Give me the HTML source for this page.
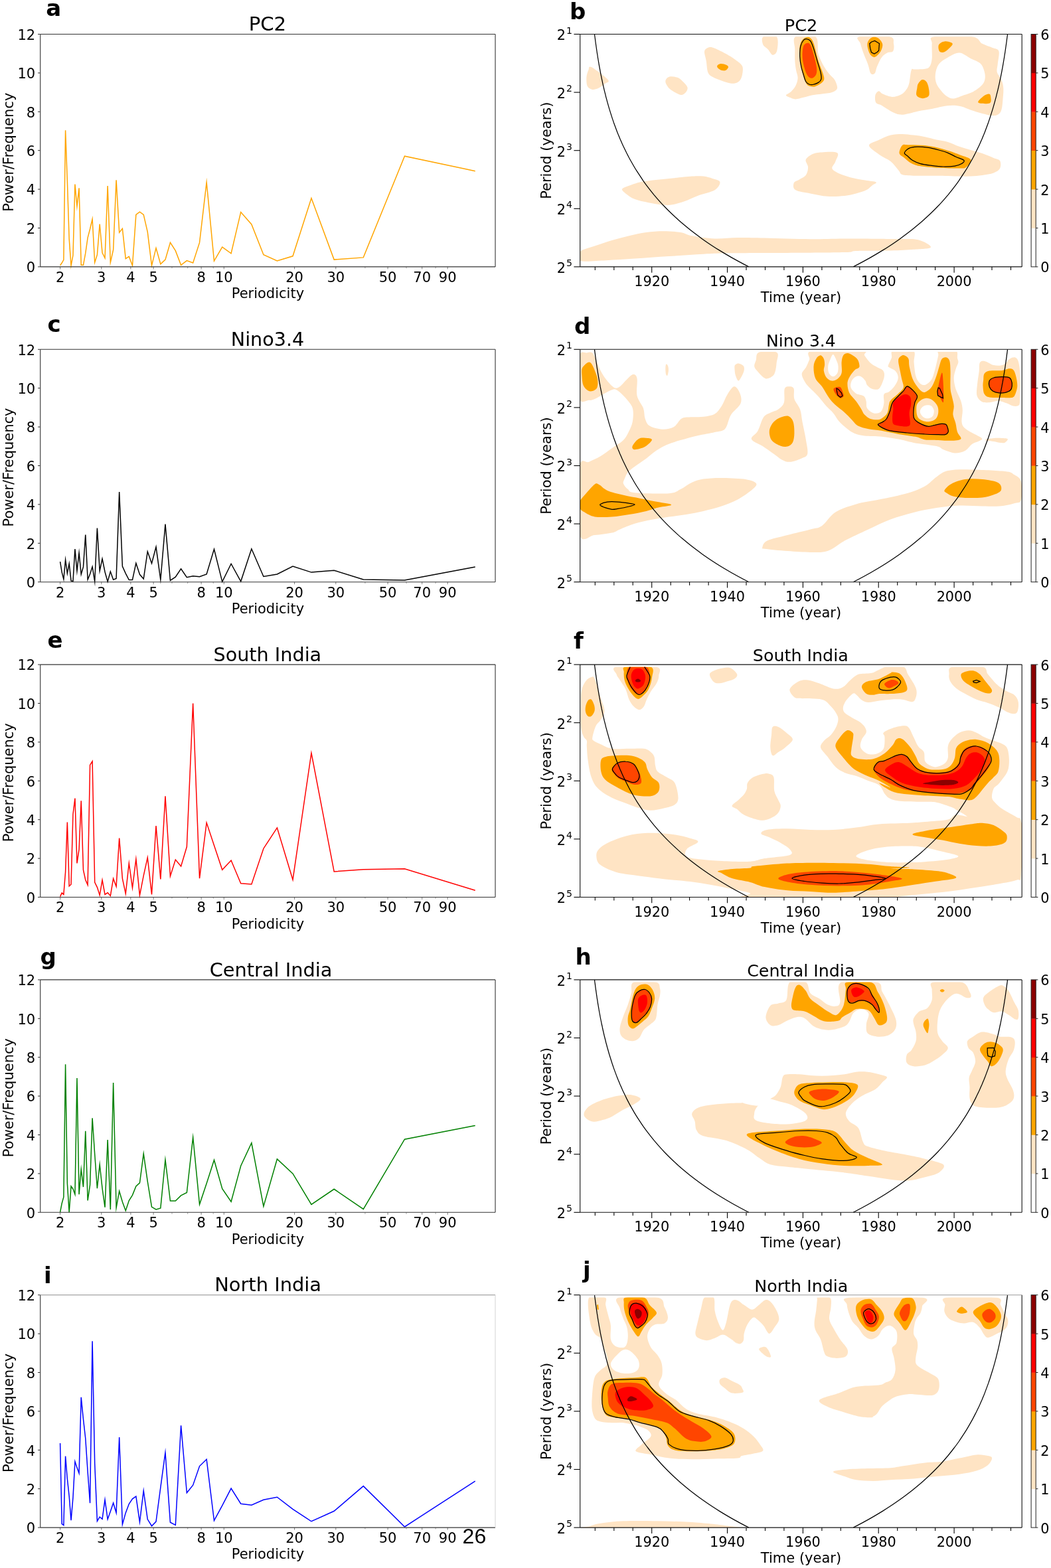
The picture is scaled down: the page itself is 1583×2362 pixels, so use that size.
<!DOCTYPE html><html><head><meta charset="utf-8"><style>html,body{margin:0;padding:0;background:#fff;}svg{display:block;}</style></head><body><svg xmlns="http://www.w3.org/2000/svg" width="1583" height="2362" viewBox="0 0 1583 2362" font-family="'DejaVu Sans', 'Liberation Sans', sans-serif" fill="#000">
<rect width="1583" height="2362" fill="#fff"/>
<line x1="57.0" y1="401.9" x2="60.7" y2="401.9" stroke="#333" stroke-width="1"/>
<text x="53.2" y="410.2" font-size="21" text-anchor="end" font-weight="normal" >0</text>
<line x1="57.0" y1="343.5" x2="60.7" y2="343.5" stroke="#333" stroke-width="1"/>
<text x="53.2" y="351.8" font-size="21" text-anchor="end" font-weight="normal" >2</text>
<line x1="57.0" y1="285.1" x2="60.7" y2="285.1" stroke="#333" stroke-width="1"/>
<text x="53.2" y="293.4" font-size="21" text-anchor="end" font-weight="normal" >4</text>
<line x1="57.0" y1="226.7" x2="60.7" y2="226.7" stroke="#333" stroke-width="1"/>
<text x="53.2" y="235.0" font-size="21" text-anchor="end" font-weight="normal" >6</text>
<line x1="57.0" y1="168.3" x2="60.7" y2="168.3" stroke="#333" stroke-width="1"/>
<text x="53.2" y="176.6" font-size="21" text-anchor="end" font-weight="normal" >8</text>
<line x1="57.0" y1="109.9" x2="60.7" y2="109.9" stroke="#333" stroke-width="1"/>
<text x="53.2" y="118.2" font-size="21" text-anchor="end" font-weight="normal" >10</text>
<line x1="57.0" y1="51.5" x2="60.7" y2="51.5" stroke="#333" stroke-width="1"/>
<text x="53.2" y="59.8" font-size="21" text-anchor="end" font-weight="normal" >12</text>
<line x1="90.6" y1="401.9" x2="90.6" y2="405.4" stroke="#555" stroke-width="0.8"/>
<text x="90.6" y="424.7" font-size="21" text-anchor="middle" font-weight="normal" >2</text>
<line x1="152.8" y1="401.9" x2="152.8" y2="405.4" stroke="#555" stroke-width="0.8"/>
<text x="152.8" y="424.7" font-size="21" text-anchor="middle" font-weight="normal" >3</text>
<line x1="196.9" y1="401.9" x2="196.9" y2="405.4" stroke="#555" stroke-width="0.8"/>
<text x="196.9" y="424.7" font-size="21" text-anchor="middle" font-weight="normal" >4</text>
<line x1="231.1" y1="401.9" x2="231.1" y2="405.4" stroke="#555" stroke-width="0.8"/>
<text x="231.1" y="424.7" font-size="21" text-anchor="middle" font-weight="normal" >5</text>
<line x1="303.1" y1="401.9" x2="303.1" y2="405.4" stroke="#555" stroke-width="0.8"/>
<text x="303.1" y="424.7" font-size="21" text-anchor="middle" font-weight="normal" >8</text>
<line x1="337.3" y1="401.9" x2="337.3" y2="405.4" stroke="#555" stroke-width="0.8"/>
<text x="337.3" y="424.7" font-size="21" text-anchor="middle" font-weight="normal" >10</text>
<line x1="443.6" y1="401.9" x2="443.6" y2="405.4" stroke="#555" stroke-width="0.8"/>
<text x="443.6" y="424.7" font-size="21" text-anchor="middle" font-weight="normal" >20</text>
<line x1="505.8" y1="401.9" x2="505.8" y2="405.4" stroke="#555" stroke-width="0.8"/>
<text x="505.8" y="424.7" font-size="21" text-anchor="middle" font-weight="normal" >30</text>
<line x1="584.1" y1="401.9" x2="584.1" y2="405.4" stroke="#555" stroke-width="0.8"/>
<text x="584.1" y="424.7" font-size="21" text-anchor="middle" font-weight="normal" >50</text>
<line x1="635.7" y1="401.9" x2="635.7" y2="405.4" stroke="#555" stroke-width="0.8"/>
<text x="635.7" y="424.7" font-size="21" text-anchor="middle" font-weight="normal" >70</text>
<line x1="674.2" y1="401.9" x2="674.2" y2="405.4" stroke="#555" stroke-width="0.8"/>
<text x="674.2" y="424.7" font-size="21" text-anchor="middle" font-weight="normal" >90</text>
<line x1="259.0" y1="401.9" x2="259.0" y2="404.4" stroke="#777" stroke-width="0.7"/>
<line x1="282.7" y1="401.9" x2="282.7" y2="404.4" stroke="#777" stroke-width="0.7"/>
<line x1="321.2" y1="401.9" x2="321.2" y2="404.4" stroke="#777" stroke-width="0.7"/>
<line x1="549.9" y1="401.9" x2="549.9" y2="404.4" stroke="#777" stroke-width="0.7"/>
<line x1="612.0" y1="401.9" x2="612.0" y2="404.4" stroke="#777" stroke-width="0.7"/>
<line x1="656.1" y1="401.9" x2="656.1" y2="404.4" stroke="#777" stroke-width="0.7"/>
<text x="403.4" y="449.2" font-size="21" text-anchor="middle" font-weight="normal" >Periodicity</text>
<text transform="translate(20.1,229.2) rotate(-90)" font-size="21" text-anchor="middle">Power/Frequency</text>
<text x="402.9" y="45.5" font-size="29.18" text-anchor="middle" font-weight="normal" >PC2</text>
<line x1="864.4" y1="51.5" x2="873.7" y2="51.5" stroke="#000" stroke-width="1.1"/>
<text x="861.8" y="60.4" font-size="20.8" text-anchor="end">2<tspan font-size="14" dx="1" dy="-9.8">1</tspan></text>
<line x1="864.4" y1="139.1" x2="873.7" y2="139.1" stroke="#000" stroke-width="1.1"/>
<text x="861.8" y="148.0" font-size="20.8" text-anchor="end">2<tspan font-size="14" dx="1" dy="-9.8">2</tspan></text>
<line x1="864.4" y1="226.7" x2="873.7" y2="226.7" stroke="#000" stroke-width="1.1"/>
<text x="861.8" y="235.6" font-size="20.8" text-anchor="end">2<tspan font-size="14" dx="1" dy="-9.8">3</tspan></text>
<line x1="864.4" y1="314.3" x2="873.7" y2="314.3" stroke="#000" stroke-width="1.1"/>
<text x="861.8" y="323.2" font-size="20.8" text-anchor="end">2<tspan font-size="14" dx="1" dy="-9.8">4</tspan></text>
<line x1="864.4" y1="401.9" x2="873.7" y2="401.9" stroke="#000" stroke-width="1.1"/>
<text x="861.8" y="410.8" font-size="20.8" text-anchor="end">2<tspan font-size="14" dx="1" dy="-9.8">5</tspan></text>
<line x1="896.3" y1="401.9" x2="896.3" y2="406.9" stroke="#000" stroke-width="1.1"/>
<line x1="924.8" y1="401.9" x2="924.8" y2="406.9" stroke="#000" stroke-width="1.1"/>
<line x1="953.2" y1="401.9" x2="953.2" y2="406.9" stroke="#000" stroke-width="1.1"/>
<line x1="981.7" y1="401.9" x2="981.7" y2="410.7" stroke="#000" stroke-width="1.1"/>
<text x="981.7" y="430.9" font-size="20.8" text-anchor="middle" font-weight="normal" >1920</text>
<line x1="1010.2" y1="401.9" x2="1010.2" y2="406.9" stroke="#000" stroke-width="1.1"/>
<line x1="1038.6" y1="401.9" x2="1038.6" y2="406.9" stroke="#000" stroke-width="1.1"/>
<line x1="1067.1" y1="401.9" x2="1067.1" y2="406.9" stroke="#000" stroke-width="1.1"/>
<line x1="1095.5" y1="401.9" x2="1095.5" y2="410.7" stroke="#000" stroke-width="1.1"/>
<text x="1095.5" y="430.9" font-size="20.8" text-anchor="middle" font-weight="normal" >1940</text>
<line x1="1124.0" y1="401.9" x2="1124.0" y2="406.9" stroke="#000" stroke-width="1.1"/>
<line x1="1152.5" y1="401.9" x2="1152.5" y2="406.9" stroke="#000" stroke-width="1.1"/>
<line x1="1180.9" y1="401.9" x2="1180.9" y2="406.9" stroke="#000" stroke-width="1.1"/>
<line x1="1209.4" y1="401.9" x2="1209.4" y2="410.7" stroke="#000" stroke-width="1.1"/>
<text x="1209.4" y="430.9" font-size="20.8" text-anchor="middle" font-weight="normal" >1960</text>
<line x1="1237.9" y1="401.9" x2="1237.9" y2="406.9" stroke="#000" stroke-width="1.1"/>
<line x1="1266.3" y1="401.9" x2="1266.3" y2="406.9" stroke="#000" stroke-width="1.1"/>
<line x1="1294.8" y1="401.9" x2="1294.8" y2="406.9" stroke="#000" stroke-width="1.1"/>
<line x1="1323.2" y1="401.9" x2="1323.2" y2="410.7" stroke="#000" stroke-width="1.1"/>
<text x="1323.2" y="430.9" font-size="20.8" text-anchor="middle" font-weight="normal" >1980</text>
<line x1="1351.7" y1="401.9" x2="1351.7" y2="406.9" stroke="#000" stroke-width="1.1"/>
<line x1="1380.2" y1="401.9" x2="1380.2" y2="406.9" stroke="#000" stroke-width="1.1"/>
<line x1="1408.6" y1="401.9" x2="1408.6" y2="406.9" stroke="#000" stroke-width="1.1"/>
<line x1="1437.1" y1="401.9" x2="1437.1" y2="410.7" stroke="#000" stroke-width="1.1"/>
<text x="1437.1" y="430.9" font-size="20.8" text-anchor="middle" font-weight="normal" >2000</text>
<line x1="1465.6" y1="401.9" x2="1465.6" y2="406.9" stroke="#000" stroke-width="1.1"/>
<line x1="1494.0" y1="401.9" x2="1494.0" y2="406.9" stroke="#000" stroke-width="1.1"/>
<line x1="1522.5" y1="401.9" x2="1522.5" y2="406.9" stroke="#000" stroke-width="1.1"/>
<text x="1206.5" y="454.9" font-size="21" text-anchor="middle" font-weight="normal" >Time (year)</text>
<text transform="translate(829.6,226.7) rotate(-90)" font-size="21" text-anchor="middle">Period (years)</text>
<text x="1206.6" y="46.9" font-size="25.65" text-anchor="middle" font-weight="normal" >PC2</text>
<rect x="1553.1" y="343.5" width="7.1" height="58.7" fill="#ffffff"/>
<rect x="1553.1" y="285.1" width="7.1" height="58.7" fill="#ffe4c4"/>
<rect x="1553.1" y="226.7" width="7.1" height="58.7" fill="#ffa500"/>
<rect x="1553.1" y="168.3" width="7.1" height="58.7" fill="#ff4500"/>
<rect x="1553.1" y="109.9" width="7.1" height="58.7" fill="#ff0000"/>
<rect x="1553.1" y="51.5" width="7.1" height="58.7" fill="#8b0000"/>
<rect x="1553.1" y="51.5" width="7.1" height="350.4" fill="none" stroke="#222" stroke-width="1"/>
<line x1="1560.2" y1="401.9" x2="1563.4" y2="401.9" stroke="#222" stroke-width="1"/>
<text x="1567.3" y="410.4" font-size="20.8" text-anchor="start" font-weight="normal" >0</text>
<line x1="1560.2" y1="343.5" x2="1563.4" y2="343.5" stroke="#222" stroke-width="1"/>
<text x="1567.3" y="352.0" font-size="20.8" text-anchor="start" font-weight="normal" >1</text>
<line x1="1560.2" y1="285.1" x2="1563.4" y2="285.1" stroke="#222" stroke-width="1"/>
<text x="1567.3" y="293.6" font-size="20.8" text-anchor="start" font-weight="normal" >2</text>
<line x1="1560.2" y1="226.7" x2="1563.4" y2="226.7" stroke="#222" stroke-width="1"/>
<text x="1567.3" y="235.2" font-size="20.8" text-anchor="start" font-weight="normal" >3</text>
<line x1="1560.2" y1="168.3" x2="1563.4" y2="168.3" stroke="#222" stroke-width="1"/>
<text x="1567.3" y="176.8" font-size="20.8" text-anchor="start" font-weight="normal" >4</text>
<line x1="1560.2" y1="109.9" x2="1563.4" y2="109.9" stroke="#222" stroke-width="1"/>
<text x="1567.3" y="118.4" font-size="20.8" text-anchor="start" font-weight="normal" >5</text>
<line x1="1560.2" y1="51.5" x2="1563.4" y2="51.5" stroke="#222" stroke-width="1"/>
<text x="1567.3" y="60.0" font-size="20.8" text-anchor="start" font-weight="normal" >6</text>
<line x1="57.0" y1="876.7" x2="60.7" y2="876.7" stroke="#333" stroke-width="1"/>
<text x="53.2" y="885.0" font-size="21" text-anchor="end" font-weight="normal" >0</text>
<line x1="57.0" y1="818.3" x2="60.7" y2="818.3" stroke="#333" stroke-width="1"/>
<text x="53.2" y="826.6" font-size="21" text-anchor="end" font-weight="normal" >2</text>
<line x1="57.0" y1="759.9" x2="60.7" y2="759.9" stroke="#333" stroke-width="1"/>
<text x="53.2" y="768.2" font-size="21" text-anchor="end" font-weight="normal" >4</text>
<line x1="57.0" y1="701.5" x2="60.7" y2="701.5" stroke="#333" stroke-width="1"/>
<text x="53.2" y="709.8" font-size="21" text-anchor="end" font-weight="normal" >6</text>
<line x1="57.0" y1="643.1" x2="60.7" y2="643.1" stroke="#333" stroke-width="1"/>
<text x="53.2" y="651.4" font-size="21" text-anchor="end" font-weight="normal" >8</text>
<line x1="57.0" y1="584.7" x2="60.7" y2="584.7" stroke="#333" stroke-width="1"/>
<text x="53.2" y="593.0" font-size="21" text-anchor="end" font-weight="normal" >10</text>
<line x1="57.0" y1="526.3" x2="60.7" y2="526.3" stroke="#333" stroke-width="1"/>
<text x="53.2" y="534.6" font-size="21" text-anchor="end" font-weight="normal" >12</text>
<line x1="90.6" y1="876.7" x2="90.6" y2="880.2" stroke="#555" stroke-width="0.8"/>
<text x="90.6" y="899.5" font-size="21" text-anchor="middle" font-weight="normal" >2</text>
<line x1="152.8" y1="876.7" x2="152.8" y2="880.2" stroke="#555" stroke-width="0.8"/>
<text x="152.8" y="899.5" font-size="21" text-anchor="middle" font-weight="normal" >3</text>
<line x1="196.9" y1="876.7" x2="196.9" y2="880.2" stroke="#555" stroke-width="0.8"/>
<text x="196.9" y="899.5" font-size="21" text-anchor="middle" font-weight="normal" >4</text>
<line x1="231.1" y1="876.7" x2="231.1" y2="880.2" stroke="#555" stroke-width="0.8"/>
<text x="231.1" y="899.5" font-size="21" text-anchor="middle" font-weight="normal" >5</text>
<line x1="303.1" y1="876.7" x2="303.1" y2="880.2" stroke="#555" stroke-width="0.8"/>
<text x="303.1" y="899.5" font-size="21" text-anchor="middle" font-weight="normal" >8</text>
<line x1="337.3" y1="876.7" x2="337.3" y2="880.2" stroke="#555" stroke-width="0.8"/>
<text x="337.3" y="899.5" font-size="21" text-anchor="middle" font-weight="normal" >10</text>
<line x1="443.6" y1="876.7" x2="443.6" y2="880.2" stroke="#555" stroke-width="0.8"/>
<text x="443.6" y="899.5" font-size="21" text-anchor="middle" font-weight="normal" >20</text>
<line x1="505.8" y1="876.7" x2="505.8" y2="880.2" stroke="#555" stroke-width="0.8"/>
<text x="505.8" y="899.5" font-size="21" text-anchor="middle" font-weight="normal" >30</text>
<line x1="584.1" y1="876.7" x2="584.1" y2="880.2" stroke="#555" stroke-width="0.8"/>
<text x="584.1" y="899.5" font-size="21" text-anchor="middle" font-weight="normal" >50</text>
<line x1="635.7" y1="876.7" x2="635.7" y2="880.2" stroke="#555" stroke-width="0.8"/>
<text x="635.7" y="899.5" font-size="21" text-anchor="middle" font-weight="normal" >70</text>
<line x1="674.2" y1="876.7" x2="674.2" y2="880.2" stroke="#555" stroke-width="0.8"/>
<text x="674.2" y="899.5" font-size="21" text-anchor="middle" font-weight="normal" >90</text>
<line x1="259.0" y1="876.7" x2="259.0" y2="879.2" stroke="#777" stroke-width="0.7"/>
<line x1="282.7" y1="876.7" x2="282.7" y2="879.2" stroke="#777" stroke-width="0.7"/>
<line x1="321.2" y1="876.7" x2="321.2" y2="879.2" stroke="#777" stroke-width="0.7"/>
<line x1="549.9" y1="876.7" x2="549.9" y2="879.2" stroke="#777" stroke-width="0.7"/>
<line x1="612.0" y1="876.7" x2="612.0" y2="879.2" stroke="#777" stroke-width="0.7"/>
<line x1="656.1" y1="876.7" x2="656.1" y2="879.2" stroke="#777" stroke-width="0.7"/>
<text x="403.4" y="924.0" font-size="21" text-anchor="middle" font-weight="normal" >Periodicity</text>
<text transform="translate(20.1,704.0) rotate(-90)" font-size="21" text-anchor="middle">Power/Frequency</text>
<text x="403.0" y="521.1" font-size="28.6" text-anchor="middle" font-weight="normal" >Nino3.4</text>
<line x1="864.4" y1="526.3" x2="873.7" y2="526.3" stroke="#000" stroke-width="1.1"/>
<text x="861.8" y="535.2" font-size="20.8" text-anchor="end">2<tspan font-size="14" dx="1" dy="-9.8">1</tspan></text>
<line x1="864.4" y1="613.9" x2="873.7" y2="613.9" stroke="#000" stroke-width="1.1"/>
<text x="861.8" y="622.8" font-size="20.8" text-anchor="end">2<tspan font-size="14" dx="1" dy="-9.8">2</tspan></text>
<line x1="864.4" y1="701.5" x2="873.7" y2="701.5" stroke="#000" stroke-width="1.1"/>
<text x="861.8" y="710.4" font-size="20.8" text-anchor="end">2<tspan font-size="14" dx="1" dy="-9.8">3</tspan></text>
<line x1="864.4" y1="789.1" x2="873.7" y2="789.1" stroke="#000" stroke-width="1.1"/>
<text x="861.8" y="798.0" font-size="20.8" text-anchor="end">2<tspan font-size="14" dx="1" dy="-9.8">4</tspan></text>
<line x1="864.4" y1="876.7" x2="873.7" y2="876.7" stroke="#000" stroke-width="1.1"/>
<text x="861.8" y="885.6" font-size="20.8" text-anchor="end">2<tspan font-size="14" dx="1" dy="-9.8">5</tspan></text>
<line x1="896.3" y1="876.7" x2="896.3" y2="881.7" stroke="#000" stroke-width="1.1"/>
<line x1="924.8" y1="876.7" x2="924.8" y2="881.7" stroke="#000" stroke-width="1.1"/>
<line x1="953.2" y1="876.7" x2="953.2" y2="881.7" stroke="#000" stroke-width="1.1"/>
<line x1="981.7" y1="876.7" x2="981.7" y2="885.5" stroke="#000" stroke-width="1.1"/>
<text x="981.7" y="905.7" font-size="20.8" text-anchor="middle" font-weight="normal" >1920</text>
<line x1="1010.2" y1="876.7" x2="1010.2" y2="881.7" stroke="#000" stroke-width="1.1"/>
<line x1="1038.6" y1="876.7" x2="1038.6" y2="881.7" stroke="#000" stroke-width="1.1"/>
<line x1="1067.1" y1="876.7" x2="1067.1" y2="881.7" stroke="#000" stroke-width="1.1"/>
<line x1="1095.5" y1="876.7" x2="1095.5" y2="885.5" stroke="#000" stroke-width="1.1"/>
<text x="1095.5" y="905.7" font-size="20.8" text-anchor="middle" font-weight="normal" >1940</text>
<line x1="1124.0" y1="876.7" x2="1124.0" y2="881.7" stroke="#000" stroke-width="1.1"/>
<line x1="1152.5" y1="876.7" x2="1152.5" y2="881.7" stroke="#000" stroke-width="1.1"/>
<line x1="1180.9" y1="876.7" x2="1180.9" y2="881.7" stroke="#000" stroke-width="1.1"/>
<line x1="1209.4" y1="876.7" x2="1209.4" y2="885.5" stroke="#000" stroke-width="1.1"/>
<text x="1209.4" y="905.7" font-size="20.8" text-anchor="middle" font-weight="normal" >1960</text>
<line x1="1237.9" y1="876.7" x2="1237.9" y2="881.7" stroke="#000" stroke-width="1.1"/>
<line x1="1266.3" y1="876.7" x2="1266.3" y2="881.7" stroke="#000" stroke-width="1.1"/>
<line x1="1294.8" y1="876.7" x2="1294.8" y2="881.7" stroke="#000" stroke-width="1.1"/>
<line x1="1323.2" y1="876.7" x2="1323.2" y2="885.5" stroke="#000" stroke-width="1.1"/>
<text x="1323.2" y="905.7" font-size="20.8" text-anchor="middle" font-weight="normal" >1980</text>
<line x1="1351.7" y1="876.7" x2="1351.7" y2="881.7" stroke="#000" stroke-width="1.1"/>
<line x1="1380.2" y1="876.7" x2="1380.2" y2="881.7" stroke="#000" stroke-width="1.1"/>
<line x1="1408.6" y1="876.7" x2="1408.6" y2="881.7" stroke="#000" stroke-width="1.1"/>
<line x1="1437.1" y1="876.7" x2="1437.1" y2="885.5" stroke="#000" stroke-width="1.1"/>
<text x="1437.1" y="905.7" font-size="20.8" text-anchor="middle" font-weight="normal" >2000</text>
<line x1="1465.6" y1="876.7" x2="1465.6" y2="881.7" stroke="#000" stroke-width="1.1"/>
<line x1="1494.0" y1="876.7" x2="1494.0" y2="881.7" stroke="#000" stroke-width="1.1"/>
<line x1="1522.5" y1="876.7" x2="1522.5" y2="881.7" stroke="#000" stroke-width="1.1"/>
<text x="1206.5" y="929.7" font-size="21" text-anchor="middle" font-weight="normal" >Time (year)</text>
<text transform="translate(829.6,701.5) rotate(-90)" font-size="21" text-anchor="middle">Period (years)</text>
<text x="1206.4" y="521.7" font-size="25.05" text-anchor="middle" font-weight="normal" >Nino 3.4</text>
<rect x="1553.1" y="818.3" width="7.1" height="58.7" fill="#ffffff"/>
<rect x="1553.1" y="759.9" width="7.1" height="58.7" fill="#ffe4c4"/>
<rect x="1553.1" y="701.5" width="7.1" height="58.7" fill="#ffa500"/>
<rect x="1553.1" y="643.1" width="7.1" height="58.7" fill="#ff4500"/>
<rect x="1553.1" y="584.7" width="7.1" height="58.7" fill="#ff0000"/>
<rect x="1553.1" y="526.3" width="7.1" height="58.7" fill="#8b0000"/>
<rect x="1553.1" y="526.3" width="7.1" height="350.4" fill="none" stroke="#222" stroke-width="1"/>
<line x1="1560.2" y1="876.7" x2="1563.4" y2="876.7" stroke="#222" stroke-width="1"/>
<text x="1567.3" y="885.2" font-size="20.8" text-anchor="start" font-weight="normal" >0</text>
<line x1="1560.2" y1="818.3" x2="1563.4" y2="818.3" stroke="#222" stroke-width="1"/>
<text x="1567.3" y="826.8" font-size="20.8" text-anchor="start" font-weight="normal" >1</text>
<line x1="1560.2" y1="759.9" x2="1563.4" y2="759.9" stroke="#222" stroke-width="1"/>
<text x="1567.3" y="768.4" font-size="20.8" text-anchor="start" font-weight="normal" >2</text>
<line x1="1560.2" y1="701.5" x2="1563.4" y2="701.5" stroke="#222" stroke-width="1"/>
<text x="1567.3" y="710.0" font-size="20.8" text-anchor="start" font-weight="normal" >3</text>
<line x1="1560.2" y1="643.1" x2="1563.4" y2="643.1" stroke="#222" stroke-width="1"/>
<text x="1567.3" y="651.6" font-size="20.8" text-anchor="start" font-weight="normal" >4</text>
<line x1="1560.2" y1="584.7" x2="1563.4" y2="584.7" stroke="#222" stroke-width="1"/>
<text x="1567.3" y="593.2" font-size="20.8" text-anchor="start" font-weight="normal" >5</text>
<line x1="1560.2" y1="526.3" x2="1563.4" y2="526.3" stroke="#222" stroke-width="1"/>
<text x="1567.3" y="534.8" font-size="20.8" text-anchor="start" font-weight="normal" >6</text>
<line x1="57.0" y1="1351.5" x2="60.7" y2="1351.5" stroke="#333" stroke-width="1"/>
<text x="53.2" y="1359.8" font-size="21" text-anchor="end" font-weight="normal" >0</text>
<line x1="57.0" y1="1293.1" x2="60.7" y2="1293.1" stroke="#333" stroke-width="1"/>
<text x="53.2" y="1301.4" font-size="21" text-anchor="end" font-weight="normal" >2</text>
<line x1="57.0" y1="1234.7" x2="60.7" y2="1234.7" stroke="#333" stroke-width="1"/>
<text x="53.2" y="1243.0" font-size="21" text-anchor="end" font-weight="normal" >4</text>
<line x1="57.0" y1="1176.3" x2="60.7" y2="1176.3" stroke="#333" stroke-width="1"/>
<text x="53.2" y="1184.6" font-size="21" text-anchor="end" font-weight="normal" >6</text>
<line x1="57.0" y1="1117.9" x2="60.7" y2="1117.9" stroke="#333" stroke-width="1"/>
<text x="53.2" y="1126.2" font-size="21" text-anchor="end" font-weight="normal" >8</text>
<line x1="57.0" y1="1059.5" x2="60.7" y2="1059.5" stroke="#333" stroke-width="1"/>
<text x="53.2" y="1067.8" font-size="21" text-anchor="end" font-weight="normal" >10</text>
<line x1="57.0" y1="1001.1" x2="60.7" y2="1001.1" stroke="#333" stroke-width="1"/>
<text x="53.2" y="1009.4" font-size="21" text-anchor="end" font-weight="normal" >12</text>
<line x1="90.6" y1="1351.5" x2="90.6" y2="1355.0" stroke="#555" stroke-width="0.8"/>
<text x="90.6" y="1374.3" font-size="21" text-anchor="middle" font-weight="normal" >2</text>
<line x1="152.8" y1="1351.5" x2="152.8" y2="1355.0" stroke="#555" stroke-width="0.8"/>
<text x="152.8" y="1374.3" font-size="21" text-anchor="middle" font-weight="normal" >3</text>
<line x1="196.9" y1="1351.5" x2="196.9" y2="1355.0" stroke="#555" stroke-width="0.8"/>
<text x="196.9" y="1374.3" font-size="21" text-anchor="middle" font-weight="normal" >4</text>
<line x1="231.1" y1="1351.5" x2="231.1" y2="1355.0" stroke="#555" stroke-width="0.8"/>
<text x="231.1" y="1374.3" font-size="21" text-anchor="middle" font-weight="normal" >5</text>
<line x1="303.1" y1="1351.5" x2="303.1" y2="1355.0" stroke="#555" stroke-width="0.8"/>
<text x="303.1" y="1374.3" font-size="21" text-anchor="middle" font-weight="normal" >8</text>
<line x1="337.3" y1="1351.5" x2="337.3" y2="1355.0" stroke="#555" stroke-width="0.8"/>
<text x="337.3" y="1374.3" font-size="21" text-anchor="middle" font-weight="normal" >10</text>
<line x1="443.6" y1="1351.5" x2="443.6" y2="1355.0" stroke="#555" stroke-width="0.8"/>
<text x="443.6" y="1374.3" font-size="21" text-anchor="middle" font-weight="normal" >20</text>
<line x1="505.8" y1="1351.5" x2="505.8" y2="1355.0" stroke="#555" stroke-width="0.8"/>
<text x="505.8" y="1374.3" font-size="21" text-anchor="middle" font-weight="normal" >30</text>
<line x1="584.1" y1="1351.5" x2="584.1" y2="1355.0" stroke="#555" stroke-width="0.8"/>
<text x="584.1" y="1374.3" font-size="21" text-anchor="middle" font-weight="normal" >50</text>
<line x1="635.7" y1="1351.5" x2="635.7" y2="1355.0" stroke="#555" stroke-width="0.8"/>
<text x="635.7" y="1374.3" font-size="21" text-anchor="middle" font-weight="normal" >70</text>
<line x1="674.2" y1="1351.5" x2="674.2" y2="1355.0" stroke="#555" stroke-width="0.8"/>
<text x="674.2" y="1374.3" font-size="21" text-anchor="middle" font-weight="normal" >90</text>
<line x1="259.0" y1="1351.5" x2="259.0" y2="1354.0" stroke="#777" stroke-width="0.7"/>
<line x1="282.7" y1="1351.5" x2="282.7" y2="1354.0" stroke="#777" stroke-width="0.7"/>
<line x1="321.2" y1="1351.5" x2="321.2" y2="1354.0" stroke="#777" stroke-width="0.7"/>
<line x1="549.9" y1="1351.5" x2="549.9" y2="1354.0" stroke="#777" stroke-width="0.7"/>
<line x1="612.0" y1="1351.5" x2="612.0" y2="1354.0" stroke="#777" stroke-width="0.7"/>
<line x1="656.1" y1="1351.5" x2="656.1" y2="1354.0" stroke="#777" stroke-width="0.7"/>
<text x="403.4" y="1398.8" font-size="21" text-anchor="middle" font-weight="normal" >Periodicity</text>
<text transform="translate(20.1,1178.8) rotate(-90)" font-size="21" text-anchor="middle">Power/Frequency</text>
<text x="402.8" y="995.9" font-size="28.67" text-anchor="middle" font-weight="normal" >South India</text>
<line x1="864.4" y1="1001.1" x2="873.7" y2="1001.1" stroke="#000" stroke-width="1.1"/>
<text x="861.8" y="1010.0" font-size="20.8" text-anchor="end">2<tspan font-size="14" dx="1" dy="-9.8">1</tspan></text>
<line x1="864.4" y1="1088.7" x2="873.7" y2="1088.7" stroke="#000" stroke-width="1.1"/>
<text x="861.8" y="1097.6" font-size="20.8" text-anchor="end">2<tspan font-size="14" dx="1" dy="-9.8">2</tspan></text>
<line x1="864.4" y1="1176.3" x2="873.7" y2="1176.3" stroke="#000" stroke-width="1.1"/>
<text x="861.8" y="1185.2" font-size="20.8" text-anchor="end">2<tspan font-size="14" dx="1" dy="-9.8">3</tspan></text>
<line x1="864.4" y1="1263.9" x2="873.7" y2="1263.9" stroke="#000" stroke-width="1.1"/>
<text x="861.8" y="1272.8" font-size="20.8" text-anchor="end">2<tspan font-size="14" dx="1" dy="-9.8">4</tspan></text>
<line x1="864.4" y1="1351.5" x2="873.7" y2="1351.5" stroke="#000" stroke-width="1.1"/>
<text x="861.8" y="1360.4" font-size="20.8" text-anchor="end">2<tspan font-size="14" dx="1" dy="-9.8">5</tspan></text>
<line x1="896.3" y1="1351.5" x2="896.3" y2="1356.5" stroke="#000" stroke-width="1.1"/>
<line x1="924.8" y1="1351.5" x2="924.8" y2="1356.5" stroke="#000" stroke-width="1.1"/>
<line x1="953.2" y1="1351.5" x2="953.2" y2="1356.5" stroke="#000" stroke-width="1.1"/>
<line x1="981.7" y1="1351.5" x2="981.7" y2="1360.3" stroke="#000" stroke-width="1.1"/>
<text x="981.7" y="1380.5" font-size="20.8" text-anchor="middle" font-weight="normal" >1920</text>
<line x1="1010.2" y1="1351.5" x2="1010.2" y2="1356.5" stroke="#000" stroke-width="1.1"/>
<line x1="1038.6" y1="1351.5" x2="1038.6" y2="1356.5" stroke="#000" stroke-width="1.1"/>
<line x1="1067.1" y1="1351.5" x2="1067.1" y2="1356.5" stroke="#000" stroke-width="1.1"/>
<line x1="1095.5" y1="1351.5" x2="1095.5" y2="1360.3" stroke="#000" stroke-width="1.1"/>
<text x="1095.5" y="1380.5" font-size="20.8" text-anchor="middle" font-weight="normal" >1940</text>
<line x1="1124.0" y1="1351.5" x2="1124.0" y2="1356.5" stroke="#000" stroke-width="1.1"/>
<line x1="1152.5" y1="1351.5" x2="1152.5" y2="1356.5" stroke="#000" stroke-width="1.1"/>
<line x1="1180.9" y1="1351.5" x2="1180.9" y2="1356.5" stroke="#000" stroke-width="1.1"/>
<line x1="1209.4" y1="1351.5" x2="1209.4" y2="1360.3" stroke="#000" stroke-width="1.1"/>
<text x="1209.4" y="1380.5" font-size="20.8" text-anchor="middle" font-weight="normal" >1960</text>
<line x1="1237.9" y1="1351.5" x2="1237.9" y2="1356.5" stroke="#000" stroke-width="1.1"/>
<line x1="1266.3" y1="1351.5" x2="1266.3" y2="1356.5" stroke="#000" stroke-width="1.1"/>
<line x1="1294.8" y1="1351.5" x2="1294.8" y2="1356.5" stroke="#000" stroke-width="1.1"/>
<line x1="1323.2" y1="1351.5" x2="1323.2" y2="1360.3" stroke="#000" stroke-width="1.1"/>
<text x="1323.2" y="1380.5" font-size="20.8" text-anchor="middle" font-weight="normal" >1980</text>
<line x1="1351.7" y1="1351.5" x2="1351.7" y2="1356.5" stroke="#000" stroke-width="1.1"/>
<line x1="1380.2" y1="1351.5" x2="1380.2" y2="1356.5" stroke="#000" stroke-width="1.1"/>
<line x1="1408.6" y1="1351.5" x2="1408.6" y2="1356.5" stroke="#000" stroke-width="1.1"/>
<line x1="1437.1" y1="1351.5" x2="1437.1" y2="1360.3" stroke="#000" stroke-width="1.1"/>
<text x="1437.1" y="1380.5" font-size="20.8" text-anchor="middle" font-weight="normal" >2000</text>
<line x1="1465.6" y1="1351.5" x2="1465.6" y2="1356.5" stroke="#000" stroke-width="1.1"/>
<line x1="1494.0" y1="1351.5" x2="1494.0" y2="1356.5" stroke="#000" stroke-width="1.1"/>
<line x1="1522.5" y1="1351.5" x2="1522.5" y2="1356.5" stroke="#000" stroke-width="1.1"/>
<text x="1206.5" y="1404.5" font-size="21" text-anchor="middle" font-weight="normal" >Time (year)</text>
<text transform="translate(829.6,1176.3) rotate(-90)" font-size="21" text-anchor="middle">Period (years)</text>
<text x="1205.8" y="996.1" font-size="25.37" text-anchor="middle" font-weight="normal" >South India</text>
<rect x="1553.1" y="1293.1" width="7.1" height="58.7" fill="#ffffff"/>
<rect x="1553.1" y="1234.7" width="7.1" height="58.7" fill="#ffe4c4"/>
<rect x="1553.1" y="1176.3" width="7.1" height="58.7" fill="#ffa500"/>
<rect x="1553.1" y="1117.9" width="7.1" height="58.7" fill="#ff4500"/>
<rect x="1553.1" y="1059.5" width="7.1" height="58.7" fill="#ff0000"/>
<rect x="1553.1" y="1001.1" width="7.1" height="58.7" fill="#8b0000"/>
<rect x="1553.1" y="1001.1" width="7.1" height="350.4" fill="none" stroke="#222" stroke-width="1"/>
<line x1="1560.2" y1="1351.5" x2="1563.4" y2="1351.5" stroke="#222" stroke-width="1"/>
<text x="1567.3" y="1360.0" font-size="20.8" text-anchor="start" font-weight="normal" >0</text>
<line x1="1560.2" y1="1293.1" x2="1563.4" y2="1293.1" stroke="#222" stroke-width="1"/>
<text x="1567.3" y="1301.6" font-size="20.8" text-anchor="start" font-weight="normal" >1</text>
<line x1="1560.2" y1="1234.7" x2="1563.4" y2="1234.7" stroke="#222" stroke-width="1"/>
<text x="1567.3" y="1243.2" font-size="20.8" text-anchor="start" font-weight="normal" >2</text>
<line x1="1560.2" y1="1176.3" x2="1563.4" y2="1176.3" stroke="#222" stroke-width="1"/>
<text x="1567.3" y="1184.8" font-size="20.8" text-anchor="start" font-weight="normal" >3</text>
<line x1="1560.2" y1="1117.9" x2="1563.4" y2="1117.9" stroke="#222" stroke-width="1"/>
<text x="1567.3" y="1126.4" font-size="20.8" text-anchor="start" font-weight="normal" >4</text>
<line x1="1560.2" y1="1059.5" x2="1563.4" y2="1059.5" stroke="#222" stroke-width="1"/>
<text x="1567.3" y="1068.0" font-size="20.8" text-anchor="start" font-weight="normal" >5</text>
<line x1="1560.2" y1="1001.1" x2="1563.4" y2="1001.1" stroke="#222" stroke-width="1"/>
<text x="1567.3" y="1009.6" font-size="20.8" text-anchor="start" font-weight="normal" >6</text>
<line x1="57.0" y1="1826.3" x2="60.7" y2="1826.3" stroke="#333" stroke-width="1"/>
<text x="53.2" y="1834.6" font-size="21" text-anchor="end" font-weight="normal" >0</text>
<line x1="57.0" y1="1767.9" x2="60.7" y2="1767.9" stroke="#333" stroke-width="1"/>
<text x="53.2" y="1776.2" font-size="21" text-anchor="end" font-weight="normal" >2</text>
<line x1="57.0" y1="1709.5" x2="60.7" y2="1709.5" stroke="#333" stroke-width="1"/>
<text x="53.2" y="1717.8" font-size="21" text-anchor="end" font-weight="normal" >4</text>
<line x1="57.0" y1="1651.1" x2="60.7" y2="1651.1" stroke="#333" stroke-width="1"/>
<text x="53.2" y="1659.4" font-size="21" text-anchor="end" font-weight="normal" >6</text>
<line x1="57.0" y1="1592.7" x2="60.7" y2="1592.7" stroke="#333" stroke-width="1"/>
<text x="53.2" y="1601.0" font-size="21" text-anchor="end" font-weight="normal" >8</text>
<line x1="57.0" y1="1534.3" x2="60.7" y2="1534.3" stroke="#333" stroke-width="1"/>
<text x="53.2" y="1542.6" font-size="21" text-anchor="end" font-weight="normal" >10</text>
<line x1="57.0" y1="1475.9" x2="60.7" y2="1475.9" stroke="#333" stroke-width="1"/>
<text x="53.2" y="1484.2" font-size="21" text-anchor="end" font-weight="normal" >12</text>
<line x1="90.6" y1="1826.3" x2="90.6" y2="1829.8" stroke="#555" stroke-width="0.8"/>
<text x="90.6" y="1849.1" font-size="21" text-anchor="middle" font-weight="normal" >2</text>
<line x1="152.8" y1="1826.3" x2="152.8" y2="1829.8" stroke="#555" stroke-width="0.8"/>
<text x="152.8" y="1849.1" font-size="21" text-anchor="middle" font-weight="normal" >3</text>
<line x1="196.9" y1="1826.3" x2="196.9" y2="1829.8" stroke="#555" stroke-width="0.8"/>
<text x="196.9" y="1849.1" font-size="21" text-anchor="middle" font-weight="normal" >4</text>
<line x1="231.1" y1="1826.3" x2="231.1" y2="1829.8" stroke="#555" stroke-width="0.8"/>
<text x="231.1" y="1849.1" font-size="21" text-anchor="middle" font-weight="normal" >5</text>
<line x1="303.1" y1="1826.3" x2="303.1" y2="1829.8" stroke="#555" stroke-width="0.8"/>
<text x="303.1" y="1849.1" font-size="21" text-anchor="middle" font-weight="normal" >8</text>
<line x1="337.3" y1="1826.3" x2="337.3" y2="1829.8" stroke="#555" stroke-width="0.8"/>
<text x="337.3" y="1849.1" font-size="21" text-anchor="middle" font-weight="normal" >10</text>
<line x1="443.6" y1="1826.3" x2="443.6" y2="1829.8" stroke="#555" stroke-width="0.8"/>
<text x="443.6" y="1849.1" font-size="21" text-anchor="middle" font-weight="normal" >20</text>
<line x1="505.8" y1="1826.3" x2="505.8" y2="1829.8" stroke="#555" stroke-width="0.8"/>
<text x="505.8" y="1849.1" font-size="21" text-anchor="middle" font-weight="normal" >30</text>
<line x1="584.1" y1="1826.3" x2="584.1" y2="1829.8" stroke="#555" stroke-width="0.8"/>
<text x="584.1" y="1849.1" font-size="21" text-anchor="middle" font-weight="normal" >50</text>
<line x1="635.7" y1="1826.3" x2="635.7" y2="1829.8" stroke="#555" stroke-width="0.8"/>
<text x="635.7" y="1849.1" font-size="21" text-anchor="middle" font-weight="normal" >70</text>
<line x1="674.2" y1="1826.3" x2="674.2" y2="1829.8" stroke="#555" stroke-width="0.8"/>
<text x="674.2" y="1849.1" font-size="21" text-anchor="middle" font-weight="normal" >90</text>
<line x1="259.0" y1="1826.3" x2="259.0" y2="1828.8" stroke="#777" stroke-width="0.7"/>
<line x1="282.7" y1="1826.3" x2="282.7" y2="1828.8" stroke="#777" stroke-width="0.7"/>
<line x1="321.2" y1="1826.3" x2="321.2" y2="1828.8" stroke="#777" stroke-width="0.7"/>
<line x1="549.9" y1="1826.3" x2="549.9" y2="1828.8" stroke="#777" stroke-width="0.7"/>
<line x1="612.0" y1="1826.3" x2="612.0" y2="1828.8" stroke="#777" stroke-width="0.7"/>
<line x1="656.1" y1="1826.3" x2="656.1" y2="1828.8" stroke="#777" stroke-width="0.7"/>
<text x="403.4" y="1873.6" font-size="21" text-anchor="middle" font-weight="normal" >Periodicity</text>
<text transform="translate(20.1,1653.6) rotate(-90)" font-size="21" text-anchor="middle">Power/Frequency</text>
<text x="408.0" y="1470.5" font-size="28.79" text-anchor="middle" font-weight="normal" >Central India</text>
<line x1="864.4" y1="1475.9" x2="873.7" y2="1475.9" stroke="#000" stroke-width="1.1"/>
<text x="861.8" y="1484.8" font-size="20.8" text-anchor="end">2<tspan font-size="14" dx="1" dy="-9.8">1</tspan></text>
<line x1="864.4" y1="1563.5" x2="873.7" y2="1563.5" stroke="#000" stroke-width="1.1"/>
<text x="861.8" y="1572.4" font-size="20.8" text-anchor="end">2<tspan font-size="14" dx="1" dy="-9.8">2</tspan></text>
<line x1="864.4" y1="1651.1" x2="873.7" y2="1651.1" stroke="#000" stroke-width="1.1"/>
<text x="861.8" y="1660.0" font-size="20.8" text-anchor="end">2<tspan font-size="14" dx="1" dy="-9.8">3</tspan></text>
<line x1="864.4" y1="1738.7" x2="873.7" y2="1738.7" stroke="#000" stroke-width="1.1"/>
<text x="861.8" y="1747.6" font-size="20.8" text-anchor="end">2<tspan font-size="14" dx="1" dy="-9.8">4</tspan></text>
<line x1="864.4" y1="1826.3" x2="873.7" y2="1826.3" stroke="#000" stroke-width="1.1"/>
<text x="861.8" y="1835.2" font-size="20.8" text-anchor="end">2<tspan font-size="14" dx="1" dy="-9.8">5</tspan></text>
<line x1="896.3" y1="1826.3" x2="896.3" y2="1831.3" stroke="#000" stroke-width="1.1"/>
<line x1="924.8" y1="1826.3" x2="924.8" y2="1831.3" stroke="#000" stroke-width="1.1"/>
<line x1="953.2" y1="1826.3" x2="953.2" y2="1831.3" stroke="#000" stroke-width="1.1"/>
<line x1="981.7" y1="1826.3" x2="981.7" y2="1835.1" stroke="#000" stroke-width="1.1"/>
<text x="981.7" y="1855.3" font-size="20.8" text-anchor="middle" font-weight="normal" >1920</text>
<line x1="1010.2" y1="1826.3" x2="1010.2" y2="1831.3" stroke="#000" stroke-width="1.1"/>
<line x1="1038.6" y1="1826.3" x2="1038.6" y2="1831.3" stroke="#000" stroke-width="1.1"/>
<line x1="1067.1" y1="1826.3" x2="1067.1" y2="1831.3" stroke="#000" stroke-width="1.1"/>
<line x1="1095.5" y1="1826.3" x2="1095.5" y2="1835.1" stroke="#000" stroke-width="1.1"/>
<text x="1095.5" y="1855.3" font-size="20.8" text-anchor="middle" font-weight="normal" >1940</text>
<line x1="1124.0" y1="1826.3" x2="1124.0" y2="1831.3" stroke="#000" stroke-width="1.1"/>
<line x1="1152.5" y1="1826.3" x2="1152.5" y2="1831.3" stroke="#000" stroke-width="1.1"/>
<line x1="1180.9" y1="1826.3" x2="1180.9" y2="1831.3" stroke="#000" stroke-width="1.1"/>
<line x1="1209.4" y1="1826.3" x2="1209.4" y2="1835.1" stroke="#000" stroke-width="1.1"/>
<text x="1209.4" y="1855.3" font-size="20.8" text-anchor="middle" font-weight="normal" >1960</text>
<line x1="1237.9" y1="1826.3" x2="1237.9" y2="1831.3" stroke="#000" stroke-width="1.1"/>
<line x1="1266.3" y1="1826.3" x2="1266.3" y2="1831.3" stroke="#000" stroke-width="1.1"/>
<line x1="1294.8" y1="1826.3" x2="1294.8" y2="1831.3" stroke="#000" stroke-width="1.1"/>
<line x1="1323.2" y1="1826.3" x2="1323.2" y2="1835.1" stroke="#000" stroke-width="1.1"/>
<text x="1323.2" y="1855.3" font-size="20.8" text-anchor="middle" font-weight="normal" >1980</text>
<line x1="1351.7" y1="1826.3" x2="1351.7" y2="1831.3" stroke="#000" stroke-width="1.1"/>
<line x1="1380.2" y1="1826.3" x2="1380.2" y2="1831.3" stroke="#000" stroke-width="1.1"/>
<line x1="1408.6" y1="1826.3" x2="1408.6" y2="1831.3" stroke="#000" stroke-width="1.1"/>
<line x1="1437.1" y1="1826.3" x2="1437.1" y2="1835.1" stroke="#000" stroke-width="1.1"/>
<text x="1437.1" y="1855.3" font-size="20.8" text-anchor="middle" font-weight="normal" >2000</text>
<line x1="1465.6" y1="1826.3" x2="1465.6" y2="1831.3" stroke="#000" stroke-width="1.1"/>
<line x1="1494.0" y1="1826.3" x2="1494.0" y2="1831.3" stroke="#000" stroke-width="1.1"/>
<line x1="1522.5" y1="1826.3" x2="1522.5" y2="1831.3" stroke="#000" stroke-width="1.1"/>
<text x="1206.5" y="1879.3" font-size="21" text-anchor="middle" font-weight="normal" >Time (year)</text>
<text transform="translate(829.6,1651.1) rotate(-90)" font-size="21" text-anchor="middle">Period (years)</text>
<text x="1206.3" y="1470.9" font-size="25.3" text-anchor="middle" font-weight="normal" >Central India</text>
<rect x="1553.1" y="1767.9" width="7.1" height="58.7" fill="#ffffff"/>
<rect x="1553.1" y="1709.5" width="7.1" height="58.7" fill="#ffe4c4"/>
<rect x="1553.1" y="1651.1" width="7.1" height="58.7" fill="#ffa500"/>
<rect x="1553.1" y="1592.7" width="7.1" height="58.7" fill="#ff4500"/>
<rect x="1553.1" y="1534.3" width="7.1" height="58.7" fill="#ff0000"/>
<rect x="1553.1" y="1475.9" width="7.1" height="58.7" fill="#8b0000"/>
<rect x="1553.1" y="1475.9" width="7.1" height="350.4" fill="none" stroke="#222" stroke-width="1"/>
<line x1="1560.2" y1="1826.3" x2="1563.4" y2="1826.3" stroke="#222" stroke-width="1"/>
<text x="1567.3" y="1834.8" font-size="20.8" text-anchor="start" font-weight="normal" >0</text>
<line x1="1560.2" y1="1767.9" x2="1563.4" y2="1767.9" stroke="#222" stroke-width="1"/>
<text x="1567.3" y="1776.4" font-size="20.8" text-anchor="start" font-weight="normal" >1</text>
<line x1="1560.2" y1="1709.5" x2="1563.4" y2="1709.5" stroke="#222" stroke-width="1"/>
<text x="1567.3" y="1718.0" font-size="20.8" text-anchor="start" font-weight="normal" >2</text>
<line x1="1560.2" y1="1651.1" x2="1563.4" y2="1651.1" stroke="#222" stroke-width="1"/>
<text x="1567.3" y="1659.6" font-size="20.8" text-anchor="start" font-weight="normal" >3</text>
<line x1="1560.2" y1="1592.7" x2="1563.4" y2="1592.7" stroke="#222" stroke-width="1"/>
<text x="1567.3" y="1601.2" font-size="20.8" text-anchor="start" font-weight="normal" >4</text>
<line x1="1560.2" y1="1534.3" x2="1563.4" y2="1534.3" stroke="#222" stroke-width="1"/>
<text x="1567.3" y="1542.8" font-size="20.8" text-anchor="start" font-weight="normal" >5</text>
<line x1="1560.2" y1="1475.9" x2="1563.4" y2="1475.9" stroke="#222" stroke-width="1"/>
<text x="1567.3" y="1484.4" font-size="20.8" text-anchor="start" font-weight="normal" >6</text>
<line x1="57.0" y1="2301.1" x2="60.7" y2="2301.1" stroke="#333" stroke-width="1"/>
<text x="53.2" y="2309.4" font-size="21" text-anchor="end" font-weight="normal" >0</text>
<line x1="57.0" y1="2242.7" x2="60.7" y2="2242.7" stroke="#333" stroke-width="1"/>
<text x="53.2" y="2251.0" font-size="21" text-anchor="end" font-weight="normal" >2</text>
<line x1="57.0" y1="2184.3" x2="60.7" y2="2184.3" stroke="#333" stroke-width="1"/>
<text x="53.2" y="2192.6" font-size="21" text-anchor="end" font-weight="normal" >4</text>
<line x1="57.0" y1="2125.9" x2="60.7" y2="2125.9" stroke="#333" stroke-width="1"/>
<text x="53.2" y="2134.2" font-size="21" text-anchor="end" font-weight="normal" >6</text>
<line x1="57.0" y1="2067.5" x2="60.7" y2="2067.5" stroke="#333" stroke-width="1"/>
<text x="53.2" y="2075.8" font-size="21" text-anchor="end" font-weight="normal" >8</text>
<line x1="57.0" y1="2009.1" x2="60.7" y2="2009.1" stroke="#333" stroke-width="1"/>
<text x="53.2" y="2017.4" font-size="21" text-anchor="end" font-weight="normal" >10</text>
<line x1="57.0" y1="1950.7" x2="60.7" y2="1950.7" stroke="#333" stroke-width="1"/>
<text x="53.2" y="1959.0" font-size="21" text-anchor="end" font-weight="normal" >12</text>
<line x1="90.6" y1="2301.1" x2="90.6" y2="2304.6" stroke="#555" stroke-width="0.8"/>
<text x="90.6" y="2323.9" font-size="21" text-anchor="middle" font-weight="normal" >2</text>
<line x1="152.8" y1="2301.1" x2="152.8" y2="2304.6" stroke="#555" stroke-width="0.8"/>
<text x="152.8" y="2323.9" font-size="21" text-anchor="middle" font-weight="normal" >3</text>
<line x1="196.9" y1="2301.1" x2="196.9" y2="2304.6" stroke="#555" stroke-width="0.8"/>
<text x="196.9" y="2323.9" font-size="21" text-anchor="middle" font-weight="normal" >4</text>
<line x1="231.1" y1="2301.1" x2="231.1" y2="2304.6" stroke="#555" stroke-width="0.8"/>
<text x="231.1" y="2323.9" font-size="21" text-anchor="middle" font-weight="normal" >5</text>
<line x1="303.1" y1="2301.1" x2="303.1" y2="2304.6" stroke="#555" stroke-width="0.8"/>
<text x="303.1" y="2323.9" font-size="21" text-anchor="middle" font-weight="normal" >8</text>
<line x1="337.3" y1="2301.1" x2="337.3" y2="2304.6" stroke="#555" stroke-width="0.8"/>
<text x="337.3" y="2323.9" font-size="21" text-anchor="middle" font-weight="normal" >10</text>
<line x1="443.6" y1="2301.1" x2="443.6" y2="2304.6" stroke="#555" stroke-width="0.8"/>
<text x="443.6" y="2323.9" font-size="21" text-anchor="middle" font-weight="normal" >20</text>
<line x1="505.8" y1="2301.1" x2="505.8" y2="2304.6" stroke="#555" stroke-width="0.8"/>
<text x="505.8" y="2323.9" font-size="21" text-anchor="middle" font-weight="normal" >30</text>
<line x1="584.1" y1="2301.1" x2="584.1" y2="2304.6" stroke="#555" stroke-width="0.8"/>
<text x="584.1" y="2323.9" font-size="21" text-anchor="middle" font-weight="normal" >50</text>
<line x1="635.7" y1="2301.1" x2="635.7" y2="2304.6" stroke="#555" stroke-width="0.8"/>
<text x="635.7" y="2323.9" font-size="21" text-anchor="middle" font-weight="normal" >70</text>
<line x1="674.2" y1="2301.1" x2="674.2" y2="2304.6" stroke="#555" stroke-width="0.8"/>
<text x="674.2" y="2323.9" font-size="21" text-anchor="middle" font-weight="normal" >90</text>
<line x1="259.0" y1="2301.1" x2="259.0" y2="2303.6" stroke="#777" stroke-width="0.7"/>
<line x1="282.7" y1="2301.1" x2="282.7" y2="2303.6" stroke="#777" stroke-width="0.7"/>
<line x1="321.2" y1="2301.1" x2="321.2" y2="2303.6" stroke="#777" stroke-width="0.7"/>
<line x1="549.9" y1="2301.1" x2="549.9" y2="2303.6" stroke="#777" stroke-width="0.7"/>
<line x1="612.0" y1="2301.1" x2="612.0" y2="2303.6" stroke="#777" stroke-width="0.7"/>
<line x1="656.1" y1="2301.1" x2="656.1" y2="2303.6" stroke="#777" stroke-width="0.7"/>
<text x="403.4" y="2348.4" font-size="21" text-anchor="middle" font-weight="normal" >Periodicity</text>
<text transform="translate(20.1,2128.4) rotate(-90)" font-size="21" text-anchor="middle">Power/Frequency</text>
<text x="403.6" y="1945.3" font-size="28.9" text-anchor="middle" font-weight="normal" >North India</text>
<line x1="864.4" y1="1950.7" x2="873.7" y2="1950.7" stroke="#000" stroke-width="1.1"/>
<text x="861.8" y="1959.6" font-size="20.8" text-anchor="end">2<tspan font-size="14" dx="1" dy="-9.8">1</tspan></text>
<line x1="864.4" y1="2038.3" x2="873.7" y2="2038.3" stroke="#000" stroke-width="1.1"/>
<text x="861.8" y="2047.2" font-size="20.8" text-anchor="end">2<tspan font-size="14" dx="1" dy="-9.8">2</tspan></text>
<line x1="864.4" y1="2125.9" x2="873.7" y2="2125.9" stroke="#000" stroke-width="1.1"/>
<text x="861.8" y="2134.8" font-size="20.8" text-anchor="end">2<tspan font-size="14" dx="1" dy="-9.8">3</tspan></text>
<line x1="864.4" y1="2213.5" x2="873.7" y2="2213.5" stroke="#000" stroke-width="1.1"/>
<text x="861.8" y="2222.4" font-size="20.8" text-anchor="end">2<tspan font-size="14" dx="1" dy="-9.8">4</tspan></text>
<line x1="864.4" y1="2301.1" x2="873.7" y2="2301.1" stroke="#000" stroke-width="1.1"/>
<text x="861.8" y="2310.0" font-size="20.8" text-anchor="end">2<tspan font-size="14" dx="1" dy="-9.8">5</tspan></text>
<line x1="896.3" y1="2301.1" x2="896.3" y2="2306.1" stroke="#000" stroke-width="1.1"/>
<line x1="924.8" y1="2301.1" x2="924.8" y2="2306.1" stroke="#000" stroke-width="1.1"/>
<line x1="953.2" y1="2301.1" x2="953.2" y2="2306.1" stroke="#000" stroke-width="1.1"/>
<line x1="981.7" y1="2301.1" x2="981.7" y2="2309.9" stroke="#000" stroke-width="1.1"/>
<text x="981.7" y="2330.1" font-size="20.8" text-anchor="middle" font-weight="normal" >1920</text>
<line x1="1010.2" y1="2301.1" x2="1010.2" y2="2306.1" stroke="#000" stroke-width="1.1"/>
<line x1="1038.6" y1="2301.1" x2="1038.6" y2="2306.1" stroke="#000" stroke-width="1.1"/>
<line x1="1067.1" y1="2301.1" x2="1067.1" y2="2306.1" stroke="#000" stroke-width="1.1"/>
<line x1="1095.5" y1="2301.1" x2="1095.5" y2="2309.9" stroke="#000" stroke-width="1.1"/>
<text x="1095.5" y="2330.1" font-size="20.8" text-anchor="middle" font-weight="normal" >1940</text>
<line x1="1124.0" y1="2301.1" x2="1124.0" y2="2306.1" stroke="#000" stroke-width="1.1"/>
<line x1="1152.5" y1="2301.1" x2="1152.5" y2="2306.1" stroke="#000" stroke-width="1.1"/>
<line x1="1180.9" y1="2301.1" x2="1180.9" y2="2306.1" stroke="#000" stroke-width="1.1"/>
<line x1="1209.4" y1="2301.1" x2="1209.4" y2="2309.9" stroke="#000" stroke-width="1.1"/>
<text x="1209.4" y="2330.1" font-size="20.8" text-anchor="middle" font-weight="normal" >1960</text>
<line x1="1237.9" y1="2301.1" x2="1237.9" y2="2306.1" stroke="#000" stroke-width="1.1"/>
<line x1="1266.3" y1="2301.1" x2="1266.3" y2="2306.1" stroke="#000" stroke-width="1.1"/>
<line x1="1294.8" y1="2301.1" x2="1294.8" y2="2306.1" stroke="#000" stroke-width="1.1"/>
<line x1="1323.2" y1="2301.1" x2="1323.2" y2="2309.9" stroke="#000" stroke-width="1.1"/>
<text x="1323.2" y="2330.1" font-size="20.8" text-anchor="middle" font-weight="normal" >1980</text>
<line x1="1351.7" y1="2301.1" x2="1351.7" y2="2306.1" stroke="#000" stroke-width="1.1"/>
<line x1="1380.2" y1="2301.1" x2="1380.2" y2="2306.1" stroke="#000" stroke-width="1.1"/>
<line x1="1408.6" y1="2301.1" x2="1408.6" y2="2306.1" stroke="#000" stroke-width="1.1"/>
<line x1="1437.1" y1="2301.1" x2="1437.1" y2="2309.9" stroke="#000" stroke-width="1.1"/>
<text x="1437.1" y="2330.1" font-size="20.8" text-anchor="middle" font-weight="normal" >2000</text>
<line x1="1465.6" y1="2301.1" x2="1465.6" y2="2306.1" stroke="#000" stroke-width="1.1"/>
<line x1="1494.0" y1="2301.1" x2="1494.0" y2="2306.1" stroke="#000" stroke-width="1.1"/>
<line x1="1522.5" y1="2301.1" x2="1522.5" y2="2306.1" stroke="#000" stroke-width="1.1"/>
<text x="1206.5" y="2354.1" font-size="21" text-anchor="middle" font-weight="normal" >Time (year)</text>
<text transform="translate(829.6,2125.9) rotate(-90)" font-size="21" text-anchor="middle">Period (years)</text>
<text x="1206.8" y="1945.7" font-size="25.34" text-anchor="middle" font-weight="normal" >North India</text>
<rect x="1553.1" y="2242.7" width="7.1" height="58.7" fill="#ffffff"/>
<rect x="1553.1" y="2184.3" width="7.1" height="58.7" fill="#ffe4c4"/>
<rect x="1553.1" y="2125.9" width="7.1" height="58.7" fill="#ffa500"/>
<rect x="1553.1" y="2067.5" width="7.1" height="58.7" fill="#ff4500"/>
<rect x="1553.1" y="2009.1" width="7.1" height="58.7" fill="#ff0000"/>
<rect x="1553.1" y="1950.7" width="7.1" height="58.7" fill="#8b0000"/>
<rect x="1553.1" y="1950.7" width="7.1" height="350.4" fill="none" stroke="#222" stroke-width="1"/>
<line x1="1560.2" y1="2301.1" x2="1563.4" y2="2301.1" stroke="#222" stroke-width="1"/>
<text x="1567.3" y="2309.6" font-size="20.8" text-anchor="start" font-weight="normal" >0</text>
<line x1="1560.2" y1="2242.7" x2="1563.4" y2="2242.7" stroke="#222" stroke-width="1"/>
<text x="1567.3" y="2251.2" font-size="20.8" text-anchor="start" font-weight="normal" >1</text>
<line x1="1560.2" y1="2184.3" x2="1563.4" y2="2184.3" stroke="#222" stroke-width="1"/>
<text x="1567.3" y="2192.8" font-size="20.8" text-anchor="start" font-weight="normal" >2</text>
<line x1="1560.2" y1="2125.9" x2="1563.4" y2="2125.9" stroke="#222" stroke-width="1"/>
<text x="1567.3" y="2134.4" font-size="20.8" text-anchor="start" font-weight="normal" >3</text>
<line x1="1560.2" y1="2067.5" x2="1563.4" y2="2067.5" stroke="#222" stroke-width="1"/>
<text x="1567.3" y="2076.0" font-size="20.8" text-anchor="start" font-weight="normal" >4</text>
<line x1="1560.2" y1="2009.1" x2="1563.4" y2="2009.1" stroke="#222" stroke-width="1"/>
<text x="1567.3" y="2017.6" font-size="20.8" text-anchor="start" font-weight="normal" >5</text>
<line x1="1560.2" y1="1950.7" x2="1563.4" y2="1950.7" stroke="#222" stroke-width="1"/>
<text x="1567.3" y="1959.2" font-size="20.8" text-anchor="start" font-weight="normal" >6</text>
<text x="69.2" y="24.1" font-size="34" text-anchor="start" font-weight="bold" >a</text>
<text x="858.0" y="29.1" font-size="34" text-anchor="start" font-weight="bold" >b</text>
<text x="71.5" y="499.9" font-size="34" text-anchor="start" font-weight="bold" >c</text>
<text x="865.0" y="503.0" font-size="34" text-anchor="start" font-weight="bold" >d</text>
<text x="71.4" y="976.2" font-size="34" text-anchor="start" font-weight="bold" >e</text>
<text x="864.1" y="976.6" font-size="34" text-anchor="start" font-weight="bold" >f</text>
<text x="60.4" y="1452.6" font-size="34" text-anchor="start" font-weight="bold" >g</text>
<text x="866.5" y="1452.6" font-size="34" text-anchor="start" font-weight="bold" >h</text>
<text x="66.0" y="1932.8" font-size="34" text-anchor="start" font-weight="bold" >i</text>
<text x="878.1" y="1925.0" font-size="34" text-anchor="start" font-weight="bold" >j</text>
<text x="696.6" y="2325.4" font-size="32" text-anchor="start" font-weight="normal" font-family="Liberation Sans, Arial, sans-serif">26</text>
<path d="M90.60,399.71 L93.22,396.06 L95.89,391.39 L98.60,196.33 L101.36,272.25 L104.18,359.85 L107.04,400.15 L109.96,384.67 L112.94,277.51 L115.97,310.80 L119.07,283.35 L122.23,399.27 L125.46,399.27 L128.76,381.46 L132.13,358.10 L135.57,344.96 L139.10,330.07 L142.70,395.48 L146.40,383.80 L150.18,337.66 L154.06,380.88 L158.05,388.76 L162.14,280.14 L166.34,395.48 L170.65,376.20 L175.10,271.38 L179.68,350.22 L184.39,344.38 L189.26,389.64 L194.29,386.42 L199.48,400.15 L204.86,323.35 L210.44,319.26 L216.23,323.35 L222.24,349.34 L228.50,400.15 L235.02,373.58 L241.84,397.81 L248.97,391.10 L256.45,365.40 L264.31,377.66 L272.60,399.27 L281.36,392.56 L290.66,396.06 L300.55,365.40 L311.13,274.59 L322.49,393.14 L334.76,372.12 L348.10,381.75 L362.71,319.56 L378.86,337.95 L396.92,383.80 L417.39,392.85 L441.02,385.84 L468.97,298.53 L503.18,391.10 L547.29,387.88 L609.45,235.17 L715.71,257.65" fill="none" stroke="#ffa500" stroke-width="1.5" stroke-linejoin="miter" stroke-miterlimit="10"/>
<line x1="60.7" y1="401.9" x2="746.0" y2="401.9" stroke="#333" stroke-width="1.1"/>
<line x1="60.7" y1="51.5" x2="60.7" y2="401.9" stroke="#333" stroke-width="1.1"/>
<line x1="60.7" y1="51.5" x2="746.0" y2="51.5" stroke="#333" stroke-width="1.1"/>
<line x1="746.0" y1="51.5" x2="746.0" y2="401.9" stroke="#333" stroke-width="1.1"/>
<path d="M90.60,846.04 L93.22,862.10 L95.89,872.61 L98.60,843.12 L101.36,863.85 L104.18,848.96 L107.04,874.95 L109.96,875.82 L112.94,827.06 L115.97,860.06 L119.07,832.61 L122.23,865.31 L125.46,853.92 L128.76,805.45 L132.13,873.20 L135.57,864.73 L139.10,853.63 L142.70,876.12 L146.40,795.52 L150.18,860.06 L154.06,841.66 L158.05,861.52 L162.14,876.12 L166.34,860.93 L170.65,873.20 L175.10,871.44 L179.68,740.92 L184.39,853.05 L189.26,863.85 L194.29,873.49 L199.48,873.49 L204.86,848.38 L210.44,865.31 L216.23,872.03 L222.24,830.86 L228.50,848.67 L235.02,823.85 L241.84,873.20 L248.97,789.68 L256.45,874.36 L264.31,869.11 L272.60,856.84 L281.36,869.69 L290.66,867.65 L300.55,868.82 L311.13,865.02 L322.49,827.35 L334.76,876.41 L348.10,849.25 L362.71,875.82 L378.86,826.77 L396.92,868.52 L417.39,865.02 L441.02,853.05 L468.97,862.10 L503.18,859.18 L547.29,872.90 L609.45,874.07 L715.71,853.92" fill="none" stroke="#000000" stroke-width="1.5" stroke-linejoin="miter" stroke-miterlimit="10"/>
<line x1="60.7" y1="876.7" x2="746.0" y2="876.7" stroke="#333" stroke-width="1.1"/>
<line x1="60.7" y1="526.3" x2="60.7" y2="876.7" stroke="#333" stroke-width="1.1"/>
<line x1="60.7" y1="526.3" x2="746.0" y2="526.3" stroke="#333" stroke-width="1.1"/>
<line x1="746.0" y1="526.3" x2="746.0" y2="876.7" stroke="#333" stroke-width="1.1"/>
<path d="M90.60,1350.62 L93.22,1345.08 L95.89,1347.41 L98.60,1313.54 L101.36,1238.50 L104.18,1334.86 L107.04,1332.23 L109.96,1226.52 L112.94,1202.58 L115.97,1300.40 L119.07,1279.67 L122.23,1206.38 L125.46,1310.33 L128.76,1325.51 L132.13,1333.10 L135.57,1152.36 L139.10,1146.81 L142.70,1329.02 L146.40,1336.61 L150.18,1348.58 L154.06,1325.51 L158.05,1347.41 L162.14,1344.78 L166.34,1349.46 L170.65,1323.47 L175.10,1335.44 L179.68,1262.44 L184.39,1323.47 L189.26,1346.24 L194.29,1300.40 L199.48,1337.48 L204.86,1293.98 L210.44,1348.58 L216.23,1319.09 L222.24,1291.93 L228.50,1347.41 L235.02,1244.04 L241.84,1324.34 L248.97,1199.37 L256.45,1319.96 L264.31,1295.14 L272.60,1305.07 L281.36,1275.58 L290.66,1059.50 L300.55,1323.18 L311.13,1239.37 L322.49,1273.54 L334.76,1310.33 L348.10,1296.02 L362.71,1330.77 L378.86,1331.94 L396.92,1278.21 L417.39,1246.96 L441.02,1325.22 L468.97,1134.25 L503.18,1312.96 L547.29,1309.74 L609.45,1308.87 L715.71,1341.28" fill="none" stroke="#ff0000" stroke-width="1.5" stroke-linejoin="miter" stroke-miterlimit="10"/>
<line x1="60.7" y1="1351.5" x2="746.0" y2="1351.5" stroke="#333" stroke-width="1.1"/>
<line x1="60.7" y1="1001.1" x2="60.7" y2="1351.5" stroke="#333" stroke-width="1.1"/>
<line x1="60.7" y1="1001.1" x2="746.0" y2="1001.1" stroke="#333" stroke-width="1.1"/>
<line x1="746.0" y1="1001.1" x2="746.0" y2="1351.5" stroke="#333" stroke-width="1.1"/>
<path d="M90.60,1826.01 L93.22,1812.58 L95.89,1803.23 L98.60,1603.21 L101.36,1782.50 L104.18,1826.01 L107.04,1786.88 L109.96,1790.97 L112.94,1799.14 L115.97,1623.94 L119.07,1799.14 L122.23,1761.18 L125.46,1788.05 L128.76,1703.66 L132.13,1808.49 L135.57,1784.84 L139.10,1684.39 L142.70,1738.70 L146.40,1790.09 L150.18,1754.18 L154.06,1790.09 L158.05,1818.71 L162.14,1717.09 L166.34,1821.92 L170.65,1630.95 L175.10,1819.58 L179.68,1794.18 L184.39,1810.53 L189.26,1823.67 L194.29,1808.49 L199.48,1800.31 L204.86,1786.88 L210.44,1781.92 L216.23,1737.82 L222.24,1779.58 L228.50,1818.12 L235.02,1821.92 L241.84,1819.88 L248.97,1746.88 L256.45,1809.07 L264.31,1809.07 L272.60,1800.90 L281.36,1796.52 L290.66,1713.30 L300.55,1814.33 L311.13,1782.79 L322.49,1747.46 L334.76,1790.68 L348.10,1810.24 L362.71,1756.22 L378.86,1721.76 L396.92,1817.25 L417.39,1746.00 L441.02,1767.90 L468.97,1814.33 L503.18,1791.26 L547.29,1821.34 L609.45,1716.22 L715.71,1695.48" fill="none" stroke="#008000" stroke-width="1.5" stroke-linejoin="miter" stroke-miterlimit="10"/>
<line x1="60.7" y1="1826.3" x2="746.0" y2="1826.3" stroke="#333" stroke-width="1.1"/>
<line x1="60.7" y1="1475.9" x2="60.7" y2="1826.3" stroke="#333" stroke-width="1.1"/>
<line x1="60.7" y1="1475.9" x2="746.0" y2="1475.9" stroke="#333" stroke-width="1.1"/>
<line x1="746.0" y1="1475.9" x2="746.0" y2="1826.3" stroke="#333" stroke-width="1.1"/>
<path d="M90.60,2174.08 L93.22,2295.55 L95.89,2297.60 L98.60,2193.64 L101.36,2227.52 L104.18,2253.80 L107.04,2290.30 L109.96,2255.84 L112.94,2201.53 L115.97,2210.87 L119.07,2219.34 L122.23,2104.88 L125.46,2137.58 L128.76,2166.78 L132.13,2217.00 L135.57,2264.31 L139.10,2020.20 L142.70,2204.74 L146.40,2291.46 L150.18,2285.04 L154.06,2288.25 L158.05,2259.05 L162.14,2288.54 L166.34,2276.86 L170.65,2264.02 L175.10,2278.91 L179.68,2165.03 L184.39,2296.43 L189.26,2278.91 L194.29,2265.48 L199.48,2257.88 L204.86,2254.09 L210.44,2292.92 L216.23,2245.62 L222.24,2288.54 L228.50,2298.76 L235.02,2292.05 L241.84,2240.66 L248.97,2188.10 L256.45,2293.22 L264.31,2297.30 L272.60,2147.22 L281.36,2248.83 L290.66,2237.15 L300.55,2208.54 L311.13,2198.32 L322.49,2290.59 L334.76,2267.81 L348.10,2242.12 L362.71,2265.18 L378.86,2267.23 L396.92,2259.34 L417.39,2255.26 L441.02,2273.36 L468.97,2291.76 L503.18,2276.28 L547.29,2238.61 L609.45,2299.93 L715.71,2231.02" fill="none" stroke="#0000ff" stroke-width="1.5" stroke-linejoin="miter" stroke-miterlimit="10"/>
<line x1="60.7" y1="2301.1" x2="746.0" y2="2301.1" stroke="#333" stroke-width="1.1"/>
<line x1="60.7" y1="1950.7" x2="60.7" y2="2301.1" stroke="#333" stroke-width="1.1"/>
<line x1="60.7" y1="1950.7" x2="746.0" y2="1950.7" stroke="#8c8c8c" stroke-width="1.1"/>
<line x1="746.0" y1="1950.7" x2="746.0" y2="2301.1" stroke="#d8d8d8" stroke-width="1.1"/>
<clipPath id="cf0"><rect x="873.7" y="55.2" width="665.5" height="346.7"/></clipPath>
<clipPath id="ca0"><rect x="873.7" y="51.5" width="665.5" height="350.4"/></clipPath>
<g clip-path="url(#cf0)">
<path d="M890.7,101.1 C895.5,103.6 912.2,115.9 915.6,120.1 C919.1,124.2 913.8,124.0 911.3,126.1 C908.9,128.3 904.3,131.6 901.0,133.0 C897.7,134.4 894.3,135.3 891.5,134.7 C888.8,134.1 886.0,132.7 884.6,129.5 C883.3,126.4 883.1,119.8 883.4,115.8 C883.7,111.8 885.2,107.9 886.4,105.4 C887.6,103.0 885.8,98.7 890.7,101.1 Z" fill="#ffe4c4"/>
<path d="M1007.8,115.8 C1010.7,114.8 1016.4,115.5 1019.8,116.6 C1023.3,117.8 1025.8,120.2 1028.4,122.7 C1031.0,125.1 1034.5,128.7 1035.3,131.3 C1036.2,133.9 1035.0,136.2 1033.6,138.2 C1032.2,140.1 1029.3,142.7 1026.7,143.0 C1024.1,143.3 1021.3,141.5 1018.1,139.9 C1014.9,138.2 1010.4,135.9 1007.8,133.0 C1005.1,130.1 1002.3,125.5 1002.3,122.7 C1002.3,119.8 1004.8,116.8 1007.8,115.8 Z" fill="#ffe4c4"/>
<path d="M1061.1,77.0 C1061.9,73.6 1065.5,72.1 1068.0,71.3 C1070.6,70.6 1072.3,71.1 1076.6,72.7 C1081.0,74.4 1088.7,78.5 1093.9,81.3 C1099.0,84.2 1103.6,86.9 1107.6,89.9 C1111.7,93.0 1116.3,95.7 1118.0,99.4 C1119.7,103.1 1118.6,108.7 1118.0,112.3 C1117.4,115.9 1116.3,118.8 1114.5,120.9 C1112.8,123.1 1110.2,124.5 1107.6,125.2 C1105.1,126.0 1102.8,126.0 1099.0,125.2 C1095.3,124.5 1089.6,122.5 1085.3,120.9 C1081.0,119.4 1076.4,117.8 1073.2,115.8 C1070.0,113.8 1067.9,112.9 1066.3,108.9 C1064.7,104.9 1064.6,97.0 1063.7,91.7 C1062.9,86.4 1060.4,80.4 1061.1,77.0 Z" fill="#ffe4c4"/>
<path d="M937.2,284.5 C938.6,282.4 945.5,280.4 950.9,278.5 C956.4,276.6 960.4,274.9 969.9,273.3 C979.4,271.8 995.7,270.3 1007.8,269.0 C1019.8,267.7 1033.6,266.2 1042.2,265.6 C1050.8,265.0 1054.3,265.0 1059.4,265.6 C1064.6,266.2 1069.0,267.6 1073.2,269.0 C1077.4,270.5 1083.8,271.3 1084.4,274.2 C1085.0,277.1 1082.2,282.8 1076.6,286.3 C1071.1,289.7 1058.6,292.0 1050.8,294.9 C1043.1,297.7 1036.8,301.2 1030.2,303.5 C1023.6,305.8 1016.7,307.8 1011.2,308.6 C1005.8,309.5 1003.2,309.2 997.4,308.6 C991.7,308.1 983.7,306.6 976.8,305.2 C969.9,303.8 961.8,302.3 956.1,300.0 C950.4,297.7 945.5,294.0 942.3,291.4 C939.2,288.8 935.7,286.7 937.2,284.5 Z" fill="#ffe4c4"/>
<path d="M873.7,379.2 C877.4,375.5 887.8,373.5 895.8,370.6 C903.8,367.7 913.1,364.6 921.7,362.0 C930.3,359.4 938.9,357.3 947.5,355.3 C956.1,353.3 964.7,351.2 973.3,350.0 C981.9,348.8 990.6,348.3 999.2,348.3 C1007.8,348.3 1017.8,348.8 1025.0,350.0 C1032.2,351.2 1033.6,353.7 1042.2,355.3 C1050.8,356.9 1065.2,359.1 1076.7,359.5 C1088.2,359.9 1098.6,358.1 1111.1,358.0 C1123.6,357.9 1133.5,358.2 1151.7,358.6 C1169.9,359.0 1200.4,360.2 1220.5,360.3 C1240.6,360.4 1250.6,359.4 1272.2,359.4 C1293.8,359.3 1331.8,359.7 1350.3,360.0 C1368.8,360.3 1374.4,359.1 1383.0,361.2 C1391.6,363.3 1403.1,370.0 1401.9,372.4 C1400.8,374.8 1386.1,374.9 1376.1,375.8 C1366.1,376.7 1356.0,377.1 1341.7,377.5 C1327.4,377.9 1301.6,377.5 1290.0,377.9 C1278.4,378.3 1289.5,379.6 1272.2,380.1 C1254.9,380.6 1214.8,380.8 1186.1,381.0 C1157.4,381.2 1121.1,381.0 1100.0,381.3 C1078.9,381.6 1074.8,381.9 1059.4,382.7 C1044.0,383.5 1025.0,385.0 1007.8,386.1 C990.6,387.2 971.9,388.6 956.1,389.6 C940.3,390.6 926.8,391.7 913.1,392.2 C899.4,392.7 880.3,394.9 873.7,392.7 C867.1,390.5 870.0,382.9 873.7,379.2 Z" fill="#ffe4c4"/>
<path d="M1149.9,55.2 C1153.4,53.2 1166.4,51.7 1169.7,55.2 C1173.1,58.7 1171.3,71.6 1170.3,76.2 C1169.3,80.8 1166.0,83.0 1163.7,82.7 C1161.5,82.4 1159.3,77.1 1156.8,74.4 C1154.4,71.8 1150.2,69.9 1149.1,66.7 C1147.9,63.5 1146.5,57.1 1149.9,55.2 Z" fill="#ffe4c4"/>
<path d="M1198.2,55.2 C1203.3,51.9 1222.6,50.8 1228.3,55.2 C1234.0,59.5 1230.4,73.8 1232.6,81.3 C1234.8,88.8 1238.3,95.1 1241.2,100.3 C1244.1,105.4 1247.1,108.9 1249.8,112.3 C1252.5,115.8 1255.7,117.5 1257.6,120.9 C1259.4,124.4 1261.7,130.0 1261.0,133.0 C1260.3,136.0 1257.1,137.6 1253.3,139.0 C1249.4,140.5 1242.6,140.9 1237.8,141.6 C1232.9,142.3 1228.6,142.5 1224.0,143.3 C1219.4,144.2 1214.5,145.8 1210.2,146.8 C1205.9,147.8 1201.6,149.4 1198.2,149.4 C1194.7,149.4 1191.9,147.8 1189.5,146.8 C1187.2,145.8 1183.7,144.8 1184.0,143.3 C1184.3,141.9 1188.9,140.5 1191.3,138.2 C1193.6,135.9 1196.4,133.0 1198.2,129.5 C1199.9,126.1 1201.5,121.5 1201.6,117.5 C1201.7,113.5 1199.7,109.7 1199.0,105.4 C1198.3,101.1 1197.6,96.8 1197.3,91.7 C1197.0,86.5 1197.2,80.5 1197.3,74.4 C1197.4,68.4 1193.0,58.4 1198.2,55.2 Z" fill="#ffe4c4"/>
<path d="M1206.8,62.4 C1208.3,59.4 1211.4,57.2 1213.7,56.4 C1216.0,55.5 1218.5,55.6 1220.5,57.2 C1222.6,58.8 1223.7,60.1 1225.7,65.8 C1227.7,71.6 1230.3,84.2 1232.6,91.7 C1234.9,99.1 1238.1,105.9 1239.5,110.6 C1240.9,115.3 1241.8,117.5 1241.2,120.1 C1240.6,122.7 1238.3,124.4 1236.0,126.1 C1233.7,127.8 1230.3,129.8 1227.4,130.4 C1224.6,131.0 1221.1,130.6 1218.8,129.5 C1216.5,128.5 1215.4,127.8 1213.7,124.4 C1211.9,120.9 1209.9,114.3 1208.5,108.9 C1207.1,103.4 1205.8,97.4 1205.0,91.7 C1204.3,85.9 1203.9,79.3 1204.2,74.4 C1204.5,69.6 1205.2,65.4 1206.8,62.4 Z" fill="#ffa500"/>
<path d="M1210.2,69.3 C1211.4,66.3 1213.7,65.3 1215.4,65.0 C1217.1,64.7 1218.8,64.5 1220.5,67.6 C1222.3,70.6 1224.1,77.3 1225.7,83.1 C1227.3,88.8 1229.4,97.1 1230.0,102.0 C1230.6,106.9 1230.2,109.7 1229.2,112.3 C1228.1,114.9 1225.7,116.8 1224.0,117.5 C1222.3,118.2 1220.4,117.8 1218.8,116.6 C1217.2,115.5 1216.0,113.9 1214.5,110.6 C1213.1,107.3 1211.2,101.4 1210.2,96.8 C1209.2,92.2 1208.5,87.6 1208.5,83.1 C1208.5,78.5 1209.1,72.3 1210.2,69.3 Z" fill="#ff4500"/>
<path d="M1213.7,240.6 C1214.8,237.3 1220.0,233.9 1224.0,232.0 C1228.0,230.1 1231.6,229.7 1237.8,229.4 C1243.9,229.1 1257.6,228.0 1261.0,230.3 C1264.5,232.6 1259.7,239.3 1258.4,243.2 C1257.1,247.1 1252.7,250.7 1253.3,253.5 C1253.8,256.4 1257.3,258.1 1261.9,260.4 C1266.5,262.7 1273.9,265.4 1280.8,267.3 C1287.7,269.2 1296.7,270.4 1303.2,271.6 C1309.7,272.8 1317.8,273.3 1319.6,274.5 C1321.3,275.8 1316.0,277.4 1313.5,279.4 C1311.1,281.3 1308.9,284.2 1304.9,286.3 C1300.9,288.3 1294.9,290.0 1289.4,291.4 C1284.0,292.9 1279.4,294.1 1272.2,294.9 C1265.0,295.6 1255.0,296.3 1246.4,295.7 C1237.8,295.2 1228.6,293.0 1220.5,291.4 C1212.5,289.8 1202.3,288.8 1198.2,286.3 C1194.0,283.7 1194.7,278.5 1195.6,275.9 C1196.4,273.3 1200.3,272.8 1203.3,270.8 C1206.3,268.7 1211.4,267.0 1213.7,263.9 C1216.0,260.7 1217.1,255.7 1217.1,251.8 C1217.1,247.9 1212.5,243.9 1213.7,240.6 Z" fill="#ffe4c4"/>
<path d="M1294.3,55.2 C1301.6,53.4 1331.3,53.4 1339.9,55.2 C1348.6,56.9 1345.1,62.2 1346.0,65.8 C1346.8,69.5 1346.7,74.7 1345.1,77.0 C1343.5,79.3 1339.4,78.0 1336.5,79.6 C1333.6,81.2 1330.5,83.1 1327.9,86.5 C1325.3,89.9 1322.7,96.3 1321.0,100.3 C1319.3,104.3 1319.1,108.9 1317.6,110.6 C1316.0,112.3 1313.2,112.9 1311.5,110.6 C1309.8,108.3 1309.1,102.0 1307.2,96.8 C1305.4,91.7 1302.2,84.8 1300.3,79.6 C1298.5,74.4 1297.0,69.9 1296.0,65.8 C1295.0,61.8 1287.0,56.9 1294.3,55.2 Z" fill="#ffe4c4"/>
<path d="M1306.4,65.8 C1306.8,62.8 1308.9,59.7 1310.7,58.1 C1312.4,56.4 1314.5,55.8 1316.7,55.8 C1318.8,55.8 1321.5,56.3 1323.6,58.1 C1325.7,59.9 1328.7,63.7 1329.3,66.7 C1329.8,69.7 1328.3,73.4 1327.0,76.2 C1325.8,78.9 1323.6,81.4 1321.9,83.1 C1320.1,84.7 1318.4,86.2 1316.7,86.2 C1315.0,86.2 1313.0,84.7 1311.5,83.1 C1310.1,81.4 1308.9,79.0 1308.1,76.2 C1307.2,73.3 1305.9,68.8 1306.4,65.8 Z" fill="#ffa500"/>
<path d="M1407.1,55.2 C1417.1,53.4 1451.9,53.4 1463.9,55.2 C1476.0,56.9 1474.3,63.0 1479.4,65.8 C1484.6,68.6 1490.8,70.0 1494.9,71.9 C1499.1,73.7 1503.1,72.9 1504.4,77.0 C1505.7,81.2 1503.1,91.5 1502.7,96.8 C1502.2,102.1 1500.8,104.9 1501.8,108.9 C1502.8,112.9 1507.1,116.9 1508.7,120.9 C1510.3,125.0 1511.0,128.1 1511.3,133.0 C1511.6,137.9 1510.9,145.0 1510.4,150.2 C1510.0,155.4 1509.6,160.5 1508.7,164.0 C1507.8,167.4 1507.3,169.2 1505.3,170.9 C1503.2,172.6 1501.0,174.3 1496.6,174.3 C1492.3,174.3 1485.2,172.3 1479.4,170.9 C1473.7,169.4 1467.4,167.4 1462.2,165.7 C1457.0,164.0 1453.0,161.7 1448.4,160.5 C1443.8,159.4 1439.5,158.8 1434.7,158.8 C1429.8,158.8 1424.3,159.7 1419.2,160.5 C1414.0,161.4 1409.7,162.8 1403.7,164.0 C1397.6,165.1 1388.7,166.3 1383.0,167.4 C1377.3,168.6 1373.8,170.0 1369.2,170.9 C1364.6,171.7 1360.0,173.2 1355.4,172.6 C1350.8,172.0 1346.3,169.7 1341.7,167.4 C1337.1,165.1 1331.6,161.0 1327.9,158.8 C1324.2,156.7 1320.9,157.1 1319.3,154.5 C1317.7,151.9 1317.7,146.2 1318.4,143.3 C1319.1,140.5 1321.7,137.6 1323.6,137.3 C1325.4,137.0 1326.3,140.2 1329.6,141.6 C1332.9,143.0 1339.1,145.6 1343.4,145.9 C1347.7,146.2 1352.0,144.9 1355.4,143.3 C1358.9,141.7 1361.8,139.3 1364.0,136.4 C1366.3,133.6 1367.8,131.3 1369.2,126.1 C1370.6,120.9 1371.2,109.0 1372.7,105.4 C1374.1,101.9 1374.4,104.9 1377.8,104.6 C1381.3,104.3 1389.6,104.4 1393.3,103.7 C1397.1,103.0 1398.5,102.9 1400.2,100.3 C1401.9,97.7 1403.1,94.0 1403.7,88.2 C1404.2,82.5 1403.1,71.3 1403.7,65.8 C1404.2,60.3 1397.1,56.9 1407.1,55.2 Z" fill="#ffe4c4"/>
<path d="M1408.8,112.3 C1409.4,107.4 1410.8,101.1 1414.0,96.8 C1417.1,92.5 1422.6,89.4 1427.8,86.5 C1432.9,83.6 1439.2,79.3 1445.0,79.6 C1450.7,79.9 1457.0,85.6 1462.2,88.2 C1467.4,90.8 1472.7,92.2 1476.0,95.1 C1479.3,98.0 1480.7,101.7 1482.0,105.4 C1483.3,109.2 1484.2,113.8 1483.7,117.5 C1483.3,121.2 1482.4,124.4 1479.4,127.8 C1476.4,131.3 1470.2,135.6 1465.7,138.2 C1461.1,140.7 1456.8,141.6 1451.9,143.3 C1447.0,145.0 1440.7,148.2 1436.4,148.5 C1432.1,148.8 1429.2,147.1 1426.0,145.0 C1422.9,143.0 1420.0,139.6 1417.4,136.4 C1414.8,133.3 1412.0,130.1 1410.5,126.1 C1409.1,122.1 1408.2,117.2 1408.8,112.3 Z" fill="#ffffff"/>
<path d="M1414.0,67.6 C1415.3,65.1 1419.2,62.7 1422.6,62.4 C1426.0,62.1 1433.8,63.8 1434.7,65.8 C1435.5,67.8 1430.1,72.3 1427.8,74.4 C1425.5,76.6 1423.0,78.3 1420.9,78.7 C1418.7,79.2 1416.0,78.9 1414.8,77.0 C1413.7,75.2 1412.7,70.0 1414.0,67.6 Z" fill="#ffa500"/>
<path d="M1383.0,126.1 C1384.3,124.0 1387.0,120.6 1389.0,120.1 C1391.0,119.5 1393.5,120.8 1395.0,122.7 C1396.6,124.5 1397.8,127.8 1398.5,131.3 C1399.2,134.7 1400.2,140.6 1399.4,143.3 C1398.5,146.1 1395.5,146.9 1393.3,147.6 C1391.2,148.3 1388.6,148.3 1386.4,147.6 C1384.3,146.9 1381.3,145.8 1380.4,143.3 C1379.5,140.9 1380.8,135.9 1381.3,133.0 C1381.7,130.1 1381.7,128.3 1383.0,126.1 Z" fill="#ffa500"/>
<path d="M1473.4,154.5 C1471.8,152.8 1478.4,147.2 1481.1,145.0 C1483.9,142.9 1487.9,141.3 1489.8,141.6 C1491.6,141.9 1492.2,144.5 1492.3,146.8 C1492.5,149.1 1493.8,154.1 1490.6,155.4 C1487.5,156.7 1475.0,156.2 1473.4,154.5 Z" fill="#ffa500"/>
<path d="M1308.9,219.1 C1308.9,215.4 1319.0,213.1 1324.4,210.5 C1329.9,207.9 1335.9,205.0 1341.7,203.6 C1347.4,202.2 1353.1,201.9 1358.9,201.9 C1364.6,201.9 1370.4,202.9 1376.1,203.6 C1381.8,204.3 1387.6,205.0 1393.3,206.2 C1399.1,207.3 1404.8,209.2 1410.5,210.5 C1416.3,211.8 1422.0,212.2 1427.8,213.9 C1433.5,215.7 1439.2,218.8 1445.0,220.8 C1450.7,222.8 1456.5,224.3 1462.2,226.0 C1467.9,227.7 1473.7,229.1 1479.4,231.1 C1485.2,233.2 1492.2,236.2 1496.6,238.0 C1501.1,239.9 1504.5,239.8 1506.1,242.3 C1507.7,244.9 1507.7,250.5 1506.1,253.5 C1504.5,256.5 1501.1,258.7 1496.6,260.4 C1492.2,262.1 1485.2,263.0 1479.4,263.9 C1473.7,264.7 1467.9,265.3 1462.2,265.6 C1456.5,265.9 1453.6,265.7 1445.0,265.6 C1436.4,265.4 1422.0,264.9 1410.5,264.7 C1399.1,264.6 1384.7,265.0 1376.1,264.7 C1367.5,264.4 1362.6,264.3 1358.9,263.0 C1355.2,261.7 1356.6,260.3 1353.7,257.0 C1350.8,253.7 1346.5,247.2 1341.7,243.2 C1336.8,239.2 1329.9,236.9 1324.4,232.9 C1319.0,228.9 1308.9,222.8 1308.9,219.1 Z" fill="#ffe4c4"/>
<path d="M1354.6,231.1 C1354.0,228.0 1356.7,221.2 1358.9,219.1 C1361.0,216.9 1361.8,218.2 1367.5,218.2 C1373.2,218.2 1384.7,218.1 1393.3,219.1 C1401.9,220.1 1410.5,222.0 1419.2,224.3 C1427.8,226.6 1437.8,230.1 1445.0,232.9 C1452.2,235.6 1460.5,237.5 1462.2,240.6 C1463.9,243.8 1458.2,249.7 1455.3,251.8 C1452.4,254.0 1452.4,253.4 1445.0,253.5 C1437.5,253.7 1420.6,253.2 1410.5,252.7 C1400.5,252.1 1391.3,251.4 1384.7,250.1 C1378.1,248.8 1374.7,246.9 1370.9,244.9 C1367.2,242.9 1365.1,240.3 1362.3,238.0 C1359.6,235.7 1355.2,234.3 1354.6,231.1 Z" fill="#ffa500"/>
<path d="M1080.1,99.4 C1080.5,98.1 1083.0,96.3 1085.3,96.0 C1087.6,95.7 1091.9,96.8 1093.9,97.7 C1095.8,98.6 1097.0,99.8 1097.0,101.1 C1097.0,102.4 1095.2,104.6 1093.9,105.4 C1092.5,106.3 1090.6,106.6 1088.7,106.3 C1086.8,106.0 1084.1,104.9 1082.7,103.7 C1081.2,102.6 1079.7,100.7 1080.1,99.4 Z" fill="#ffa500"/>
</g>
<g clip-path="url(#ca0)" fill="none" stroke="#000">
<path d="M1205.9,69.3 C1206.8,65.3 1208.8,62.4 1210.2,60.7 C1211.6,58.9 1212.8,58.5 1214.5,58.6 C1216.2,58.7 1218.8,59.5 1220.5,61.5 C1222.3,63.6 1223.1,66.0 1224.8,71.0 C1226.6,76.0 1229.0,85.3 1230.9,91.7 C1232.7,98.0 1235.0,104.3 1236.0,108.9 C1237.0,113.5 1237.5,116.6 1236.9,119.2 C1236.3,121.8 1234.8,123.0 1232.6,124.4 C1230.4,125.8 1226.3,127.1 1224.0,127.5 C1221.7,127.9 1220.5,127.8 1218.8,127.0 C1217.1,126.2 1215.1,125.1 1213.7,122.7 C1212.2,120.2 1211.4,116.1 1210.2,112.3 C1209.1,108.6 1207.7,104.9 1206.8,100.3 C1205.8,95.7 1204.8,89.9 1204.7,84.8 C1204.6,79.6 1205.0,73.3 1205.9,69.3 Z" stroke-width="1.25"/>
<path d="M1309.8,65.8 L1312.4,63.2 L1317.6,61.5 L1324.4,65.5 L1323.6,76.2 L1321.0,78.7 L1316.7,81.0 L1312.4,78.7 L1310.7,72.7 Z" stroke-width="1.25"/>
<path d="M1362.3,230.3 C1362.6,228.3 1366.1,224.9 1369.2,223.4 C1372.4,221.9 1376.7,221.4 1381.3,221.2 C1385.9,221.0 1391.3,221.4 1396.8,222.2 C1402.2,223.0 1408.8,224.6 1414.0,226.0 C1419.2,227.3 1423.5,228.6 1427.8,230.3 C1432.1,232.0 1435.8,234.4 1439.8,236.3 C1443.8,238.2 1450.4,239.8 1451.9,241.5 C1453.3,243.2 1450.7,245.2 1448.4,246.6 C1446.1,248.1 1442.7,249.4 1438.1,250.1 C1433.5,250.8 1426.9,251.1 1420.9,251.0 C1414.8,250.8 1407.7,249.9 1401.9,249.2 C1396.2,248.5 1391.0,247.9 1386.4,246.6 C1381.8,245.4 1377.5,243.3 1374.4,241.5 C1371.2,239.6 1369.5,237.3 1367.5,235.5 C1365.5,233.6 1362.0,232.3 1362.3,230.3 Z" stroke-width="1.25"/>
<path d="M895.5,51.5 L895.9,55.0 L896.4,58.5 L896.8,62.0 L897.3,65.5 L897.8,69.0 L898.3,72.5 L898.8,76.0 L899.3,79.5 L899.9,83.0 L900.4,86.5 L901.0,90.0 L901.6,93.5 L902.2,97.1 L902.8,100.6 L903.5,104.1 L904.1,107.6 L904.8,111.1 L905.5,114.6 L906.2,118.1 L907.0,121.6 L907.7,125.1 L908.5,128.6 L909.3,132.1 L910.1,135.6 L911.0,139.1 L911.9,142.6 L912.7,146.1 L913.7,149.6 L914.6,153.1 L915.6,156.6 L916.6,160.1 L917.6,163.6 L918.7,167.1 L919.8,170.6 L920.9,174.1 L922.0,177.6 L923.2,181.1 L924.4,184.7 L925.7,188.2 L927.0,191.7 L928.3,195.2 L929.6,198.7 L931.0,202.2 L932.5,205.7 L933.9,209.2 L935.5,212.7 L937.0,216.2 L938.6,219.7 L940.3,223.2 L942.0,226.7 L943.7,230.2 L945.5,233.7 L947.3,237.2 L949.2,240.7 L951.2,244.2 L953.2,247.7 L955.2,251.2 L957.3,254.7 L959.5,258.2 L961.8,261.7 L964.1,265.2 L966.4,268.7 L968.8,272.3 L971.3,275.8 L973.9,279.3 L976.6,282.8 L979.3,286.3 L982.1,289.8 L984.9,293.3 L987.9,296.8 L990.9,300.3 L994.0,303.8 L997.2,307.3 L1000.5,310.8 L1003.9,314.3 L1007.4,317.8 L1011.0,321.3 L1014.7,324.8 L1018.5,328.3 L1022.3,331.8 L1026.3,335.3 L1030.5,338.8 L1034.7,342.3 L1039.0,345.8 L1043.5,349.3 L1048.1,352.8 L1052.8,356.3 L1057.7,359.9 L1062.7,363.4 L1067.8,366.9 L1073.1,370.4 L1078.5,373.9 L1084.1,377.4 L1089.9,380.9 L1095.8,384.4 L1101.8,387.9 L1108.1,391.4 L1114.5,394.9 L1121.1,398.4 L1127.8,401.9" stroke-width="1.25"/>
<path d="M1517.5,51.5 L1517.1,55.0 L1516.6,58.5 L1516.2,62.0 L1515.7,65.5 L1515.2,69.0 L1514.7,72.5 L1514.2,76.0 L1513.7,79.5 L1513.1,83.0 L1512.6,86.5 L1512.0,90.0 L1511.4,93.5 L1510.8,97.1 L1510.2,100.6 L1509.5,104.1 L1508.9,107.6 L1508.2,111.1 L1507.5,114.6 L1506.8,118.1 L1506.0,121.6 L1505.3,125.1 L1504.5,128.6 L1503.7,132.1 L1502.9,135.6 L1502.0,139.1 L1501.1,142.6 L1500.3,146.1 L1499.3,149.6 L1498.4,153.1 L1497.4,156.6 L1496.4,160.1 L1495.4,163.6 L1494.3,167.1 L1493.2,170.6 L1492.1,174.1 L1491.0,177.6 L1489.8,181.1 L1488.6,184.7 L1487.3,188.2 L1486.0,191.7 L1484.7,195.2 L1483.4,198.7 L1482.0,202.2 L1480.5,205.7 L1479.1,209.2 L1477.5,212.7 L1476.0,216.2 L1474.4,219.7 L1472.7,223.2 L1471.0,226.7 L1469.3,230.2 L1467.5,233.7 L1465.7,237.2 L1463.8,240.7 L1461.8,244.2 L1459.8,247.7 L1457.8,251.2 L1455.7,254.7 L1453.5,258.2 L1451.2,261.7 L1448.9,265.2 L1446.6,268.7 L1444.2,272.3 L1441.7,275.8 L1439.1,279.3 L1436.4,282.8 L1433.7,286.3 L1430.9,289.8 L1428.1,293.3 L1425.1,296.8 L1422.1,300.3 L1419.0,303.8 L1415.8,307.3 L1412.5,310.8 L1409.1,314.3 L1405.6,317.8 L1402.0,321.3 L1398.3,324.8 L1394.5,328.3 L1390.7,331.8 L1386.7,335.3 L1382.5,338.8 L1378.3,342.3 L1374.0,345.8 L1369.5,349.3 L1364.9,352.8 L1360.2,356.3 L1355.3,359.9 L1350.3,363.4 L1345.2,366.9 L1339.9,370.4 L1334.5,373.9 L1328.9,377.4 L1323.1,380.9 L1317.2,384.4 L1311.2,387.9 L1304.9,391.4 L1298.5,394.9 L1291.9,398.4 L1285.2,401.9" stroke-width="1.25"/>
</g>
<line x1="873.7" y1="401.9" x2="1539.2" y2="401.9" stroke="#111" stroke-width="1.1"/>
<line x1="873.7" y1="51.5" x2="873.7" y2="401.9" stroke="#111" stroke-width="1.1"/>
<line x1="1539.2" y1="51.5" x2="1539.2" y2="401.9" stroke="#111" stroke-width="1.1"/>
<line x1="873.7" y1="51.5" x2="1539.2" y2="51.5" stroke="#111" stroke-width="1.1"/>
<clipPath id="cf1"><rect x="873.7" y="530.0" width="665.5" height="346.7"/></clipPath>
<clipPath id="ca1"><rect x="873.7" y="526.3" width="665.5" height="350.4"/></clipPath>
<g clip-path="url(#cf1)">
<path d="M872.6,537.4 C874.4,526.0 880.5,532.3 883.8,531.4 C887.1,530.4 889.9,529.6 892.4,531.7 C894.8,533.9 896.4,539.9 898.4,544.3 C900.4,548.7 902.0,553.5 904.4,558.1 C906.9,562.6 909.6,567.5 913.1,571.8 C916.5,576.1 921.7,582.2 925.1,583.9 C928.6,585.6 930.6,584.2 933.7,582.2 C936.9,580.2 940.7,574.8 944.0,571.8 C947.3,568.8 950.9,564.4 953.5,564.1 C956.1,563.8 958.5,564.8 959.5,570.1 C960.6,575.4 958.0,588.5 959.5,595.9 C961.1,603.4 967.0,609.1 969.0,614.9 C971.0,620.6 970.0,625.9 971.6,630.4 C973.2,634.8 974.2,638.8 978.5,641.6 C982.8,644.3 991.4,646.5 997.4,646.7 C1003.5,647.0 1009.8,646.0 1014.7,643.3 C1019.5,640.6 1022.1,632.9 1026.7,630.4 C1031.3,627.9 1036.8,628.7 1042.2,628.3 C1047.7,627.9 1053.7,628.6 1059.4,627.8 C1065.2,627.0 1072.1,626.2 1076.6,623.5 C1081.2,620.8 1083.8,616.3 1087.0,611.4 C1090.1,606.6 1092.4,599.1 1095.6,594.2 C1098.7,589.3 1102.8,582.4 1105.9,582.2 C1109.1,581.9 1113.0,588.2 1114.5,592.5 C1116.1,596.8 1117.7,602.5 1115.4,608.0 C1113.1,613.4 1104.6,618.9 1100.8,625.2 C1096.9,631.5 1096.2,641.6 1092.1,645.9 C1088.1,650.2 1083.5,649.3 1076.6,651.0 C1069.8,652.8 1059.4,654.2 1050.8,656.2 C1042.2,658.2 1032.7,660.8 1025.0,663.1 C1017.2,665.4 1010.3,667.4 1004.3,670.0 C998.3,672.6 994.0,675.2 988.8,678.6 C983.7,682.0 978.8,686.6 973.3,690.7 C967.9,694.7 960.7,699.3 956.1,702.7 C951.5,706.1 948.4,708.2 945.8,711.3 C943.2,714.5 941.8,718.8 940.6,721.6 C939.5,724.5 938.0,726.0 938.9,728.5 C939.7,731.1 942.9,734.8 945.8,737.1 C948.6,739.4 945.8,741.3 956.1,742.3 C966.4,743.3 996.3,744.0 1007.8,743.2 C1019.2,742.3 1019.2,739.9 1025.0,737.1 C1030.7,734.4 1036.5,729.4 1042.2,726.8 C1047.9,724.2 1052.3,722.8 1059.4,721.6 C1066.6,720.5 1075.2,719.9 1085.3,719.9 C1095.3,719.9 1110.8,720.4 1119.7,721.6 C1128.6,722.9 1136.3,725.1 1138.6,727.7 C1140.9,730.3 1138.1,733.0 1133.5,737.1 C1128.9,741.3 1119.1,748.3 1111.1,752.6 C1103.1,756.9 1093.9,760.1 1085.3,763.0 C1076.6,765.8 1068.0,767.9 1059.4,769.9 C1050.8,771.9 1042.2,773.6 1033.6,775.0 C1025.0,776.5 1016.4,777.2 1007.8,778.5 C999.2,779.8 990.5,781.1 981.9,782.8 C973.3,784.5 964.1,786.4 956.1,788.8 C948.1,791.2 939.5,795.1 933.7,797.4 C928.0,799.7 928.0,801.1 921.7,802.6 C915.3,804.0 904.0,805.7 895.8,806.0 C887.7,806.3 876.5,821.2 872.6,804.3 C868.7,787.4 870.1,722.5 872.6,704.4 C875.0,686.3 881.9,698.7 887.2,695.8 C892.5,692.9 898.7,690.7 904.4,687.2 C910.2,683.8 915.9,679.2 921.7,675.2 C927.4,671.1 934.6,667.4 938.9,663.1 C943.2,658.8 945.2,653.9 947.5,649.3 C949.8,644.7 951.7,640.7 952.7,635.5 C953.7,630.4 954.1,622.9 953.5,618.3 C952.9,613.7 951.7,611.7 949.2,608.0 C946.8,604.3 942.3,599.4 938.9,595.9 C935.4,592.5 931.4,588.8 928.6,587.3 C925.7,585.9 925.1,586.2 921.7,587.3 C918.2,588.5 912.2,591.9 907.9,594.2 C903.6,596.5 899.3,599.7 895.8,601.1 C892.4,602.5 891.1,603.1 887.2,602.8 C883.3,602.5 875.0,610.3 872.6,599.4 C870.1,588.5 870.7,548.7 872.6,537.4 Z" fill="#ffe4c4"/>
<path d="M876.9,554.6 C878.4,551.2 883.2,547.1 885.5,546.0 C887.8,544.8 888.9,545.7 890.7,547.7 C892.4,549.7 894.3,554.0 895.8,558.1 C897.4,562.1 899.6,567.5 900.1,571.8 C900.7,576.1 900.6,581.0 899.3,583.9 C898.0,586.8 894.7,588.3 892.4,589.0 C890.1,589.8 887.8,589.6 885.5,588.2 C883.2,586.8 880.1,584.0 878.6,580.4 C877.1,576.9 876.8,571.0 876.5,566.7 C876.3,562.4 875.4,558.1 876.9,554.6 Z" fill="#ffa500"/>
<path d="M952.7,671.7 C953.8,669.1 958.1,663.4 961.3,661.4 C964.4,659.4 968.2,659.5 971.6,659.7 C975.0,659.8 981.6,660.2 981.9,662.2 C982.2,664.2 976.5,669.4 973.3,671.7 C970.2,674.0 966.1,675.2 963.0,676.0 C959.8,676.9 956.1,677.6 954.4,676.9 C952.7,676.2 951.5,674.3 952.7,671.7 Z" fill="#ffa500"/>
<path d="M872.6,756.1 C874.2,752.6 878.2,748.5 882.1,744.0 C885.9,739.6 892.4,731.7 895.8,729.4 C899.3,727.1 899.6,728.7 902.7,730.3 C905.9,731.8 908.7,736.3 914.8,738.9 C920.8,741.5 930.6,743.7 938.9,745.8 C947.2,747.8 956.1,749.2 964.7,750.9 C973.3,752.6 982.8,754.5 990.5,756.1 C998.3,757.7 1011.2,759.0 1011.2,760.4 C1011.2,761.8 996.9,763.1 990.5,764.7 C984.2,766.3 980.5,768.1 973.3,769.9 C966.1,771.6 956.1,773.6 947.5,775.0 C938.9,776.5 930.3,777.9 921.7,778.5 C913.1,779.0 902.7,779.6 895.8,778.5 C888.9,777.3 884.2,773.9 880.3,771.6 C876.5,769.3 873.9,767.3 872.6,764.7 C871.3,762.1 871.0,759.5 872.6,756.1 Z" fill="#ffa500"/>
<path d="M1003.5,548.6 C1004.1,548.0 1005.5,549.6 1006.0,551.2 C1006.6,552.7 1007.0,555.6 1006.9,558.1 C1006.8,560.5 1005.8,564.9 1005.2,565.8 C1004.5,566.7 1003.4,565.1 1002.9,563.2 C1002.5,561.4 1002.2,557.0 1002.3,554.6 C1002.3,552.2 1002.8,549.2 1003.5,548.6 Z" fill="#ffe4c4"/>
<path d="M1106.9,550.3 C1107.8,548.8 1109.9,547.2 1112.1,547.4 C1114.2,547.5 1118.4,549.4 1119.8,551.2 C1121.2,552.9 1121.1,555.5 1120.7,558.1 C1120.2,560.6 1118.7,564.1 1117.2,566.7 C1115.8,569.2 1113.6,573.8 1112.1,573.6 C1110.5,573.3 1108.7,567.8 1107.7,564.9 C1106.8,562.1 1106.7,558.8 1106.5,556.3 C1106.4,553.9 1106.0,551.8 1106.9,550.3 Z" fill="#ffe4c4"/>
<path d="M1143.1,530.8 C1148.2,528.9 1165.3,528.3 1169.7,530.8 C1174.2,533.4 1170.3,540.6 1169.7,546.0 C1169.2,551.4 1168.5,559.2 1166.3,563.2 C1164.1,567.2 1159.6,569.2 1156.8,570.1 C1154.1,571.0 1152.5,570.1 1149.9,568.4 C1147.4,566.7 1143.6,562.5 1141.3,559.8 C1139.0,557.0 1136.6,554.9 1136.2,552.0 C1135.7,549.2 1137.6,546.1 1138.7,542.6 C1139.9,539.0 1137.9,532.8 1143.1,530.8 Z" fill="#ffe4c4"/>
<path d="M1181.8,585.6 C1183.2,581.6 1187.3,582.2 1189.5,582.2 C1191.8,582.2 1194.4,582.4 1195.6,585.6 C1196.7,588.8 1194.9,595.9 1196.4,601.1 C1198.0,606.3 1203.0,610.9 1205.0,616.6 C1207.1,622.3 1207.1,628.1 1208.5,635.5 C1209.9,643.0 1212.4,653.3 1213.7,661.4 C1214.9,669.4 1217.4,678.9 1216.2,683.8 C1215.1,688.6 1211.2,688.6 1206.8,690.7 C1202.3,692.7 1194.4,695.5 1189.5,695.8 C1184.7,696.1 1181.5,694.4 1177.5,692.4 C1173.5,690.4 1170.3,687.2 1165.4,683.8 C1160.6,680.3 1153.8,675.4 1148.2,671.7 C1142.6,668.0 1133.0,665.1 1131.9,661.4 C1130.7,657.6 1138.3,654.8 1141.3,649.3 C1144.3,643.9 1146.8,633.2 1149.9,628.7 C1153.1,624.1 1156.5,623.8 1160.3,621.8 C1164.0,619.8 1168.9,619.2 1172.3,616.6 C1175.8,614.0 1179.4,611.4 1180.9,606.3 C1182.5,601.1 1180.4,589.6 1181.8,585.6 Z" fill="#ffe4c4"/>
<path d="M1159.4,645.9 C1160.4,642.4 1162.7,638.4 1165.4,635.5 C1168.2,632.7 1172.0,630.1 1175.8,628.7 C1179.5,627.2 1184.7,625.8 1187.8,626.9 C1191.0,628.1 1193.3,631.2 1194.7,635.5 C1196.1,639.8 1196.6,647.6 1196.4,652.8 C1196.3,657.9 1195.6,663.2 1193.9,666.5 C1192.1,669.8 1189.1,671.7 1186.1,672.6 C1183.1,673.4 1179.5,673.0 1175.8,671.7 C1172.0,670.4 1166.4,667.4 1163.7,664.8 C1161.0,662.2 1160.1,659.4 1159.4,656.2 C1158.7,653.1 1158.4,649.3 1159.4,645.9 Z" fill="#ffa500"/>
<path d="M1148.2,825.0 C1148.8,823.0 1148.8,817.9 1155.1,814.7 C1161.4,811.5 1175.2,808.9 1186.1,806.0 C1197.0,803.1 1211.9,799.7 1220.5,797.4 C1229.1,795.1 1231.5,796.6 1237.8,792.3 C1244.1,788.0 1249.8,777.1 1258.4,771.6 C1267.0,766.1 1278.5,762.7 1289.4,759.5 C1300.3,756.3 1310.9,755.4 1323.9,752.6 C1336.9,749.8 1355.9,746.1 1367.5,742.7 C1379.1,739.3 1386.1,736.3 1393.3,732.3 C1400.5,728.3 1404.8,722.4 1410.5,718.5 C1416.2,714.6 1419.2,711.0 1427.8,709.1 C1436.4,707.2 1447.8,707.2 1462.2,707.4 C1476.6,707.5 1503.0,708.7 1513.9,710.0 C1524.8,711.3 1523.6,712.5 1527.6,715.1 C1531.6,717.7 1536.3,719.1 1538.0,725.4 C1539.7,731.7 1539.7,747.5 1538.0,753.0 C1536.3,758.5 1533.0,756.6 1527.6,758.2 C1522.1,759.8 1513.3,761.8 1505.3,762.5 C1497.3,763.2 1489.5,762.6 1479.4,762.5 C1469.4,762.4 1456.5,761.2 1445.0,761.6 C1433.5,762.0 1422.0,763.3 1410.5,765.0 C1399.0,766.7 1387.6,769.0 1376.1,771.9 C1364.6,774.8 1353.2,778.0 1341.7,782.3 C1330.2,786.6 1318.8,792.4 1307.2,797.8 C1295.6,803.2 1282.3,809.2 1272.2,814.6 C1262.1,820.0 1255.0,827.2 1246.4,830.1 C1237.8,833.0 1230.5,831.9 1220.5,831.9 C1210.5,831.9 1197.6,831.0 1186.1,830.1 C1174.6,829.2 1158.0,827.6 1151.7,826.7 C1145.4,825.9 1147.6,827.0 1148.2,825.0 Z" fill="#ffe4c4"/>
<path d="M1422.6,738.4 C1423.7,736.1 1427.8,731.6 1432.9,728.9 C1438.1,726.2 1445.8,723.1 1453.6,722.0 C1461.3,720.8 1471.1,721.1 1479.4,722.0 C1487.7,722.9 1498.8,724.4 1503.5,727.2 C1508.3,729.9 1509.0,735.3 1507.8,738.4 C1506.7,741.4 1501.4,743.4 1496.6,745.2 C1491.9,747.1 1486.6,748.8 1479.4,749.5 C1472.3,750.3 1460.8,750.2 1453.6,749.9 C1446.4,749.6 1441.0,749.0 1436.4,747.8 C1431.8,746.6 1428.3,744.2 1426.0,742.7 C1423.7,741.1 1421.5,740.6 1422.6,738.4 Z" fill="#ffa500"/>
<path d="M1224.2,528.0 C1237.4,525.7 1285.2,526.8 1298.2,528.0 C1311.2,529.2 1299.9,532.2 1302.0,535.3 C1304.1,538.4 1307.8,543.8 1311.0,546.8 C1314.2,549.8 1318.2,551.5 1321.2,553.2 C1324.2,554.9 1327.0,555.3 1328.8,557.0 C1330.6,558.7 1331.8,560.6 1332.0,563.4 C1332.2,566.2 1331.5,569.9 1330.1,573.6 C1328.7,577.3 1326.5,583.7 1323.7,585.7 C1320.9,587.7 1316.5,586.7 1313.5,585.7 C1310.5,584.8 1307.6,582.0 1305.9,580.0 C1304.2,578.0 1304.8,575.7 1303.3,573.6 C1301.8,571.5 1299.2,568.3 1296.9,567.2 C1294.6,566.1 1291.6,566.1 1289.3,567.2 C1287.0,568.3 1284.2,570.8 1282.9,573.6 C1281.6,576.4 1280.5,580.6 1281.6,583.8 C1282.7,587.0 1286.1,590.6 1289.3,592.7 C1292.5,594.8 1298.2,594.6 1300.8,596.5 C1303.3,598.4 1303.8,601.2 1304.6,604.2 C1305.4,607.2 1304.2,611.4 1305.9,614.4 C1307.6,617.4 1311.8,620.7 1314.8,622.0 C1317.8,623.3 1321.4,622.9 1323.7,622.0 C1326.0,621.1 1327.5,619.4 1328.8,616.9 C1330.1,614.4 1331.0,610.5 1331.4,606.7 C1331.8,602.9 1330.1,596.8 1331.4,594.0 C1332.7,591.2 1336.5,592.1 1339.0,590.2 C1341.5,588.3 1344.6,585.3 1346.7,582.5 C1348.8,579.7 1350.8,576.4 1351.8,573.6 C1352.8,570.8 1353.0,568.5 1352.4,565.9 C1351.8,563.3 1350.2,560.4 1348.0,558.3 C1345.8,556.2 1340.7,554.5 1339.0,553.2 C1337.3,551.9 1337.1,553.0 1337.8,550.6 C1338.5,548.2 1341.6,542.9 1342.9,539.1 C1344.2,535.3 1340.0,529.9 1345.4,528.0 C1350.8,526.1 1370.1,525.0 1375.3,528.0 C1380.5,531.0 1375.9,539.8 1376.6,546.1 C1377.2,552.4 1377.9,560.8 1379.2,565.8 C1380.5,570.8 1382.4,573.8 1384.4,576.2 C1386.4,578.6 1388.8,579.9 1391.0,580.1 C1393.2,580.3 1395.3,579.2 1397.5,577.5 C1399.7,575.8 1402.1,573.8 1404.1,569.7 C1406.1,565.6 1407.8,558.4 1409.3,552.7 C1410.8,547.0 1412.3,539.8 1413.2,535.7 C1414.1,531.6 1410.1,529.3 1414.5,528.0 C1418.9,526.7 1434.8,526.1 1439.4,528.0 C1444.0,529.9 1441.3,536.6 1442.0,539.6 C1442.7,542.6 1443.7,543.3 1443.3,546.1 C1442.9,548.9 1440.5,552.7 1439.4,556.6 C1438.3,560.5 1436.7,564.9 1436.7,569.7 C1436.7,574.5 1437.7,579.7 1439.4,585.4 C1441.2,591.1 1445.5,598.3 1447.2,603.7 C1448.9,609.1 1449.6,612.8 1449.8,618.0 C1450.0,623.2 1448.1,630.6 1448.5,635.0 C1448.9,639.4 1449.8,641.4 1452.4,644.2 C1455.0,647.0 1459.8,649.4 1464.2,652.0 C1468.6,654.6 1476.6,657.9 1478.6,659.9 C1480.6,661.9 1478.4,662.3 1476.0,663.8 C1473.6,665.3 1467.9,666.5 1464.2,669.0 C1460.5,671.5 1457.9,676.7 1453.6,678.9 C1449.2,681.1 1443.5,682.7 1438.1,682.4 C1432.6,682.1 1425.5,678.9 1420.9,677.2 C1416.3,675.5 1418.0,673.8 1410.5,672.1 C1403.0,670.4 1385.7,668.6 1376.1,666.9 C1366.5,665.1 1361.2,663.1 1353.1,661.6 C1345.0,660.1 1336.1,658.6 1327.6,657.8 C1319.1,656.9 1308.8,657.4 1302.0,656.5 C1295.2,655.6 1291.0,654.4 1286.7,652.7 C1282.5,651.0 1280.3,649.3 1276.5,646.3 C1272.7,643.3 1267.4,638.8 1263.8,634.8 C1260.2,630.8 1258.0,625.8 1254.8,622.0 C1251.6,618.2 1248.4,616.0 1244.6,611.8 C1240.8,607.5 1236.2,601.2 1231.9,596.5 C1227.7,591.8 1222.3,587.2 1219.1,583.8 C1215.9,580.4 1214.7,579.5 1212.8,576.1 C1210.9,572.7 1207.5,567.2 1207.7,563.4 C1207.9,559.6 1212.1,556.8 1214.0,553.2 C1215.9,549.6 1217.4,545.9 1219.1,541.7 C1220.8,537.5 1211.0,530.3 1224.2,528.0 Z" fill="#ffe4c4"/>
<path d="M1254.8,534.0 C1256.4,534.2 1258.7,540.0 1259.9,543.0 C1261.2,545.9 1262.3,548.7 1262.5,551.9 C1262.7,555.1 1262.5,559.5 1261.2,562.1 C1259.9,564.6 1257.0,567.2 1254.8,567.2 C1252.7,567.2 1249.7,564.6 1248.5,562.1 C1247.2,559.5 1246.9,555.3 1247.2,551.9 C1247.5,548.5 1249.1,544.7 1250.4,541.7 C1251.7,538.7 1253.3,533.8 1254.8,534.0 Z" fill="#ffffff"/>
<path d="M1235.7,535.3 C1237.6,535.3 1239.8,538.1 1240.8,540.4 C1241.9,542.7 1242.1,546.4 1242.1,549.3 C1242.1,552.3 1240.4,555.1 1240.8,558.3 C1241.2,561.5 1242.7,565.9 1244.6,568.5 C1246.6,571.0 1249.5,573.1 1252.3,573.6 C1255.1,574.0 1258.7,572.9 1261.2,571.0 C1263.8,569.1 1266.5,566.3 1267.6,562.1 C1268.7,557.8 1267.2,550.0 1267.6,545.5 C1268.0,541.0 1268.7,537.5 1270.2,535.3 C1271.6,533.1 1274.2,532.1 1276.5,532.1 C1278.9,532.1 1281.6,533.7 1284.2,535.3 C1286.7,536.9 1290.1,538.8 1291.8,541.7 C1293.5,544.6 1295.0,550.0 1294.4,552.5 C1293.8,555.1 1290.1,555.0 1288.0,557.0 C1285.9,559.0 1283.5,561.5 1281.6,564.6 C1279.7,567.8 1277.0,571.7 1276.5,576.1 C1276.1,580.6 1277.0,586.8 1279.1,591.4 C1281.2,596.1 1286.3,600.1 1289.3,604.2 C1292.3,608.2 1294.8,612.3 1296.9,615.7 C1299.1,619.1 1299.7,622.0 1302.0,624.6 C1304.4,627.1 1307.6,629.7 1311.0,631.0 C1314.4,632.2 1319.5,632.5 1322.4,632.2 C1325.4,632.0 1326.5,631.4 1328.8,629.7 C1331.2,628.0 1334.8,625.4 1336.5,622.0 C1338.2,618.6 1338.2,612.5 1339.0,609.3 C1339.9,606.1 1339.2,605.7 1341.6,602.9 C1343.9,600.1 1349.9,595.9 1353.1,592.7 C1356.2,589.5 1359.9,587.4 1360.7,583.8 C1361.6,580.2 1359.0,575.3 1358.2,571.0 C1357.3,566.8 1356.5,562.9 1355.6,558.3 C1354.8,553.6 1352.8,546.6 1353.1,543.0 C1353.3,539.3 1355.4,537.9 1356.9,536.6 C1358.4,535.3 1360.1,534.7 1362.0,535.3 C1363.9,535.9 1367.1,537.6 1368.4,540.4 C1369.6,543.2 1368.6,546.8 1369.6,551.9 C1370.7,557.0 1372.7,565.9 1374.7,571.0 C1376.8,576.2 1379.3,579.5 1381.8,582.8 C1384.3,586.0 1387.3,589.5 1389.7,590.6 C1392.1,591.7 1393.8,590.8 1396.2,589.3 C1398.6,587.8 1401.7,585.4 1404.1,581.4 C1406.5,577.5 1408.9,570.6 1410.6,565.8 C1412.3,561.0 1413.2,556.8 1414.5,552.7 C1415.8,548.5 1416.7,543.3 1418.4,540.9 C1420.2,538.5 1423.0,537.9 1425.0,538.3 C1426.9,538.7 1429.1,540.0 1430.2,543.5 C1431.3,547.0 1431.3,552.2 1431.5,559.2 C1431.7,566.2 1431.1,578.8 1431.5,585.4 C1432.0,591.9 1433.3,594.1 1434.1,598.4 C1435.0,602.8 1436.5,607.2 1436.7,611.5 C1437.0,615.9 1435.0,620.2 1435.4,624.6 C1435.9,628.9 1438.3,633.3 1439.4,637.7 C1440.4,642.0 1440.7,646.8 1442.0,650.7 C1443.3,654.7 1448.9,659.0 1447.2,661.2 C1445.5,663.4 1438.5,663.5 1431.5,663.8 C1424.5,664.1 1411.9,663.0 1405.4,662.8 C1398.8,662.5 1396.8,663.1 1392.3,662.2 C1387.8,661.4 1385.1,659.1 1378.6,657.8 C1372.0,656.4 1361.6,655.4 1353.1,653.9 C1344.6,652.4 1335.0,650.1 1327.6,648.8 C1320.1,647.6 1314.4,647.6 1308.4,646.3 C1302.5,645.0 1296.1,643.5 1291.8,641.2 C1287.6,638.8 1286.3,635.6 1282.9,632.2 C1279.5,628.8 1275.7,624.6 1271.4,620.8 C1267.2,616.9 1261.2,612.9 1257.4,609.3 C1253.6,605.7 1251.7,603.5 1248.5,599.1 C1245.3,594.6 1241.7,587.4 1238.3,582.5 C1234.9,577.6 1230.2,574.8 1228.1,569.7 C1225.9,564.6 1225.3,556.8 1225.5,551.9 C1225.7,547.0 1227.6,543.2 1229.3,540.4 C1231.0,537.6 1233.8,535.3 1235.7,535.3 Z" fill="#ffa500"/>
<path d="M1380.5,611.5 C1381.2,607.6 1383.4,605.6 1385.8,603.7 C1388.2,601.7 1391.9,600.0 1394.9,599.7 C1398.0,599.5 1401.2,600.4 1404.1,602.4 C1406.9,604.3 1410.4,608.2 1411.9,611.5 C1413.4,614.8 1413.6,618.7 1413.2,622.0 C1412.8,625.2 1411.5,628.9 1409.3,631.1 C1407.1,633.3 1403.4,634.6 1400.1,635.0 C1396.9,635.5 1392.7,635.0 1389.7,633.7 C1386.6,632.4 1383.4,630.9 1381.8,627.2 C1380.3,623.5 1379.9,615.4 1380.5,611.5 Z" fill="#ffe4c4"/>
<path d="M1385.8,619.4 C1386.0,617.2 1387.9,614.3 1389.7,612.8 C1391.4,611.3 1394.0,610.4 1396.2,610.2 C1398.4,610.0 1401.0,610.2 1402.8,611.5 C1404.5,612.8 1406.2,615.7 1406.7,618.1 C1407.1,620.4 1406.5,623.9 1405.4,625.9 C1404.3,627.9 1402.1,629.2 1400.1,629.8 C1398.2,630.5 1395.6,630.5 1393.6,629.8 C1391.6,629.2 1389.7,627.6 1388.4,625.9 C1387.1,624.2 1385.5,621.5 1385.8,619.4 Z" fill="#ffffff"/>
<path d="M1322.4,639.3 C1322.4,637.9 1326.7,637.5 1328.8,636.1 C1330.9,634.7 1333.3,633.8 1335.2,631.0 C1337.1,628.2 1338.8,623.5 1340.3,619.5 C1341.8,615.5 1342.0,610.5 1344.1,606.7 C1346.2,602.9 1350.3,599.5 1353.1,596.5 C1355.9,593.5 1358.3,591.3 1360.7,588.9 C1363.1,586.5 1364.1,581.0 1367.5,582.1 C1370.9,583.2 1379.5,591.8 1381.2,595.8 C1382.9,599.8 1378.8,602.6 1377.9,606.3 C1377.0,610.0 1376.2,614.1 1376.0,618.0 C1375.8,621.9 1375.4,626.7 1376.6,629.8 C1377.8,632.9 1379.6,634.3 1383.1,636.4 C1386.6,638.5 1393.3,641.6 1397.5,642.2 C1401.7,642.9 1404.5,640.9 1408.0,640.3 C1411.5,639.6 1415.6,638.4 1418.4,638.3 C1421.2,638.2 1423.5,638.4 1425.0,639.6 C1426.5,640.8 1427.1,643.6 1427.6,645.5 C1428.1,647.4 1428.8,649.2 1428.2,650.7 C1427.6,652.2 1426.2,654.0 1423.7,654.7 C1421.2,655.4 1418.4,654.8 1413.2,654.7 C1408.0,654.6 1400.2,654.5 1392.3,654.0 C1384.4,653.5 1374.8,652.9 1366.1,652.0 C1357.4,651.1 1346.5,650.1 1340.3,648.8 C1334.1,647.5 1331.8,646.0 1328.8,644.4 C1325.8,642.8 1322.4,640.7 1322.4,639.3 Z" fill="#ff4500"/>
<path d="M1345.4,606.7 C1346.7,603.9 1350.1,601.2 1353.1,599.1 C1356.1,597.0 1360.3,594.2 1363.3,594.0 C1366.3,593.8 1369.4,595.2 1370.9,597.8 C1372.4,600.3 1372.4,605.3 1372.2,609.3 C1372.0,613.3 1369.8,617.1 1369.6,622.0 C1369.4,626.9 1371.5,635.2 1370.9,638.6 C1370.3,642.0 1368.8,642.0 1365.8,642.4 C1362.8,642.8 1356.5,641.8 1353.1,641.2 C1349.7,640.6 1346.9,640.7 1345.4,638.6 C1343.9,636.5 1344.1,632.2 1344.1,628.4 C1344.1,624.6 1345.2,619.3 1345.4,615.7 C1345.6,612.1 1344.1,609.5 1345.4,606.7 Z" fill="#ff0000"/>
<path d="M1255.5,585.7 C1256.1,584.3 1259.4,583.4 1261.2,583.1 C1263.0,582.8 1264.9,582.4 1266.3,583.8 C1267.7,585.2 1268.8,589.3 1269.5,591.4 C1270.2,593.5 1271.3,595.1 1270.8,596.5 C1270.3,597.9 1267.9,599.7 1266.3,599.7 C1264.7,599.7 1262.7,597.9 1261.2,596.5 C1259.7,595.1 1258.4,593.2 1257.4,591.4 C1256.5,589.6 1254.9,587.1 1255.5,585.7 Z" fill="#ff4500"/>
<path d="M1418.4,561.8 C1419.6,560.0 1420.0,565.1 1420.4,572.3 C1420.9,579.5 1421.9,600.6 1421.1,605.0 C1420.3,609.4 1417.3,600.4 1415.8,598.4 C1414.3,596.4 1412.3,595.8 1411.9,593.2 C1411.5,590.6 1412.1,588.0 1413.2,582.8 C1414.3,577.6 1417.2,563.5 1418.4,561.8 Z" fill="#ff4500"/>
<path d="M1476.0,546.1 C1477.5,543.6 1480.3,543.5 1483.8,544.2 C1487.3,544.8 1492.3,549.2 1496.9,550.1 C1501.5,550.9 1507.3,550.9 1511.3,549.4 C1515.2,547.9 1517.6,542.8 1520.4,540.9 C1523.2,539.1 1526.1,537.9 1528.3,538.3 C1530.4,538.7 1532.2,540.0 1533.5,543.5 C1534.8,547.0 1535.6,553.3 1536.1,559.2 C1536.6,565.1 1536.8,572.3 1536.8,578.8 C1536.8,585.4 1536.4,593.2 1536.1,598.4 C1535.8,603.7 1536.5,608.0 1534.8,610.2 C1533.1,612.4 1528.7,612.0 1525.6,611.5 C1522.6,611.1 1520.2,608.9 1516.5,607.6 C1512.8,606.3 1507.8,603.9 1503.4,603.7 C1499.1,603.5 1494.5,606.1 1490.3,606.3 C1486.2,606.5 1481.7,606.7 1478.6,605.0 C1475.4,603.2 1472.5,600.2 1471.4,595.8 C1470.3,591.5 1471.5,584.9 1472.0,578.8 C1472.6,572.7 1474.0,564.7 1474.7,559.2 C1475.3,553.8 1474.4,548.7 1476.0,546.1 Z" fill="#ffe4c4"/>
<path d="M1482.5,563.1 C1484.0,560.9 1485.8,559.4 1490.3,558.6 C1494.9,557.7 1504.9,558.5 1510.0,557.9 C1515.0,557.4 1517.6,555.3 1520.4,555.3 C1523.2,555.3 1525.2,555.5 1527.0,557.9 C1528.7,560.3 1530.0,565.5 1530.9,569.7 C1531.7,573.8 1532.6,578.4 1532.2,582.8 C1531.7,587.1 1529.8,593.1 1528.3,595.8 C1526.7,598.6 1526.1,598.6 1523.0,599.1 C1520.0,599.6 1515.4,599.2 1510.0,599.1 C1504.5,599.0 1494.9,599.4 1490.3,598.4 C1485.8,597.5 1484.1,596.0 1482.5,593.2 C1480.9,590.4 1480.8,584.9 1480.5,581.4 C1480.3,578.0 1480.9,575.3 1481.2,572.3 C1481.5,569.2 1481.0,565.4 1482.5,563.1 Z" fill="#ffa500"/>
<path d="M1490.3,573.6 C1491.4,571.3 1493.8,570.0 1496.9,569.0 C1499.9,568.0 1504.9,567.8 1508.6,567.7 C1512.4,567.6 1516.7,567.6 1519.1,568.4 C1521.5,569.1 1522.2,570.1 1523.0,572.3 C1523.9,574.5 1524.6,578.8 1524.3,581.4 C1524.1,584.1 1523.5,586.3 1521.7,588.0 C1520.0,589.6 1516.7,590.6 1513.9,591.3 C1511.0,591.9 1507.8,592.2 1504.7,591.9 C1501.7,591.6 1498.0,590.8 1495.6,589.3 C1493.2,587.8 1491.2,585.4 1490.3,582.8 C1489.5,580.1 1489.3,575.9 1490.3,573.6 Z" fill="#ff4500"/>
<path d="M1483.8,662.5 C1485.3,661.8 1492.5,660.3 1496.9,659.9 C1501.2,659.5 1506.5,659.7 1510.0,659.9 C1513.4,660.1 1517.1,660.1 1517.8,661.2 C1518.5,662.3 1515.6,665.4 1513.9,666.4 C1512.1,667.4 1510.2,667.3 1507.3,667.1 C1504.5,666.9 1500.2,665.7 1496.9,665.1 C1493.6,664.6 1489.9,664.2 1487.7,663.8 C1485.6,663.4 1482.3,663.2 1483.8,662.5 Z" fill="#ffe4c4"/>
</g>
<g clip-path="url(#ca1)" fill="none" stroke="#000">
<path d="M904.4,759.5 C906.0,758.5 910.5,756.7 914.8,756.1 C919.1,755.5 924.8,755.7 930.3,756.1 C935.7,756.4 943.2,757.5 947.5,758.2 C951.8,758.8 956.1,759.1 956.1,759.9 C956.1,760.7 951.8,761.9 947.5,763.0 C943.2,764.1 934.6,765.7 930.3,766.4 C926.0,767.1 924.8,767.6 921.7,767.3 C918.5,767.0 914.1,765.6 911.3,764.7 C908.6,763.8 906.5,763.0 905.3,762.1 C904.2,761.3 902.9,760.5 904.4,759.5 Z" stroke-width="1.25"/>
<path d="M1322.4,639.3 C1322.4,637.9 1326.7,637.5 1328.8,636.1 C1330.9,634.7 1333.3,633.8 1335.2,631.0 C1337.1,628.2 1338.8,623.5 1340.3,619.5 C1341.8,615.5 1342.0,610.5 1344.1,606.7 C1346.2,602.9 1350.3,599.5 1353.1,596.5 C1355.9,593.5 1358.3,591.3 1360.7,588.9 C1363.1,586.5 1364.1,581.0 1367.5,582.1 C1370.9,583.2 1379.5,591.8 1381.2,595.8 C1382.9,599.8 1378.8,602.6 1377.9,606.3 C1377.0,610.0 1376.2,614.1 1376.0,618.0 C1375.8,621.9 1375.4,626.7 1376.6,629.8 C1377.8,632.9 1379.6,634.3 1383.1,636.4 C1386.6,638.5 1393.3,641.6 1397.5,642.2 C1401.7,642.9 1404.5,640.9 1408.0,640.3 C1411.5,639.6 1415.6,638.4 1418.4,638.3 C1421.2,638.2 1423.5,638.4 1425.0,639.6 C1426.5,640.8 1427.1,643.6 1427.6,645.5 C1428.1,647.4 1428.8,649.2 1428.2,650.7 C1427.6,652.2 1426.2,654.0 1423.7,654.7 C1421.2,655.4 1418.4,654.8 1413.2,654.7 C1408.0,654.6 1400.2,654.5 1392.3,654.0 C1384.4,653.5 1374.8,652.9 1366.1,652.0 C1357.4,651.1 1346.5,650.1 1340.3,648.8 C1334.1,647.5 1331.8,646.0 1328.8,644.4 C1325.8,642.8 1322.4,640.7 1322.4,639.3 Z" stroke-width="1.25"/>
<path d="M1260.0,585.0 L1262.5,586.3 L1267.6,592.1 L1268.9,596.5 L1265.7,598.4 L1261.9,595.3 L1260.6,590.2 Z" stroke-width="1.25"/>
<path d="M1413.2,584.1 L1415.2,584.7 L1419.7,594.5 L1420.4,599.7 L1417.1,598.4 L1412.6,595.8 L1411.9,589.3 Z" stroke-width="1.25"/>
<path d="M1490.3,573.6 C1491.4,571.3 1493.8,570.0 1496.9,569.0 C1499.9,568.0 1504.9,567.8 1508.6,567.7 C1512.4,567.6 1516.7,567.6 1519.1,568.4 C1521.5,569.1 1522.2,570.1 1523.0,572.3 C1523.9,574.5 1524.6,578.8 1524.3,581.4 C1524.1,584.1 1523.5,586.3 1521.7,588.0 C1520.0,589.6 1516.7,590.6 1513.9,591.3 C1511.0,591.9 1507.8,592.2 1504.7,591.9 C1501.7,591.6 1498.0,590.8 1495.6,589.3 C1493.2,587.8 1491.2,585.4 1490.3,582.8 C1489.5,580.1 1489.3,575.9 1490.3,573.6 Z" stroke-width="1.25"/>
<path d="M895.5,526.3 L895.9,529.8 L896.4,533.3 L896.8,536.8 L897.3,540.3 L897.8,543.8 L898.3,547.3 L898.8,550.8 L899.3,554.3 L899.9,557.8 L900.4,561.3 L901.0,564.8 L901.6,568.3 L902.2,571.9 L902.8,575.4 L903.5,578.9 L904.1,582.4 L904.8,585.9 L905.5,589.4 L906.2,592.9 L907.0,596.4 L907.7,599.9 L908.5,603.4 L909.3,606.9 L910.1,610.4 L911.0,613.9 L911.9,617.4 L912.7,620.9 L913.7,624.4 L914.6,627.9 L915.6,631.4 L916.6,634.9 L917.6,638.4 L918.7,641.9 L919.8,645.4 L920.9,648.9 L922.0,652.4 L923.2,655.9 L924.4,659.5 L925.7,663.0 L927.0,666.5 L928.3,670.0 L929.6,673.5 L931.0,677.0 L932.5,680.5 L933.9,684.0 L935.5,687.5 L937.0,691.0 L938.6,694.5 L940.3,698.0 L942.0,701.5 L943.7,705.0 L945.5,708.5 L947.3,712.0 L949.2,715.5 L951.2,719.0 L953.2,722.5 L955.2,726.0 L957.3,729.5 L959.5,733.0 L961.8,736.5 L964.1,740.0 L966.4,743.5 L968.8,747.1 L971.3,750.6 L973.9,754.1 L976.6,757.6 L979.3,761.1 L982.1,764.6 L984.9,768.1 L987.9,771.6 L990.9,775.1 L994.0,778.6 L997.2,782.1 L1000.5,785.6 L1003.9,789.1 L1007.4,792.6 L1011.0,796.1 L1014.7,799.6 L1018.5,803.1 L1022.3,806.6 L1026.3,810.1 L1030.5,813.6 L1034.7,817.1 L1039.0,820.6 L1043.5,824.1 L1048.1,827.6 L1052.8,831.1 L1057.7,834.7 L1062.7,838.2 L1067.8,841.7 L1073.1,845.2 L1078.5,848.7 L1084.1,852.2 L1089.9,855.7 L1095.8,859.2 L1101.8,862.7 L1108.1,866.2 L1114.5,869.7 L1121.1,873.2 L1127.8,876.7" stroke-width="1.25"/>
<path d="M1517.5,526.3 L1517.1,529.8 L1516.6,533.3 L1516.2,536.8 L1515.7,540.3 L1515.2,543.8 L1514.7,547.3 L1514.2,550.8 L1513.7,554.3 L1513.1,557.8 L1512.6,561.3 L1512.0,564.8 L1511.4,568.3 L1510.8,571.9 L1510.2,575.4 L1509.5,578.9 L1508.9,582.4 L1508.2,585.9 L1507.5,589.4 L1506.8,592.9 L1506.0,596.4 L1505.3,599.9 L1504.5,603.4 L1503.7,606.9 L1502.9,610.4 L1502.0,613.9 L1501.1,617.4 L1500.3,620.9 L1499.3,624.4 L1498.4,627.9 L1497.4,631.4 L1496.4,634.9 L1495.4,638.4 L1494.3,641.9 L1493.2,645.4 L1492.1,648.9 L1491.0,652.4 L1489.8,655.9 L1488.6,659.5 L1487.3,663.0 L1486.0,666.5 L1484.7,670.0 L1483.4,673.5 L1482.0,677.0 L1480.5,680.5 L1479.1,684.0 L1477.5,687.5 L1476.0,691.0 L1474.4,694.5 L1472.7,698.0 L1471.0,701.5 L1469.3,705.0 L1467.5,708.5 L1465.7,712.0 L1463.8,715.5 L1461.8,719.0 L1459.8,722.5 L1457.8,726.0 L1455.7,729.5 L1453.5,733.0 L1451.2,736.5 L1448.9,740.0 L1446.6,743.5 L1444.2,747.1 L1441.7,750.6 L1439.1,754.1 L1436.4,757.6 L1433.7,761.1 L1430.9,764.6 L1428.1,768.1 L1425.1,771.6 L1422.1,775.1 L1419.0,778.6 L1415.8,782.1 L1412.5,785.6 L1409.1,789.1 L1405.6,792.6 L1402.0,796.1 L1398.3,799.6 L1394.5,803.1 L1390.7,806.6 L1386.7,810.1 L1382.5,813.6 L1378.3,817.1 L1374.0,820.6 L1369.5,824.1 L1364.9,827.6 L1360.2,831.1 L1355.3,834.7 L1350.3,838.2 L1345.2,841.7 L1339.9,845.2 L1334.5,848.7 L1328.9,852.2 L1323.1,855.7 L1317.2,859.2 L1311.2,862.7 L1304.9,866.2 L1298.5,869.7 L1291.9,873.2 L1285.2,876.7" stroke-width="1.25"/>
</g>
<line x1="873.7" y1="876.7" x2="1539.2" y2="876.7" stroke="#111" stroke-width="1.1"/>
<line x1="873.7" y1="526.3" x2="873.7" y2="876.7" stroke="#111" stroke-width="1.1"/>
<line x1="1539.2" y1="526.3" x2="1539.2" y2="876.7" stroke="#111" stroke-width="1.1"/>
<line x1="873.7" y1="526.3" x2="1539.2" y2="526.3" stroke="#111" stroke-width="1.1"/>
<clipPath id="cf2"><rect x="873.7" y="1004.8" width="665.5" height="346.7"/></clipPath>
<clipPath id="ca2"><rect x="873.7" y="1001.1" width="665.5" height="350.4"/></clipPath>
<g clip-path="url(#cf2)">
<path d="M1189.5,1038.2 C1190.7,1034.2 1198.7,1028.5 1203.3,1026.2 C1207.9,1023.9 1211.9,1023.9 1217.1,1024.4 C1222.3,1025.0 1228.0,1027.5 1234.3,1029.6 C1240.6,1031.8 1249.2,1036.4 1255.0,1037.4 C1260.7,1038.4 1264.5,1037.8 1268.8,1035.6 C1273.1,1033.5 1276.8,1027.7 1280.8,1024.4 C1284.8,1021.1 1287.7,1017.6 1292.9,1015.8 C1298.0,1014.1 1306.6,1015.3 1311.8,1014.1 C1317.0,1013.0 1319.8,1010.5 1323.9,1008.9 C1327.9,1007.4 1329.8,1005.4 1335.9,1004.6 C1342.0,1003.9 1355.3,1002.8 1360.6,1004.6 C1365.9,1006.5 1364.9,1011.7 1367.5,1015.8 C1370.1,1020.0 1374.0,1025.6 1376.1,1029.6 C1378.3,1033.6 1379.8,1036.5 1380.4,1039.9 C1381.0,1043.4 1380.6,1047.4 1379.5,1050.3 C1378.5,1053.1 1377.8,1056.6 1374.4,1057.2 C1370.9,1057.7 1364.3,1054.3 1358.9,1053.7 C1353.4,1053.1 1347.4,1053.4 1341.7,1053.7 C1335.9,1054.0 1330.2,1054.7 1324.4,1055.4 C1318.7,1056.2 1311.8,1058.3 1307.2,1058.0 C1302.6,1057.7 1299.8,1055.6 1296.9,1053.7 C1294.0,1051.9 1292.1,1048.3 1290.0,1046.8 C1287.9,1045.4 1287.2,1043.1 1284.3,1045.1 C1281.3,1047.1 1274.5,1054.6 1272.2,1058.9 C1269.9,1063.2 1269.0,1067.5 1270.5,1070.9 C1271.9,1074.4 1276.2,1076.4 1280.8,1079.5 C1285.4,1082.7 1294.0,1086.1 1298.0,1089.9 C1302.1,1093.6 1304.9,1097.9 1304.9,1101.9 C1304.9,1106.0 1299.5,1110.0 1298.0,1114.0 C1296.6,1118.0 1294.9,1122.5 1296.3,1126.0 C1297.7,1129.6 1302.6,1133.9 1306.6,1135.5 C1310.7,1137.1 1316.4,1136.8 1320.4,1135.5 C1324.4,1134.2 1328.7,1131.9 1330.8,1127.8 C1332.8,1123.6 1332.5,1114.6 1332.5,1110.5 C1332.5,1106.5 1328.7,1106.0 1330.8,1103.7 C1332.8,1101.4 1339.4,1098.5 1344.5,1096.8 C1349.7,1095.0 1357.6,1093.3 1361.8,1093.3 C1365.9,1093.3 1366.8,1093.9 1369.2,1096.8 C1371.6,1099.6 1373.8,1106.0 1376.1,1110.5 C1378.4,1115.1 1380.4,1120.6 1383.0,1124.3 C1385.6,1128.1 1389.9,1129.2 1391.6,1132.9 C1393.3,1136.7 1391.6,1143.3 1393.3,1146.7 C1395.0,1150.2 1399.1,1152.2 1401.9,1153.6 C1404.8,1155.0 1407.1,1155.9 1410.5,1155.3 C1414.0,1154.7 1419.7,1152.4 1422.6,1150.2 C1425.5,1147.9 1426.9,1145.8 1427.8,1141.5 C1428.6,1137.2 1426.9,1128.9 1427.8,1124.3 C1428.6,1119.7 1430.1,1117.4 1432.9,1114.0 C1435.8,1110.5 1440.7,1106.0 1445.0,1103.7 C1449.3,1101.4 1454.5,1100.2 1458.8,1100.2 C1463.1,1100.2 1466.8,1101.9 1470.8,1103.7 C1474.8,1105.4 1478.6,1108.5 1482.9,1110.5 C1487.2,1112.6 1492.1,1114.0 1496.6,1115.7 C1501.2,1117.4 1507.0,1118.9 1510.4,1120.9 C1513.9,1122.9 1515.7,1123.7 1517.3,1127.8 C1518.9,1131.8 1519.9,1139.2 1519.9,1145.0 C1519.9,1150.7 1519.8,1156.5 1517.3,1162.2 C1514.9,1167.9 1508.7,1175.1 1505.3,1179.4 C1501.8,1183.7 1498.5,1184.3 1496.6,1188.0 C1494.8,1191.8 1493.5,1198.1 1494.1,1201.8 C1494.6,1205.5 1497.4,1207.6 1500.1,1210.4 C1502.8,1213.3 1505.3,1215.6 1510.4,1219.0 C1515.6,1222.5 1526.5,1227.9 1531.1,1231.1 C1535.7,1234.2 1536.8,1229.4 1538.0,1238.0 C1539.1,1246.6 1542.0,1275.3 1538.0,1282.8 C1534.0,1290.2 1526.5,1290.8 1513.9,1282.8 C1501.2,1274.7 1474.3,1244.9 1462.2,1234.5 C1450.2,1224.2 1445.8,1223.6 1441.5,1220.8 C1437.2,1217.9 1438.7,1218.5 1436.4,1217.3 C1434.1,1216.2 1432.1,1215.3 1427.8,1213.9 C1423.5,1212.4 1416.3,1209.7 1410.5,1208.7 C1404.8,1207.7 1401.9,1208.1 1393.3,1207.8 C1384.7,1207.6 1367.5,1207.7 1358.9,1207.0 C1350.3,1206.3 1346.0,1205.3 1341.7,1203.5 C1337.4,1201.8 1335.9,1200.1 1333.1,1196.6 C1330.2,1193.2 1328.7,1186.3 1324.4,1182.9 C1320.1,1179.4 1313.0,1178.3 1307.2,1176.0 C1301.5,1173.7 1295.8,1171.1 1290.0,1169.1 C1284.2,1167.1 1277.5,1166.2 1272.2,1163.9 C1266.9,1161.6 1262.7,1159.3 1258.4,1155.3 C1254.1,1151.3 1250.1,1144.7 1246.4,1139.8 C1242.6,1134.9 1236.9,1130.1 1236.0,1126.0 C1235.2,1122.0 1238.6,1118.9 1241.2,1115.7 C1243.8,1112.6 1248.4,1110.8 1251.5,1107.1 C1254.7,1103.4 1258.4,1097.9 1260.2,1093.3 C1261.9,1088.7 1263.3,1084.4 1261.9,1079.5 C1260.4,1074.7 1255.6,1068.4 1251.5,1064.0 C1247.5,1059.7 1245.2,1055.7 1237.8,1053.7 C1230.3,1051.7 1213.7,1052.6 1206.8,1052.0 C1199.9,1051.4 1199.3,1052.6 1196.4,1050.3 C1193.6,1048.0 1188.4,1042.2 1189.5,1038.2 Z" fill="#ffe4c4"/>
<path d="M898.3,1289.9 C898.0,1285.9 898.7,1282.4 902.3,1278.7 C905.9,1275.0 911.7,1271.1 919.9,1267.5 C928.1,1263.9 941.1,1259.3 951.7,1257.2 C962.3,1255.1 973.0,1254.8 983.6,1254.8 C994.2,1254.8 1006.2,1255.9 1015.5,1257.2 C1024.8,1258.5 1033.4,1261.0 1039.4,1262.8 C1045.4,1264.6 1052.2,1265.6 1051.4,1268.3 C1050.6,1271.0 1037.6,1275.1 1034.7,1278.7 C1031.8,1282.3 1030.5,1287.2 1033.9,1289.9 C1037.4,1292.6 1046.5,1293.4 1055.4,1294.6 C1064.3,1295.8 1074.9,1296.5 1087.3,1297.0 C1099.7,1297.5 1119.3,1298.5 1130.0,1297.8 C1140.7,1297.1 1141.7,1294.7 1151.7,1293.1 C1161.6,1291.4 1183.2,1290.2 1189.5,1287.9 C1195.9,1285.6 1191.6,1282.2 1189.5,1279.3 C1187.5,1276.4 1182.4,1273.6 1177.5,1270.7 C1172.6,1267.8 1165.4,1264.5 1160.3,1262.1 C1155.1,1259.6 1147.4,1258.1 1146.5,1256.1 C1145.6,1254.0 1148.5,1251.3 1155.1,1250.0 C1161.7,1248.7 1175.2,1248.3 1186.1,1248.3 C1197.0,1248.3 1209.1,1249.7 1220.5,1250.0 C1232.0,1250.3 1243.5,1250.6 1255.0,1250.0 C1266.5,1249.5 1277.9,1248.0 1289.4,1246.6 C1300.9,1245.2 1310.4,1242.6 1323.9,1241.4 C1337.3,1240.3 1358.4,1240.3 1370.0,1239.7 C1381.6,1239.1 1383.7,1238.8 1393.3,1238.0 C1402.9,1237.1 1420.0,1236.3 1427.8,1234.5 C1435.5,1232.8 1434.1,1228.2 1439.8,1227.6 C1445.6,1227.1 1452.7,1229.9 1462.2,1231.1 C1471.7,1232.2 1484.0,1233.4 1496.6,1234.5 C1509.3,1235.7 1531.1,1224.2 1538.0,1238.0 C1544.9,1251.8 1539.1,1302.6 1538.0,1317.2 C1536.8,1331.8 1538.0,1323.2 1531.1,1325.8 C1524.2,1328.4 1508.1,1330.7 1496.6,1332.7 C1485.2,1334.7 1473.7,1336.1 1462.2,1337.9 C1450.7,1339.6 1439.2,1341.6 1427.8,1343.0 C1416.3,1344.5 1404.8,1345.3 1393.3,1346.5 C1381.8,1347.6 1370.4,1348.8 1358.9,1349.9 C1347.4,1351.1 1363.0,1352.8 1324.4,1353.4 C1285.9,1353.9 1160.0,1354.6 1127.6,1353.4 C1095.1,1352.1 1134.1,1348.0 1130.0,1345.7 C1125.9,1343.4 1113.0,1341.4 1103.2,1339.3 C1093.4,1337.2 1081.9,1334.8 1071.3,1332.9 C1060.7,1331.0 1050.0,1329.4 1039.4,1328.1 C1028.8,1326.8 1020.9,1326.4 1007.6,1324.9 C994.3,1323.4 973.0,1320.8 959.7,1318.9 C946.4,1317.1 937.1,1316.5 927.8,1313.8 C918.5,1311.1 908.8,1306.6 903.9,1302.6 C899.0,1298.6 898.6,1293.9 898.3,1289.9 Z" fill="#ffe4c4"/>
<path d="M1289.4,1289.6 C1289.4,1287.2 1299.5,1283.3 1306.6,1281.0 C1313.8,1278.7 1321.9,1277.0 1332.5,1275.9 C1343.0,1274.8 1359.9,1274.3 1370.0,1274.5 C1380.2,1274.6 1385.1,1275.3 1393.3,1276.7 C1401.5,1278.1 1410.8,1280.6 1419.2,1282.8 C1427.5,1284.9 1441.8,1287.6 1443.3,1289.6 C1444.7,1291.6 1436.1,1293.4 1427.8,1294.8 C1419.4,1296.2 1402.9,1297.5 1393.3,1298.2 C1383.7,1299.0 1378.7,1299.0 1370.0,1299.1 C1361.3,1299.3 1351.7,1299.7 1341.1,1299.1 C1330.5,1298.5 1315.3,1297.2 1306.6,1295.7 C1298.0,1294.1 1289.4,1292.1 1289.4,1289.6 Z" fill="#ffffff"/>
<path d="M876.0,1039.9 C877.2,1034.5 879.6,1029.5 882.1,1026.2 C884.5,1022.9 888.4,1020.7 890.7,1020.1 C893.0,1019.6 893.5,1017.7 895.8,1022.7 C898.1,1027.7 902.0,1042.2 904.4,1050.3 C906.9,1058.3 910.5,1065.2 910.5,1070.9 C910.5,1076.7 906.6,1081.0 904.4,1084.7 C902.3,1088.4 899.6,1089.0 897.6,1093.3 C895.5,1097.6 893.0,1106.8 892.4,1110.5 C891.8,1114.3 892.1,1114.0 894.1,1115.7 C896.1,1117.4 899.8,1118.9 904.4,1120.9 C909.0,1122.9 914.5,1126.6 921.7,1127.8 C928.8,1128.9 939.5,1127.8 947.5,1127.8 C955.5,1127.8 964.4,1126.9 969.9,1127.8 C975.3,1128.6 977.6,1130.9 980.2,1132.9 C982.8,1134.9 984.2,1136.4 985.4,1139.8 C986.5,1143.3 986.2,1149.9 987.1,1153.6 C988.0,1157.3 987.7,1159.3 990.5,1162.2 C993.4,1165.1 1000.0,1167.9 1004.3,1170.8 C1008.6,1173.7 1013.5,1174.3 1016.4,1179.4 C1019.2,1184.6 1021.5,1196.4 1021.5,1201.8 C1021.5,1207.3 1019.8,1209.6 1016.4,1212.1 C1012.9,1214.7 1006.9,1215.9 1000.9,1217.3 C994.8,1218.7 986.5,1220.8 980.2,1220.8 C973.9,1220.8 969.0,1219.0 963.0,1217.3 C957.0,1215.6 950.9,1213.0 944.0,1210.4 C937.2,1207.8 928.8,1205.5 921.7,1201.8 C914.5,1198.1 906.2,1193.2 901.0,1188.0 C895.8,1182.9 893.2,1178.0 890.7,1170.8 C888.1,1163.6 886.6,1152.7 885.5,1145.0 C884.4,1137.2 884.1,1129.2 883.8,1124.3 C883.5,1119.4 884.6,1118.3 883.8,1115.7 C882.9,1113.1 880.1,1112.6 878.6,1108.8 C877.1,1105.1 875.5,1101.6 874.8,1093.3 C874.2,1085.0 874.6,1067.8 874.8,1058.9 C875.0,1050.0 874.8,1045.4 876.0,1039.9 Z" fill="#ffe4c4"/>
<path d="M928.6,1004.6 C938.5,1002.8 977.3,1002.5 988.0,1004.6 C998.6,1006.8 992.1,1013.4 992.3,1017.6 C992.4,1021.7 990.8,1025.6 988.8,1029.6 C986.8,1033.6 982.8,1037.4 980.2,1041.7 C977.6,1046.0 975.0,1051.7 973.3,1055.4 C971.6,1059.2 971.6,1061.8 969.9,1064.0 C968.2,1066.3 965.6,1069.2 963.0,1069.2 C960.4,1069.2 957.0,1066.6 954.4,1064.0 C951.8,1061.5 949.5,1058.0 947.5,1053.7 C945.5,1049.4 944.6,1043.1 942.3,1038.2 C940.0,1033.3 936.0,1028.2 933.7,1024.4 C931.4,1020.7 929.4,1019.1 928.6,1015.8 C927.7,1012.5 918.6,1006.5 928.6,1004.6 Z" fill="#ffe4c4"/>
<path d="M1068.9,1015.8 C1069.2,1013.0 1073.3,1011.4 1076.6,1009.8 C1079.9,1008.2 1084.7,1006.9 1088.7,1006.4 C1092.7,1005.8 1097.2,1004.8 1100.8,1006.4 C1104.3,1007.9 1109.4,1013.1 1110.2,1015.8 C1111.1,1018.6 1108.4,1021.0 1105.9,1022.7 C1103.5,1024.4 1099.3,1025.1 1095.6,1026.2 C1091.9,1027.3 1087.0,1029.1 1083.5,1029.3 C1080.1,1029.4 1077.4,1029.3 1074.9,1027.0 C1072.5,1024.8 1068.6,1018.7 1068.9,1015.8 Z" fill="#ffe4c4"/>
<path d="M1163.7,1095.0 C1165.4,1093.0 1168.9,1093.6 1172.3,1095.0 C1175.8,1096.5 1180.8,1100.5 1184.4,1103.7 C1188.0,1106.8 1194.1,1110.3 1193.9,1114.0 C1193.6,1117.7 1186.2,1122.9 1182.7,1126.0 C1179.1,1129.2 1175.5,1130.9 1172.3,1132.9 C1169.2,1134.9 1165.7,1139.2 1163.7,1138.1 C1161.7,1136.9 1160.6,1131.2 1160.3,1126.0 C1160.0,1120.9 1161.4,1112.3 1162.0,1107.1 C1162.6,1101.9 1162.0,1097.1 1163.7,1095.0 Z" fill="#ffe4c4"/>
<path d="M1125.8,1179.4 C1127.4,1176.6 1130.4,1173.1 1134.4,1170.8 C1138.5,1168.5 1145.9,1166.5 1149.9,1165.7 C1154.0,1164.8 1156.0,1164.8 1158.6,1165.7 C1161.1,1166.5 1164.1,1166.5 1165.4,1170.8 C1166.7,1175.1 1165.2,1185.7 1166.3,1191.5 C1167.4,1197.2 1170.7,1201.5 1172.3,1205.3 C1173.9,1209.0 1175.8,1210.7 1175.8,1213.9 C1175.8,1217.0 1174.3,1221.3 1172.3,1224.2 C1170.3,1227.1 1167.2,1229.2 1163.7,1231.1 C1160.3,1233.0 1155.7,1234.8 1151.7,1235.4 C1147.6,1236.0 1144.8,1235.8 1139.6,1234.5 C1134.4,1233.2 1125.5,1230.2 1120.7,1227.6 C1115.8,1225.1 1113.3,1221.3 1110.3,1219.0 C1107.3,1216.7 1102.3,1216.2 1102.6,1213.9 C1102.9,1211.6 1109.0,1208.1 1112.1,1205.3 C1115.1,1202.4 1118.5,1199.5 1120.7,1196.6 C1122.8,1193.8 1124.1,1190.9 1125.0,1188.0 C1125.8,1185.2 1124.3,1182.3 1125.8,1179.4 Z" fill="#ffe4c4"/>
<path d="M1429.5,1015.8 C1430.1,1012.2 1426.3,1006.5 1434.7,1004.6 C1443.0,1002.8 1470.5,1002.8 1479.4,1004.6 C1488.3,1006.5 1484.3,1011.4 1488.0,1015.8 C1491.8,1020.3 1497.5,1027.3 1501.8,1031.3 C1506.1,1035.3 1509.6,1037.4 1513.9,1039.9 C1518.2,1042.5 1524.3,1044.0 1527.6,1046.8 C1530.9,1049.7 1532.8,1053.1 1533.7,1057.2 C1534.5,1061.2 1533.8,1067.9 1532.8,1070.9 C1531.8,1074.0 1530.2,1075.0 1527.6,1075.2 C1525.1,1075.5 1521.0,1074.2 1517.3,1072.7 C1513.6,1071.1 1510.1,1068.1 1505.3,1065.8 C1500.4,1063.5 1493.8,1060.9 1488.0,1058.9 C1482.3,1056.9 1476.6,1056.0 1470.8,1053.7 C1465.1,1051.4 1458.8,1048.0 1453.6,1045.1 C1448.4,1042.2 1443.6,1039.7 1439.8,1036.5 C1436.1,1033.3 1432.9,1029.6 1431.2,1026.2 C1429.5,1022.7 1428.9,1019.4 1429.5,1015.8 Z" fill="#ffe4c4"/>
<path d="M939.7,1012.4 C940.0,1009.1 935.6,1005.9 942.3,1004.6 C949.1,1003.3 973.6,1001.9 980.2,1004.6 C986.8,1007.4 982.5,1015.4 981.9,1021.0 C981.4,1026.6 979.1,1033.6 976.8,1038.2 C974.5,1042.8 970.7,1046.1 968.2,1048.6 C965.6,1051.0 963.6,1052.9 961.3,1052.9 C959.0,1052.9 957.0,1051.3 954.4,1048.6 C951.8,1045.8 948.1,1040.5 945.8,1036.5 C943.5,1032.5 941.6,1028.5 940.6,1024.4 C939.6,1020.4 939.5,1015.7 939.7,1012.4 Z" fill="#ffa500"/>
<path d="M905.3,1145.0 C906.6,1141.3 908.9,1141.0 913.1,1139.8 C917.2,1138.7 924.5,1138.4 930.3,1138.1 C936.0,1137.8 942.3,1137.5 947.5,1138.1 C952.7,1138.7 957.3,1139.8 961.3,1141.5 C965.3,1143.3 969.3,1145.6 971.6,1148.4 C973.9,1151.3 973.3,1155.0 975.0,1158.8 C976.8,1162.5 979.1,1167.4 981.9,1170.8 C984.8,1174.3 990.5,1176.0 992.3,1179.4 C994.0,1182.9 993.7,1188.3 992.3,1191.5 C990.8,1194.6 988.0,1197.1 983.7,1198.4 C979.4,1199.7 972.5,1199.8 966.4,1199.2 C960.4,1198.7 954.1,1197.4 947.5,1194.9 C940.9,1192.5 932.9,1188.0 926.8,1184.6 C920.8,1181.1 914.9,1178.0 911.3,1174.3 C907.7,1170.5 906.3,1167.1 905.3,1162.2 C904.3,1157.3 904.0,1148.7 905.3,1145.0 Z" fill="#ffa500"/>
<path d="M882.1,1064.0 C882.6,1061.2 884.1,1057.2 885.5,1055.4 C886.9,1053.7 889.1,1052.6 890.7,1053.7 C892.2,1054.9 894.2,1059.5 895.0,1062.3 C895.8,1065.2 896.2,1068.2 895.5,1070.9 C894.8,1073.7 892.3,1077.4 890.7,1078.7 C889.0,1080.0 886.9,1079.7 885.5,1078.7 C884.1,1077.7 882.6,1075.1 882.1,1072.7 C881.5,1070.2 881.5,1066.9 882.1,1064.0 Z" fill="#ffa500"/>
<path d="M1298.0,1034.8 C1298.0,1031.8 1300.6,1029.0 1304.9,1027.0 C1309.2,1025.0 1317.8,1024.9 1323.9,1022.7 C1329.9,1020.6 1337.8,1015.8 1341.1,1014.1 C1344.3,1012.4 1341.3,1012.4 1343.4,1012.4 C1345.5,1012.4 1350.8,1012.7 1353.7,1014.1 C1356.6,1015.5 1358.6,1017.8 1360.6,1021.0 C1362.6,1024.2 1364.9,1029.9 1365.8,1033.1 C1366.6,1036.2 1366.9,1038.2 1365.8,1039.9 C1364.6,1041.7 1362.9,1042.5 1358.9,1043.4 C1354.9,1044.2 1347.4,1044.8 1341.7,1045.1 C1335.9,1045.4 1328.8,1044.8 1324.4,1045.1 C1320.0,1045.4 1318.5,1046.8 1315.3,1046.8 C1312.0,1046.8 1307.8,1047.1 1304.9,1045.1 C1302.1,1043.1 1298.0,1037.8 1298.0,1034.8 Z" fill="#ffa500"/>
<path d="M1447.6,1015.8 C1448.4,1013.7 1452.0,1012.4 1455.3,1011.5 C1458.6,1010.7 1463.9,1009.9 1467.4,1010.7 C1470.8,1011.4 1473.4,1013.5 1476.0,1015.8 C1478.6,1018.1 1480.6,1021.6 1482.9,1024.4 C1485.2,1027.3 1487.9,1030.5 1489.8,1033.1 C1491.6,1035.6 1493.8,1038.1 1494.1,1039.9 C1494.4,1041.8 1493.3,1043.7 1491.5,1044.2 C1489.6,1044.8 1486.3,1044.4 1482.9,1043.4 C1479.4,1042.4 1474.8,1040.2 1470.8,1038.2 C1466.8,1036.2 1462.2,1033.6 1458.8,1031.3 C1455.3,1029.0 1452.0,1027.0 1450.2,1024.4 C1448.3,1021.9 1446.7,1018.0 1447.6,1015.8 Z" fill="#ffa500"/>
<path d="M1258.4,1124.3 C1257.9,1119.4 1262.4,1114.6 1265.3,1110.5 C1268.2,1106.5 1272.5,1101.4 1275.7,1100.2 C1278.8,1099.1 1282.7,1101.9 1284.3,1103.7 C1285.8,1105.4 1285.4,1106.5 1285.1,1110.5 C1284.8,1114.6 1283.0,1123.2 1282.5,1127.8 C1282.1,1132.4 1280.8,1135.5 1282.5,1138.1 C1284.3,1140.7 1287.4,1142.4 1292.9,1143.3 C1298.3,1144.1 1308.7,1144.7 1315.3,1143.3 C1321.9,1141.8 1327.6,1138.1 1332.5,1134.7 C1337.4,1131.2 1341.7,1126.0 1344.5,1122.6 C1347.4,1119.2 1347.7,1115.7 1349.7,1114.0 C1351.7,1112.3 1354.2,1111.7 1356.6,1112.3 C1359.0,1112.8 1361.4,1114.8 1364.0,1117.4 C1366.7,1120.0 1370.1,1124.0 1372.7,1127.8 C1375.2,1131.5 1377.5,1136.1 1379.5,1139.8 C1381.6,1143.6 1381.8,1147.1 1384.7,1150.2 C1387.6,1153.2 1392.5,1156.3 1396.8,1157.9 C1401.1,1159.5 1406.0,1159.6 1410.5,1159.6 C1415.1,1159.6 1420.6,1159.2 1424.3,1157.9 C1428.1,1156.6 1430.6,1154.6 1432.9,1151.9 C1435.2,1149.1 1436.9,1145.6 1438.1,1141.5 C1439.2,1137.5 1438.7,1131.2 1439.8,1127.8 C1441.0,1124.3 1442.4,1122.9 1445.0,1120.9 C1447.6,1118.9 1451.0,1116.9 1455.3,1115.7 C1459.6,1114.6 1465.4,1113.4 1470.8,1114.0 C1476.3,1114.6 1482.9,1116.3 1488.0,1119.2 C1493.2,1122.0 1498.9,1126.9 1501.8,1131.2 C1504.7,1135.5 1505.0,1139.8 1505.3,1145.0 C1505.5,1150.2 1505.0,1157.9 1503.5,1162.2 C1502.1,1166.5 1499.2,1167.9 1496.6,1170.8 C1494.1,1173.7 1490.9,1176.3 1488.0,1179.4 C1485.2,1182.6 1482.3,1186.3 1479.4,1189.8 C1476.6,1193.2 1473.7,1197.5 1470.8,1200.1 C1467.9,1202.7 1466.5,1204.7 1462.2,1205.3 C1457.9,1205.8 1450.7,1204.4 1445.0,1203.5 C1439.2,1202.7 1436.4,1201.0 1427.8,1200.1 C1419.2,1199.2 1403.4,1198.9 1393.3,1198.4 C1383.3,1197.8 1375.2,1197.5 1367.5,1196.6 C1359.7,1195.8 1352.6,1194.9 1346.8,1193.2 C1341.1,1191.5 1336.8,1188.6 1333.1,1186.3 C1329.3,1184.0 1323.1,1179.4 1324.4,1179.4 C1325.8,1179.4 1341.2,1186.9 1341.1,1186.3 C1341.0,1185.7 1329.6,1178.9 1323.9,1176.0 C1318.1,1173.1 1312.4,1171.7 1306.6,1169.1 C1300.9,1166.5 1293.7,1163.1 1289.4,1160.5 C1285.1,1157.9 1284.3,1157.0 1280.8,1153.6 C1277.4,1150.2 1272.5,1144.7 1268.8,1139.8 C1265.0,1134.9 1259.0,1129.2 1258.4,1124.3 Z" fill="#ffa500"/>
<path d="M1374.4,1256.9 C1374.4,1255.3 1384.4,1253.5 1393.3,1251.8 C1402.2,1250.0 1416.3,1248.3 1427.8,1246.6 C1439.2,1244.9 1453.6,1242.6 1462.2,1241.4 C1470.8,1240.3 1473.7,1239.4 1479.4,1239.7 C1485.2,1240.0 1491.5,1241.1 1496.6,1243.1 C1501.8,1245.2 1507.1,1249.2 1510.4,1251.8 C1513.7,1254.3 1515.9,1255.8 1516.5,1258.6 C1517.0,1261.5 1517.2,1266.4 1513.9,1269.0 C1510.6,1271.6 1503.8,1273.3 1496.6,1274.1 C1489.5,1275.0 1479.4,1274.7 1470.8,1274.1 C1462.2,1273.6 1453.6,1272.1 1445.0,1270.7 C1436.4,1269.3 1427.8,1267.1 1419.2,1265.5 C1410.5,1264.0 1400.8,1262.7 1393.3,1261.2 C1385.9,1259.8 1374.4,1258.5 1374.4,1256.9 Z" fill="#ffa500"/>
<path d="M1081.7,1312.2 C1084.4,1311.1 1095.2,1309.8 1103.2,1309.0 C1111.2,1308.2 1124.8,1308.0 1130.0,1307.4 C1135.2,1306.8 1128.0,1306.1 1134.4,1305.1 C1140.9,1304.2 1157.4,1302.6 1168.9,1301.7 C1180.4,1300.8 1189.0,1300.3 1203.3,1300.0 C1217.7,1299.7 1237.8,1299.7 1255.0,1300.0 C1272.2,1300.3 1292.3,1300.8 1306.6,1301.7 C1321.0,1302.6 1330.5,1304.3 1341.1,1305.1 C1351.7,1306.0 1369.9,1306.3 1370.0,1306.9 C1370.1,1307.4 1340.6,1308.2 1341.7,1308.6 C1342.7,1309.0 1364.6,1308.9 1376.1,1309.4 C1387.6,1310.0 1401.9,1311.0 1410.5,1312.0 C1419.2,1313.0 1422.9,1313.7 1427.8,1315.5 C1432.6,1317.2 1442.7,1320.3 1439.8,1322.4 C1436.9,1324.4 1421.2,1325.8 1410.5,1327.5 C1399.9,1329.2 1387.6,1331.0 1376.1,1332.7 C1364.6,1334.4 1353.1,1336.4 1341.7,1337.9 C1330.2,1339.3 1321.7,1340.2 1307.2,1341.3 C1292.8,1342.4 1269.4,1344.5 1255.0,1344.7 C1240.5,1345.0 1232.0,1343.6 1220.5,1343.0 C1209.1,1342.4 1197.6,1342.4 1186.1,1341.3 C1174.6,1340.2 1161.0,1338.2 1151.7,1336.1 C1142.3,1334.1 1138.1,1331.0 1130.0,1328.9 C1121.9,1326.8 1110.3,1325.5 1103.2,1323.3 C1096.1,1321.0 1090.9,1317.2 1087.3,1315.4 C1083.7,1313.6 1079.0,1313.3 1081.7,1312.2 Z" fill="#ffa500"/>
<path d="M944.0,1017.6 C944.6,1014.3 943.5,1006.8 948.4,1004.6 C953.2,1002.5 968.3,1002.5 973.3,1004.6 C978.3,1006.8 977.9,1013.4 978.5,1017.6 C979.1,1021.7 978.2,1025.6 976.8,1029.6 C975.3,1033.6 972.3,1038.9 969.9,1041.7 C967.4,1044.4 964.4,1045.7 962.1,1046.0 C959.8,1046.3 958.3,1045.2 956.1,1043.4 C954.0,1041.5 951.1,1037.9 949.2,1034.8 C947.3,1031.6 945.8,1027.3 944.9,1024.4 C944.0,1021.6 943.5,1020.9 944.0,1017.6 Z" fill="#ff4500"/>
<path d="M921.7,1157.9 C922.5,1155.2 926.8,1151.1 930.3,1149.3 C933.7,1147.5 938.3,1146.8 942.3,1147.1 C946.3,1147.3 951.2,1148.8 954.4,1151.0 C957.5,1153.3 959.5,1157.5 961.3,1160.5 C963.0,1163.5 964.0,1165.9 964.7,1169.1 C965.4,1172.3 967.0,1177.3 965.6,1179.4 C964.1,1181.6 959.7,1182.3 956.1,1182.0 C952.5,1181.7 948.1,1179.3 944.0,1177.7 C940.0,1176.1 935.2,1174.5 932.0,1172.5 C928.8,1170.5 926.8,1168.1 925.1,1165.7 C923.4,1163.2 920.8,1160.6 921.7,1157.9 Z" fill="#ff4500"/>
<path d="M1332.5,1029.6 C1333.6,1028.0 1338.2,1025.2 1341.1,1024.4 C1344.0,1023.7 1347.7,1024.4 1349.7,1025.3 C1351.7,1026.2 1354.0,1028.0 1353.1,1029.6 C1352.3,1031.2 1346.8,1033.6 1344.5,1034.8 C1342.2,1035.9 1341.1,1036.6 1339.4,1036.5 C1337.6,1036.4 1335.3,1035.1 1334.2,1033.9 C1333.1,1032.8 1331.3,1031.2 1332.5,1029.6 Z" fill="#ff4500"/>
<path d="M1316.1,1158.8 C1315.7,1155.0 1319.4,1150.6 1322.1,1148.4 C1324.9,1146.3 1327.9,1147.6 1332.5,1145.8 C1337.1,1144.1 1345.4,1139.7 1349.7,1138.1 C1354.0,1136.5 1355.9,1136.4 1358.3,1136.4 C1360.7,1136.4 1361.7,1136.1 1364.0,1138.1 C1366.4,1140.1 1369.8,1145.3 1372.7,1148.4 C1375.5,1151.6 1377.8,1154.7 1381.3,1157.0 C1384.7,1159.3 1388.4,1161.1 1393.3,1162.2 C1398.2,1163.4 1404.8,1163.9 1410.5,1163.9 C1416.3,1163.9 1422.9,1163.6 1427.8,1162.2 C1432.6,1160.8 1436.8,1158.2 1439.8,1155.3 C1442.8,1152.4 1444.7,1147.9 1445.8,1145.0 C1447.0,1142.1 1445.4,1141.0 1446.7,1138.1 C1448.0,1135.2 1450.4,1130.2 1453.6,1127.8 C1456.8,1125.3 1461.3,1123.7 1465.7,1123.5 C1470.0,1123.2 1475.7,1124.5 1479.4,1126.0 C1483.2,1127.6 1485.9,1129.8 1488.0,1132.9 C1490.2,1136.1 1492.1,1141.3 1492.3,1145.0 C1492.6,1148.7 1491.9,1151.3 1489.8,1155.3 C1487.6,1159.3 1482.6,1165.1 1479.4,1169.1 C1476.3,1173.1 1473.7,1176.0 1470.8,1179.4 C1467.9,1182.9 1466.5,1187.2 1462.2,1189.8 C1457.9,1192.3 1450.7,1193.9 1445.0,1194.9 C1439.2,1195.9 1434.9,1195.9 1427.8,1195.8 C1420.6,1195.6 1410.5,1194.8 1401.9,1194.1 C1393.3,1193.3 1383.3,1192.5 1376.1,1191.5 C1368.9,1190.5 1364.6,1189.8 1358.9,1188.0 C1353.1,1186.3 1347.4,1184.0 1341.7,1181.1 C1335.9,1178.3 1328.7,1174.5 1324.4,1170.8 C1320.2,1167.1 1316.5,1162.5 1316.1,1158.8 Z" fill="#ff4500"/>
<path d="M1172.3,1323.2 C1172.3,1321.4 1179.5,1318.8 1186.1,1317.2 C1192.7,1315.6 1200.5,1314.6 1211.9,1313.7 C1223.4,1312.9 1242.1,1312.0 1255.0,1312.0 C1267.9,1312.0 1277.9,1312.9 1289.4,1313.7 C1300.9,1314.6 1312.4,1315.6 1323.9,1317.2 C1335.3,1318.8 1355.4,1321.5 1358.3,1323.2 C1361.2,1324.9 1349.7,1325.9 1341.1,1327.5 C1332.5,1329.1 1319.6,1331.5 1306.6,1332.7 C1293.7,1333.8 1277.9,1334.4 1263.6,1334.4 C1249.2,1334.4 1233.5,1333.7 1220.5,1332.7 C1207.6,1331.7 1194.1,1330.0 1186.1,1328.4 C1178.1,1326.8 1172.3,1325.1 1172.3,1323.2 Z" fill="#ff4500"/>
<path d="M950.9,1015.8 C951.7,1012.8 953.5,1009.4 956.1,1008.1 C958.7,1006.8 963.9,1006.8 966.4,1008.1 C969.0,1009.4 970.7,1013.1 971.6,1015.8 C972.5,1018.6 972.2,1021.6 971.6,1024.4 C971.0,1027.3 969.9,1030.9 968.2,1033.1 C966.4,1035.2 963.3,1037.1 961.3,1037.4 C959.3,1037.6 957.7,1036.6 956.1,1034.8 C954.5,1032.9 952.7,1029.3 951.8,1026.2 C950.9,1023.0 950.2,1018.8 950.9,1015.8 Z" fill="#ff0000"/>
<path d="M1333.1,1159.6 C1333.6,1156.5 1341.4,1152.0 1345.1,1150.2 C1348.8,1148.3 1351.7,1147.6 1355.4,1148.4 C1359.2,1149.3 1363.2,1152.7 1367.5,1155.3 C1371.8,1157.9 1376.4,1161.9 1381.3,1163.9 C1386.1,1165.9 1390.5,1166.8 1396.8,1167.4 C1403.1,1167.9 1412.6,1167.9 1419.2,1167.4 C1425.8,1166.8 1431.5,1165.9 1436.4,1163.9 C1441.3,1161.9 1445.3,1159.0 1448.4,1155.3 C1451.6,1151.6 1453.0,1145.0 1455.3,1141.5 C1457.6,1138.1 1459.3,1135.9 1462.2,1134.7 C1465.1,1133.4 1469.4,1132.9 1472.5,1133.8 C1475.7,1134.7 1479.4,1137.4 1481.1,1139.8 C1482.9,1142.3 1483.7,1144.7 1482.9,1148.4 C1482.0,1152.2 1478.6,1158.2 1476.0,1162.2 C1473.4,1166.2 1470.8,1169.1 1467.4,1172.5 C1463.9,1176.0 1460.5,1180.3 1455.3,1182.9 C1450.2,1185.5 1443.8,1187.2 1436.4,1188.0 C1428.9,1188.9 1419.2,1188.5 1410.5,1188.0 C1401.9,1187.6 1393.3,1186.9 1384.7,1185.5 C1376.1,1184.0 1366.1,1182.2 1358.9,1179.4 C1351.7,1176.7 1346.0,1172.4 1341.7,1169.1 C1337.4,1165.8 1332.5,1162.8 1333.1,1159.6 Z" fill="#ff0000"/>
<path d="M957.0,1024.4 C957.5,1023.6 959.9,1022.2 961.3,1022.4 C962.6,1022.5 964.8,1024.5 965.1,1025.3 C965.3,1026.1 964.1,1027.1 963.0,1027.4 C961.8,1027.7 959.2,1027.7 958.2,1027.2 C957.2,1026.7 956.4,1025.2 957.0,1024.4 Z" fill="#8b0000"/>
<path d="M1389.9,1180.3 C1389.9,1179.6 1397.1,1178.6 1401.9,1177.7 C1406.8,1176.8 1413.4,1175.6 1419.2,1175.1 C1424.9,1174.7 1432.4,1174.5 1436.4,1175.1 C1440.4,1175.7 1443.3,1177.4 1443.3,1178.6 C1443.3,1179.7 1440.4,1181.3 1436.4,1182.0 C1432.4,1182.7 1424.9,1182.9 1419.2,1182.9 C1413.4,1182.9 1406.8,1182.4 1401.9,1182.0 C1397.1,1181.6 1389.9,1181.0 1389.9,1180.3 Z" fill="#8b0000"/>
</g>
<g clip-path="url(#ca2)" fill="none" stroke="#000">
<path d="M949.2,1004.6 C948.4,1006.8 944.6,1014.3 944.0,1017.6 C943.5,1020.9 944.6,1021.6 945.8,1024.4 C946.9,1027.3 948.6,1031.3 950.9,1034.8 C953.2,1038.2 957.3,1043.2 959.5,1045.1 C961.8,1047.0 962.7,1046.8 964.7,1046.0 C966.7,1045.1 969.4,1043.0 971.6,1039.9 C973.8,1036.9 976.5,1031.6 977.6,1027.9 C978.8,1024.2 979.6,1021.4 978.5,1017.6 C977.3,1013.7 972.0,1006.8 970.7,1004.6" stroke-width="1.25"/>
<path d="M922.5,1157.9 C923.4,1155.5 927.0,1151.1 930.3,1149.3 C933.6,1147.5 938.3,1146.8 942.3,1147.1 C946.3,1147.3 951.4,1148.8 954.4,1151.0 C957.4,1153.3 959.0,1157.5 960.4,1160.5 C961.8,1163.5 963.1,1166.4 963.0,1169.1 C962.8,1171.8 961.3,1175.3 959.5,1176.8 C957.8,1178.4 955.5,1178.9 952.7,1178.6 C949.8,1178.3 945.8,1176.4 942.3,1175.1 C938.9,1173.8 934.9,1172.7 932.0,1170.8 C929.1,1169.0 926.7,1166.1 925.1,1163.9 C923.5,1161.8 921.7,1160.3 922.5,1157.9 Z" stroke-width="1.25"/>
<path d="M1324.7,1029.6 C1325.4,1027.5 1326.3,1026.0 1329.0,1024.4 C1331.8,1022.9 1337.6,1020.9 1341.1,1020.1 C1344.5,1019.4 1347.1,1019.0 1349.7,1020.1 C1352.3,1021.3 1356.3,1024.6 1356.6,1027.0 C1356.9,1029.5 1353.4,1032.8 1351.4,1034.8 C1349.4,1036.8 1347.7,1038.2 1344.5,1039.1 C1341.4,1039.9 1335.8,1040.2 1332.5,1039.9 C1329.2,1039.7 1326.0,1039.1 1324.7,1037.4 C1323.4,1035.6 1324.0,1031.8 1324.7,1029.6 Z" stroke-width="1.25"/>
<path d="M1465.7,1026.2 L1470.8,1024.4 L1476.0,1026.5 L1470.8,1028.7 L1466.5,1027.9 Z" stroke-width="1.25"/>
<path d="M1316.1,1158.8 C1315.7,1155.9 1319.4,1150.6 1322.1,1148.4 C1324.9,1146.3 1327.9,1147.6 1332.5,1145.8 C1337.1,1144.1 1345.4,1139.7 1349.7,1138.1 C1354.0,1136.5 1355.6,1136.1 1358.3,1136.4 C1361.0,1136.7 1363.7,1137.8 1366.1,1139.8 C1368.5,1141.8 1370.1,1145.4 1372.7,1148.4 C1375.2,1151.4 1377.8,1155.5 1381.3,1157.9 C1384.7,1160.3 1388.4,1161.9 1393.3,1163.1 C1398.2,1164.2 1404.8,1164.8 1410.5,1164.8 C1416.3,1164.8 1423.2,1164.2 1427.8,1163.1 C1432.4,1161.9 1435.2,1160.1 1438.1,1157.9 C1441.0,1155.7 1443.6,1152.9 1445.0,1150.2 C1446.4,1147.4 1445.6,1144.7 1446.7,1141.5 C1447.9,1138.4 1449.3,1133.9 1451.9,1131.2 C1454.5,1128.5 1459.0,1126.4 1462.2,1125.2 C1465.4,1124.0 1467.7,1123.5 1470.8,1124.0 C1474.0,1124.4 1478.0,1126.0 1481.1,1127.8 C1484.3,1129.5 1487.7,1131.6 1489.8,1134.7 C1491.8,1137.7 1493.5,1142.4 1493.2,1145.8 C1492.9,1149.3 1490.6,1151.4 1488.0,1155.3 C1485.5,1159.2 1481.1,1164.8 1477.7,1169.1 C1474.3,1173.4 1470.0,1178.0 1467.4,1181.1 C1464.8,1184.3 1465.4,1185.6 1462.2,1188.0 C1459.0,1190.5 1454.2,1194.5 1448.4,1195.8 C1442.7,1197.1 1435.5,1196.1 1427.8,1195.8 C1420.0,1195.5 1410.5,1194.9 1401.9,1194.1 C1393.3,1193.2 1383.9,1192.5 1376.1,1190.6 C1368.4,1188.8 1361.2,1185.6 1355.4,1182.9 C1349.7,1180.1 1346.8,1177.1 1341.7,1174.3 C1336.5,1171.4 1328.7,1168.2 1324.4,1165.7 C1320.2,1163.1 1316.5,1161.6 1316.1,1158.8 Z" stroke-width="1.25"/>
<path d="M1193.0,1323.2 C1193.0,1321.6 1204.5,1319.2 1211.9,1318.1 C1219.4,1316.9 1229.2,1316.6 1237.8,1316.3 C1246.4,1316.0 1255.0,1316.2 1263.6,1316.3 C1272.2,1316.5 1280.8,1316.6 1289.4,1317.2 C1298.0,1317.8 1307.8,1318.8 1315.3,1319.8 C1322.7,1320.8 1334.2,1322.2 1334.2,1323.2 C1334.2,1324.2 1322.7,1324.8 1315.3,1325.8 C1307.8,1326.8 1298.0,1328.4 1289.4,1329.2 C1280.8,1330.1 1272.2,1330.8 1263.6,1331.0 C1255.0,1331.1 1246.4,1330.7 1237.8,1330.1 C1229.2,1329.5 1219.4,1328.7 1211.9,1327.5 C1204.5,1326.4 1193.0,1324.8 1193.0,1323.2 Z" stroke-width="1.25"/>
<path d="M895.5,1001.1 L895.9,1004.6 L896.4,1008.1 L896.8,1011.6 L897.3,1015.1 L897.8,1018.6 L898.3,1022.1 L898.8,1025.6 L899.3,1029.1 L899.9,1032.6 L900.4,1036.1 L901.0,1039.6 L901.6,1043.1 L902.2,1046.7 L902.8,1050.2 L903.5,1053.7 L904.1,1057.2 L904.8,1060.7 L905.5,1064.2 L906.2,1067.7 L907.0,1071.2 L907.7,1074.7 L908.5,1078.2 L909.3,1081.7 L910.1,1085.2 L911.0,1088.7 L911.9,1092.2 L912.7,1095.7 L913.7,1099.2 L914.6,1102.7 L915.6,1106.2 L916.6,1109.7 L917.6,1113.2 L918.7,1116.7 L919.8,1120.2 L920.9,1123.7 L922.0,1127.2 L923.2,1130.7 L924.4,1134.3 L925.7,1137.8 L927.0,1141.3 L928.3,1144.8 L929.6,1148.3 L931.0,1151.8 L932.5,1155.3 L933.9,1158.8 L935.5,1162.3 L937.0,1165.8 L938.6,1169.3 L940.3,1172.8 L942.0,1176.3 L943.7,1179.8 L945.5,1183.3 L947.3,1186.8 L949.2,1190.3 L951.2,1193.8 L953.2,1197.3 L955.2,1200.8 L957.3,1204.3 L959.5,1207.8 L961.8,1211.3 L964.1,1214.8 L966.4,1218.3 L968.8,1221.9 L971.3,1225.4 L973.9,1228.9 L976.6,1232.4 L979.3,1235.9 L982.1,1239.4 L984.9,1242.9 L987.9,1246.4 L990.9,1249.9 L994.0,1253.4 L997.2,1256.9 L1000.5,1260.4 L1003.9,1263.9 L1007.4,1267.4 L1011.0,1270.9 L1014.7,1274.4 L1018.5,1277.9 L1022.3,1281.4 L1026.3,1284.9 L1030.5,1288.4 L1034.7,1291.9 L1039.0,1295.4 L1043.5,1298.9 L1048.1,1302.4 L1052.8,1305.9 L1057.7,1309.5 L1062.7,1313.0 L1067.8,1316.5 L1073.1,1320.0 L1078.5,1323.5 L1084.1,1327.0 L1089.9,1330.5 L1095.8,1334.0 L1101.8,1337.5 L1108.1,1341.0 L1114.5,1344.5 L1121.1,1348.0 L1127.8,1351.5" stroke-width="1.25"/>
<path d="M1517.5,1001.1 L1517.1,1004.6 L1516.6,1008.1 L1516.2,1011.6 L1515.7,1015.1 L1515.2,1018.6 L1514.7,1022.1 L1514.2,1025.6 L1513.7,1029.1 L1513.1,1032.6 L1512.6,1036.1 L1512.0,1039.6 L1511.4,1043.1 L1510.8,1046.7 L1510.2,1050.2 L1509.5,1053.7 L1508.9,1057.2 L1508.2,1060.7 L1507.5,1064.2 L1506.8,1067.7 L1506.0,1071.2 L1505.3,1074.7 L1504.5,1078.2 L1503.7,1081.7 L1502.9,1085.2 L1502.0,1088.7 L1501.1,1092.2 L1500.3,1095.7 L1499.3,1099.2 L1498.4,1102.7 L1497.4,1106.2 L1496.4,1109.7 L1495.4,1113.2 L1494.3,1116.7 L1493.2,1120.2 L1492.1,1123.7 L1491.0,1127.2 L1489.8,1130.7 L1488.6,1134.3 L1487.3,1137.8 L1486.0,1141.3 L1484.7,1144.8 L1483.4,1148.3 L1482.0,1151.8 L1480.5,1155.3 L1479.1,1158.8 L1477.5,1162.3 L1476.0,1165.8 L1474.4,1169.3 L1472.7,1172.8 L1471.0,1176.3 L1469.3,1179.8 L1467.5,1183.3 L1465.7,1186.8 L1463.8,1190.3 L1461.8,1193.8 L1459.8,1197.3 L1457.8,1200.8 L1455.7,1204.3 L1453.5,1207.8 L1451.2,1211.3 L1448.9,1214.8 L1446.6,1218.3 L1444.2,1221.9 L1441.7,1225.4 L1439.1,1228.9 L1436.4,1232.4 L1433.7,1235.9 L1430.9,1239.4 L1428.1,1242.9 L1425.1,1246.4 L1422.1,1249.9 L1419.0,1253.4 L1415.8,1256.9 L1412.5,1260.4 L1409.1,1263.9 L1405.6,1267.4 L1402.0,1270.9 L1398.3,1274.4 L1394.5,1277.9 L1390.7,1281.4 L1386.7,1284.9 L1382.5,1288.4 L1378.3,1291.9 L1374.0,1295.4 L1369.5,1298.9 L1364.9,1302.4 L1360.2,1305.9 L1355.3,1309.5 L1350.3,1313.0 L1345.2,1316.5 L1339.9,1320.0 L1334.5,1323.5 L1328.9,1327.0 L1323.1,1330.5 L1317.2,1334.0 L1311.2,1337.5 L1304.9,1341.0 L1298.5,1344.5 L1291.9,1348.0 L1285.2,1351.5" stroke-width="1.25"/>
</g>
<line x1="873.7" y1="1351.5" x2="1539.2" y2="1351.5" stroke="#111" stroke-width="1.1"/>
<line x1="873.7" y1="1001.1" x2="873.7" y2="1351.5" stroke="#111" stroke-width="1.1"/>
<line x1="1539.2" y1="1001.1" x2="1539.2" y2="1351.5" stroke="#111" stroke-width="1.1"/>
<line x1="873.7" y1="1001.1" x2="1539.2" y2="1001.1" stroke="#111" stroke-width="1.1"/>
<clipPath id="cf3"><rect x="873.7" y="1479.6" width="665.5" height="346.7"/></clipPath>
<clipPath id="ca3"><rect x="873.7" y="1475.9" width="665.5" height="350.4"/></clipPath>
<g clip-path="url(#cf3)">
<path d="M954.4,1479.6 C960.6,1476.9 981.4,1478.1 988.0,1479.6 C994.6,1481.2 993.0,1485.8 994.0,1489.1 C995.0,1492.4 994.6,1495.4 994.0,1499.4 C993.4,1503.5 991.5,1507.5 990.5,1513.2 C989.5,1519.0 989.7,1529.0 988.0,1533.9 C986.2,1538.8 983.2,1539.6 980.2,1542.5 C977.2,1545.4 972.7,1547.7 969.9,1551.1 C967.0,1554.5 965.6,1560.3 963.0,1563.2 C960.4,1566.0 957.5,1567.4 954.4,1568.0 C951.2,1568.6 947.2,1568.0 944.0,1566.6 C940.9,1565.2 937.2,1562.9 935.4,1559.7 C933.7,1556.6 933.1,1552.5 933.7,1547.7 C934.3,1542.8 936.9,1536.2 938.9,1530.4 C940.9,1524.7 943.8,1519.0 945.8,1513.2 C947.8,1507.5 949.5,1501.6 950.9,1496.0 C952.4,1490.4 948.2,1482.4 954.4,1479.6 Z" fill="#ffe4c4"/>
<path d="M957.8,1489.1 C960.1,1485.8 963.3,1483.9 966.4,1483.1 C969.6,1482.2 973.9,1482.4 976.8,1483.9 C979.6,1485.5 982.1,1489.1 983.7,1492.6 C985.2,1496.0 986.5,1500.3 986.2,1504.6 C986.0,1508.9 983.5,1514.1 981.9,1518.4 C980.4,1522.7 978.8,1527.3 976.8,1530.4 C974.8,1533.6 972.7,1534.7 969.9,1537.3 C967.0,1539.9 962.4,1543.9 959.5,1545.9 C956.7,1547.9 954.8,1549.7 952.7,1549.4 C950.5,1549.1 947.8,1547.1 946.6,1544.2 C945.5,1541.3 945.3,1536.2 945.8,1532.2 C946.2,1528.1 948.1,1525.0 949.2,1520.1 C950.4,1515.2 951.2,1508.1 952.7,1502.9 C954.1,1497.7 955.5,1492.4 957.8,1489.1 Z" fill="#ffa500"/>
<path d="M957.0,1498.6 C958.5,1495.7 960.6,1493.9 963.0,1492.6 C965.4,1491.2 969.0,1489.9 971.6,1490.5 C974.2,1491.1 976.8,1493.6 978.5,1496.0 C980.2,1498.4 981.4,1501.2 981.6,1504.6 C981.7,1508.1 980.7,1512.9 979.4,1516.7 C978.0,1520.4 975.5,1524.1 973.3,1527.0 C971.2,1529.9 968.9,1531.6 966.4,1533.9 C964.0,1536.1 961.0,1539.9 958.7,1540.4 C956.3,1541.0 953.5,1540.1 952.3,1537.3 C951.1,1534.5 951.1,1528.1 951.3,1523.6 C951.5,1519.0 952.6,1513.9 953.5,1509.8 C954.5,1505.6 955.4,1501.5 957.0,1498.6 Z" fill="#ff4500"/>
<path d="M961.3,1504.6 C962.1,1502.0 964.4,1500.3 966.4,1499.4 C968.4,1498.6 971.9,1497.7 973.3,1499.4 C974.8,1501.2 975.3,1506.3 975.0,1509.8 C974.8,1513.2 973.0,1517.5 971.6,1520.1 C970.2,1522.7 967.9,1524.7 966.4,1525.3 C965.0,1525.8 963.9,1525.3 963.0,1523.6 C962.1,1521.8 961.6,1518.1 961.3,1514.9 C961.0,1511.8 960.4,1507.2 961.3,1504.6 Z" fill="#ff0000"/>
<path d="M879.5,1677.7 C880.0,1674.5 883.1,1669.8 887.2,1666.5 C891.4,1663.2 898.7,1660.2 904.4,1657.9 C910.2,1655.6 916.5,1654.0 921.7,1652.7 C926.8,1651.4 930.6,1650.7 935.4,1650.1 C940.3,1649.5 946.1,1648.4 950.9,1649.3 C955.8,1650.1 964.4,1652.7 964.7,1655.3 C965.0,1657.9 957.0,1662.0 952.7,1664.8 C948.4,1667.5 944.0,1668.8 938.9,1671.6 C933.7,1674.5 926.8,1679.4 921.7,1682.0 C916.5,1684.6 912.5,1685.9 907.9,1687.1 C903.3,1688.4 898.1,1690.0 894.1,1689.7 C890.1,1689.4 886.2,1687.4 883.8,1685.4 C881.3,1683.4 878.9,1680.8 879.5,1677.7 Z" fill="#ffe4c4"/>
<path d="M1042.2,1677.7 C1042.9,1674.4 1046.5,1671.2 1050.8,1669.1 C1055.1,1666.9 1060.9,1665.9 1068.0,1664.8 C1075.2,1663.6 1085.3,1662.7 1093.9,1662.2 C1102.5,1661.6 1115.8,1661.5 1119.7,1661.3 C1123.6,1661.2 1113.3,1660.6 1117.2,1661.3 C1121.1,1662.0 1135.9,1666.6 1143.1,1665.6 C1150.2,1664.6 1156.0,1658.0 1160.3,1655.3 C1164.6,1652.6 1166.3,1652.3 1168.9,1649.3 C1171.5,1646.2 1174.0,1641.8 1175.8,1637.2 C1177.5,1632.6 1177.5,1624.9 1179.2,1621.7 C1180.9,1618.6 1182.1,1618.8 1186.1,1618.3 C1190.1,1617.7 1197.6,1618.0 1203.3,1618.3 C1209.1,1618.6 1214.8,1619.6 1220.5,1620.0 C1226.3,1620.4 1232.0,1620.8 1237.8,1620.8 C1243.5,1620.8 1249.2,1620.4 1255.0,1620.0 C1260.7,1619.6 1266.5,1619.1 1272.2,1618.3 C1277.9,1617.4 1283.7,1615.4 1289.4,1614.8 C1295.2,1614.2 1300.9,1614.2 1306.6,1614.8 C1312.4,1615.4 1319.0,1617.0 1323.9,1618.3 C1328.7,1619.6 1335.1,1620.6 1335.9,1622.6 C1336.8,1624.6 1331.9,1627.3 1329.0,1630.3 C1326.2,1633.3 1323.9,1637.2 1318.7,1640.7 C1313.5,1644.1 1304.1,1647.3 1298.0,1651.0 C1292.0,1654.7 1286.6,1658.7 1282.5,1663.0 C1278.5,1667.3 1274.5,1672.5 1273.9,1676.8 C1273.4,1681.1 1275.9,1685.1 1279.1,1688.9 C1282.3,1692.6 1289.4,1694.0 1292.9,1699.2 C1296.3,1704.4 1297.5,1715.3 1299.8,1719.9 C1302.1,1724.5 1301.2,1724.5 1306.6,1726.8 C1312.1,1729.0 1321.9,1731.3 1332.5,1733.6 C1343.0,1735.9 1359.9,1738.5 1370.0,1740.5 C1380.2,1742.5 1384.8,1743.4 1393.3,1745.7 C1401.8,1748.0 1417.4,1750.9 1420.9,1754.3 C1424.3,1757.8 1418.6,1763.2 1414.0,1766.4 C1409.4,1769.5 1401.1,1771.2 1393.3,1773.2 C1385.6,1775.3 1376.2,1777.8 1367.5,1778.4 C1358.8,1779.0 1351.2,1777.8 1341.1,1776.7 C1330.9,1775.5 1318.1,1773.2 1306.6,1771.5 C1295.2,1769.8 1286.6,1768.1 1272.2,1766.4 C1257.9,1764.6 1234.9,1762.6 1220.5,1761.2 C1206.2,1759.8 1196.1,1758.9 1186.1,1757.8 C1176.1,1756.6 1167.4,1756.6 1160.3,1754.3 C1153.1,1752.0 1148.8,1747.7 1143.1,1744.0 C1137.3,1740.2 1134.0,1736.2 1125.8,1731.9 C1117.6,1727.6 1104.9,1721.6 1093.9,1718.1 C1082.8,1714.7 1066.9,1713.8 1059.4,1711.3 C1052.0,1708.7 1051.2,1706.4 1049.1,1702.6 C1046.9,1698.9 1047.7,1693.0 1046.5,1688.9 C1045.4,1684.7 1041.5,1681.0 1042.2,1677.7 Z" fill="#ffe4c4"/>
<path d="M1140.3,1667.3 C1142.3,1664.5 1145.8,1662.3 1148.0,1660.5 C1150.2,1658.7 1151.5,1657.1 1153.5,1656.2 C1155.5,1655.3 1156.4,1654.7 1160.0,1655.2 C1163.6,1655.8 1169.6,1658.0 1175.0,1659.5 C1180.4,1661.0 1185.9,1661.5 1192.3,1664.5 C1198.7,1667.5 1209.9,1673.2 1213.3,1677.2 C1216.7,1681.2 1218.1,1685.7 1212.6,1688.4 C1207.0,1691.1 1192.0,1693.5 1180.0,1693.5 C1168.0,1693.5 1147.6,1691.1 1140.3,1688.4 C1133.0,1685.7 1136.1,1680.7 1136.1,1677.2 C1136.1,1673.7 1138.3,1670.1 1140.3,1667.3 Z" fill="#ffffff"/>
<path d="M1196.4,1644.1 C1197.2,1640.9 1199.3,1635.9 1203.3,1633.8 C1207.3,1631.6 1213.4,1631.8 1220.5,1631.2 C1227.7,1630.6 1237.8,1630.5 1246.4,1630.3 C1255.0,1630.2 1264.7,1629.7 1272.2,1630.3 C1279.7,1630.9 1288.3,1631.5 1291.1,1633.8 C1294.0,1636.1 1291.1,1640.7 1289.4,1644.1 C1287.7,1647.5 1285.1,1651.0 1280.8,1654.4 C1276.5,1657.9 1269.3,1662.0 1263.6,1664.8 C1257.9,1667.5 1251.3,1669.9 1246.4,1670.8 C1241.5,1671.6 1238.6,1670.9 1234.3,1669.9 C1230.0,1668.9 1225.1,1666.5 1220.5,1664.8 C1216.0,1663.0 1210.4,1661.6 1206.8,1659.6 C1203.2,1657.6 1200.7,1655.3 1199.0,1652.7 C1197.3,1650.1 1195.7,1647.3 1196.4,1644.1 Z" fill="#ffa500"/>
<path d="M1218.8,1645.0 C1220.0,1643.4 1224.6,1642.2 1229.2,1641.5 C1233.7,1640.8 1240.6,1640.2 1246.4,1640.7 C1252.1,1641.1 1262.2,1642.1 1263.6,1644.1 C1265.0,1646.1 1258.7,1650.4 1255.0,1652.7 C1251.3,1655.0 1245.5,1657.3 1241.2,1657.9 C1236.9,1658.4 1232.3,1657.3 1229.2,1656.1 C1226.0,1655.0 1224.0,1652.8 1222.3,1651.0 C1220.5,1649.1 1217.7,1646.5 1218.8,1645.0 Z" fill="#ff4500"/>
<path d="M1125.0,1710.4 C1123.5,1707.8 1127.1,1707.2 1134.4,1706.1 C1141.8,1704.9 1157.4,1704.4 1168.9,1703.5 C1180.4,1702.6 1191.8,1701.4 1203.3,1700.9 C1214.8,1700.5 1229.2,1700.5 1237.8,1700.9 C1246.4,1701.4 1250.7,1702.1 1255.0,1703.5 C1259.3,1704.9 1260.7,1706.8 1263.6,1709.5 C1266.5,1712.3 1268.5,1715.8 1272.2,1719.9 C1275.9,1723.9 1280.2,1729.6 1286.0,1733.6 C1291.7,1737.7 1299.5,1740.5 1306.6,1744.0 C1313.8,1747.4 1329.0,1752.3 1329.0,1754.3 C1329.0,1756.3 1316.1,1755.7 1306.6,1756.0 C1297.2,1756.3 1283.7,1756.6 1272.2,1756.0 C1260.7,1755.5 1249.2,1754.3 1237.8,1752.6 C1226.3,1750.9 1214.8,1748.9 1203.3,1745.7 C1191.8,1742.5 1178.9,1737.7 1168.9,1733.6 C1158.8,1729.6 1150.4,1725.5 1143.1,1721.6 C1135.7,1717.7 1126.4,1713.0 1125.0,1710.4 Z" fill="#ffa500"/>
<path d="M1182.7,1720.7 C1182.7,1718.4 1189.8,1714.6 1194.7,1713.0 C1199.6,1711.4 1206.2,1710.7 1211.9,1711.3 C1217.7,1711.8 1224.8,1714.7 1229.2,1716.4 C1233.5,1718.1 1238.1,1719.9 1237.8,1721.6 C1237.5,1723.3 1231.7,1725.6 1227.4,1726.8 C1223.1,1727.9 1217.4,1728.5 1211.9,1728.5 C1206.5,1728.5 1199.6,1728.0 1194.7,1726.8 C1189.8,1725.5 1182.7,1723.0 1182.7,1720.7 Z" fill="#ff4500"/>
<path d="M1153.4,1532.2 C1153.4,1527.3 1157.1,1518.4 1160.3,1514.9 C1163.4,1511.5 1168.3,1512.9 1172.3,1511.5 C1176.3,1510.1 1181.5,1511.6 1184.4,1506.3 C1187.3,1501.0 1184.7,1484.1 1189.5,1479.6 C1194.4,1475.2 1208.5,1476.9 1213.7,1479.6 C1218.8,1482.4 1217.1,1491.8 1220.5,1496.0 C1224.0,1500.2 1230.0,1501.7 1234.3,1504.6 C1238.6,1507.5 1242.4,1511.4 1246.4,1513.2 C1250.4,1515.1 1255.3,1516.4 1258.4,1515.8 C1261.6,1515.2 1263.9,1515.8 1265.3,1509.8 C1266.8,1503.7 1257.9,1484.7 1267.0,1479.6 C1276.2,1474.6 1310.1,1477.2 1320.4,1479.6 C1330.8,1482.1 1325.6,1488.1 1329.0,1494.3 C1332.5,1500.4 1337.6,1509.5 1341.1,1516.7 C1344.5,1523.8 1348.6,1531.6 1349.7,1537.3 C1350.8,1543.1 1350.0,1547.4 1348.0,1551.1 C1346.0,1554.8 1342.2,1558.0 1337.6,1559.7 C1333.1,1561.4 1325.6,1562.0 1320.4,1561.4 C1315.3,1560.9 1309.2,1559.4 1306.6,1556.3 C1304.1,1553.1 1304.6,1547.4 1304.9,1542.5 C1305.2,1537.6 1309.5,1530.7 1308.4,1527.0 C1307.2,1523.3 1301.8,1520.4 1298.0,1520.1 C1294.3,1519.8 1289.1,1522.1 1286.0,1525.3 C1282.8,1528.4 1281.4,1535.6 1279.1,1539.0 C1276.8,1542.5 1276.2,1543.9 1272.2,1545.9 C1268.2,1547.9 1260.2,1550.2 1255.0,1551.1 C1249.8,1552.0 1246.1,1552.0 1241.2,1551.1 C1236.3,1550.2 1230.6,1548.8 1225.7,1545.9 C1220.8,1543.1 1216.2,1536.2 1211.9,1533.9 C1207.6,1531.6 1204.2,1531.6 1199.9,1532.2 C1195.6,1532.7 1190.7,1535.3 1186.1,1537.3 C1181.5,1539.3 1176.6,1543.1 1172.3,1544.2 C1168.0,1545.4 1163.4,1546.2 1160.3,1544.2 C1157.1,1542.2 1153.4,1537.0 1153.4,1532.2 Z" fill="#ffe4c4"/>
<path d="M1193.0,1506.3 C1194.0,1501.5 1196.1,1491.1 1198.2,1487.4 C1200.2,1483.7 1202.5,1483.1 1205.0,1483.9 C1207.6,1484.8 1211.1,1489.1 1213.7,1492.6 C1216.2,1496.0 1217.1,1500.9 1220.5,1504.6 C1224.0,1508.3 1229.4,1511.5 1234.3,1514.9 C1239.2,1518.4 1245.5,1523.0 1249.8,1525.3 C1254.1,1527.6 1256.7,1530.4 1260.2,1528.7 C1263.6,1527.0 1268.2,1521.3 1270.5,1514.9 C1272.8,1508.6 1273.1,1496.7 1273.9,1490.8 C1274.8,1484.9 1269.3,1481.5 1275.7,1479.6 C1282.0,1477.8 1304.1,1477.2 1311.8,1479.6 C1319.6,1482.1 1319.0,1489.0 1322.1,1494.3 C1325.3,1499.6 1328.5,1505.5 1330.8,1511.5 C1333.1,1517.5 1335.3,1525.6 1335.9,1530.4 C1336.5,1535.3 1336.2,1538.5 1334.2,1540.8 C1332.2,1543.1 1326.7,1545.4 1323.9,1544.2 C1321.0,1543.1 1319.3,1537.3 1317.0,1533.9 C1314.7,1530.4 1312.7,1525.8 1310.1,1523.6 C1307.5,1521.3 1304.9,1520.7 1301.5,1520.1 C1298.0,1519.5 1292.9,1519.2 1289.4,1520.1 C1286.0,1521.0 1284.3,1523.3 1280.8,1525.3 C1277.4,1527.3 1271.6,1530.2 1268.8,1532.2 C1265.9,1534.2 1266.8,1536.2 1263.6,1537.3 C1260.4,1538.5 1254.1,1539.0 1249.8,1539.0 C1245.5,1539.0 1241.8,1538.8 1237.8,1537.3 C1233.7,1535.9 1230.0,1532.7 1225.7,1530.4 C1221.4,1528.1 1216.8,1525.0 1211.9,1523.6 C1207.1,1522.1 1199.7,1523.0 1196.4,1521.8 C1193.1,1520.7 1192.7,1519.2 1192.1,1516.7 C1191.6,1514.1 1192.0,1511.2 1193.0,1506.3 Z" fill="#ffa500"/>
<path d="M1275.7,1490.8 C1276.7,1487.4 1279.7,1483.9 1282.5,1482.2 C1285.4,1480.6 1289.1,1480.0 1292.9,1480.8 C1296.6,1481.7 1301.5,1484.6 1304.9,1487.4 C1308.4,1490.2 1311.2,1494.6 1313.5,1497.7 C1315.8,1500.9 1317.1,1503.2 1318.7,1506.3 C1320.3,1509.5 1322.1,1513.6 1323.0,1516.7 C1323.9,1519.7 1324.2,1523.3 1323.9,1524.4 C1323.6,1525.6 1322.7,1525.1 1321.3,1523.6 C1319.8,1522.0 1317.7,1517.4 1315.3,1514.9 C1312.8,1512.5 1309.5,1510.1 1306.6,1508.9 C1303.8,1507.8 1301.5,1507.9 1298.0,1508.1 C1294.6,1508.2 1289.1,1509.5 1286.0,1509.8 C1282.8,1510.1 1280.7,1510.9 1279.1,1509.8 C1277.5,1508.6 1277.1,1506.0 1276.5,1502.9 C1275.9,1499.7 1274.6,1494.3 1275.7,1490.8 Z" fill="#ff4500"/>
<path d="M1282.5,1490.8 C1283.7,1488.8 1288.0,1487.1 1291.1,1487.4 C1294.3,1487.7 1300.3,1490.8 1301.5,1492.6 C1302.6,1494.3 1300.0,1496.1 1298.0,1497.7 C1296.0,1499.3 1291.7,1501.7 1289.4,1502.0 C1287.1,1502.3 1285.4,1501.3 1284.3,1499.4 C1283.1,1497.6 1281.4,1492.8 1282.5,1490.8 Z" fill="#ff0000"/>
<path d="M1405.4,1479.6 C1412.8,1477.8 1439.2,1477.2 1448.4,1479.6 C1457.6,1482.1 1458.2,1490.5 1460.5,1494.3 C1462.8,1498.0 1463.1,1500.6 1462.2,1502.0 C1461.3,1503.5 1458.2,1503.6 1455.3,1502.9 C1452.4,1502.2 1448.1,1498.6 1445.0,1497.7 C1441.8,1496.9 1439.8,1496.0 1436.4,1497.7 C1432.9,1499.4 1427.8,1504.0 1424.3,1508.1 C1420.9,1512.1 1417.7,1516.9 1415.7,1521.8 C1413.7,1526.7 1412.8,1531.6 1412.3,1537.3 C1411.7,1543.1 1411.1,1551.1 1412.3,1556.3 C1413.4,1561.4 1416.6,1564.6 1419.2,1568.3 C1421.7,1572.1 1427.8,1575.2 1427.8,1578.7 C1427.8,1582.1 1422.6,1585.8 1419.2,1589.0 C1415.7,1592.1 1411.4,1595.0 1407.1,1597.6 C1402.8,1600.2 1398.5,1603.1 1393.3,1604.5 C1388.2,1605.9 1380.7,1606.8 1376.1,1606.2 C1371.5,1605.6 1367.5,1603.9 1365.8,1601.0 C1364.0,1598.2 1364.6,1592.1 1365.8,1589.0 C1366.9,1585.8 1370.4,1585.5 1372.7,1582.1 C1375.0,1578.7 1378.4,1572.9 1379.5,1568.3 C1380.7,1563.7 1380.1,1558.9 1379.5,1554.5 C1379.0,1550.2 1376.7,1545.9 1376.1,1542.5 C1375.5,1539.0 1374.7,1537.0 1376.1,1533.9 C1377.5,1530.7 1381.3,1526.1 1384.7,1523.6 C1388.2,1521.0 1393.6,1521.3 1396.8,1518.4 C1399.9,1515.5 1402.5,1510.9 1403.7,1506.3 C1404.8,1501.7 1403.4,1495.3 1403.7,1490.8 C1403.9,1486.4 1397.9,1481.5 1405.4,1479.6 Z" fill="#ffe4c4"/>
<path d="M1393.3,1537.3 C1394.5,1536.0 1396.6,1533.9 1397.6,1534.7 C1398.6,1535.6 1399.2,1539.8 1399.4,1542.5 C1399.5,1545.2 1398.9,1548.8 1398.5,1551.1 C1398.1,1553.4 1397.9,1556.8 1396.8,1556.3 C1395.6,1555.7 1392.6,1550.0 1391.6,1547.7 C1390.6,1545.4 1390.5,1544.2 1390.7,1542.5 C1391.0,1540.8 1392.2,1538.6 1393.3,1537.3 Z" fill="#ffa500"/>
<path d="M1415.7,1492.2 C1415.7,1491.4 1418.0,1490.0 1419.2,1490.0 C1420.3,1490.0 1422.6,1491.4 1422.6,1492.2 C1422.6,1493.0 1420.3,1494.6 1419.2,1494.6 C1418.0,1494.6 1415.7,1493.0 1415.7,1492.2 Z" fill="#ffa500"/>
<path d="M1481.1,1502.9 C1482.3,1499.7 1485.7,1497.3 1489.8,1494.3 C1493.8,1491.3 1501.5,1486.2 1505.3,1484.8 C1509.0,1483.4 1509.8,1484.4 1512.1,1485.7 C1514.4,1487.0 1516.5,1488.5 1519.0,1492.6 C1521.6,1496.6 1525.2,1504.9 1527.6,1509.8 C1530.1,1514.7 1532.7,1517.8 1533.7,1521.8 C1534.7,1525.8 1534.4,1531.6 1533.7,1533.9 C1533.0,1536.2 1531.8,1536.5 1529.4,1535.6 C1526.9,1534.7 1522.5,1530.7 1519.0,1528.7 C1515.6,1526.7 1512.4,1524.1 1508.7,1523.6 C1505.0,1523.0 1500.1,1525.8 1496.6,1525.3 C1493.2,1524.7 1490.3,1522.1 1488.0,1520.1 C1485.7,1518.1 1484.0,1516.1 1482.9,1513.2 C1481.7,1510.3 1480.0,1506.0 1481.1,1502.9 Z" fill="#ffe4c4"/>
<path d="M1457.0,1568.3 C1458.2,1565.5 1461.9,1563.7 1465.7,1561.4 C1469.4,1559.1 1474.3,1555.1 1479.4,1554.5 C1484.6,1554.0 1492.3,1556.8 1496.6,1558.0 C1501.0,1559.1 1501.0,1560.7 1505.3,1561.4 C1509.6,1562.2 1518.6,1561.1 1522.5,1562.3 C1526.4,1563.4 1527.8,1565.0 1528.5,1568.3 C1529.2,1571.6 1528.4,1577.5 1526.8,1582.1 C1525.2,1586.7 1521.0,1590.7 1519.0,1595.9 C1517.0,1601.0 1515.0,1608.2 1514.7,1613.1 C1514.4,1618.0 1515.4,1620.3 1517.3,1625.2 C1519.2,1630.0 1524.3,1637.5 1525.9,1642.4 C1527.5,1647.3 1527.9,1651.0 1526.8,1654.4 C1525.6,1657.9 1522.6,1660.7 1519.0,1663.0 C1515.4,1665.3 1511.9,1667.3 1505.3,1668.2 C1498.7,1669.1 1486.0,1668.8 1479.4,1668.2 C1472.8,1667.6 1468.8,1667.1 1465.7,1664.8 C1462.5,1662.5 1461.3,1659.0 1460.5,1654.4 C1459.6,1649.8 1460.6,1642.4 1460.5,1637.2 C1460.3,1632.0 1459.0,1627.4 1459.6,1623.4 C1460.2,1619.4 1462.3,1617.1 1463.9,1613.1 C1465.5,1609.1 1468.8,1603.9 1469.1,1599.3 C1469.4,1594.7 1467.4,1589.0 1465.7,1585.5 C1463.9,1582.1 1460.2,1581.5 1458.8,1578.7 C1457.3,1575.8 1455.9,1571.2 1457.0,1568.3 Z" fill="#ffe4c4"/>
<path d="M1476.0,1580.4 C1476.3,1577.2 1480.3,1573.6 1482.9,1571.8 C1485.5,1569.9 1488.3,1569.2 1491.5,1569.2 C1494.6,1569.2 1498.7,1570.0 1501.8,1571.8 C1505.0,1573.5 1509.3,1576.6 1510.4,1579.5 C1511.6,1582.4 1510.1,1585.4 1508.7,1589.0 C1507.3,1592.6 1504.4,1598.2 1501.8,1601.0 C1499.2,1603.9 1495.5,1606.5 1493.2,1606.2 C1490.9,1605.9 1490.0,1601.9 1488.0,1599.3 C1486.0,1596.7 1483.2,1593.9 1481.1,1590.7 C1479.1,1587.6 1475.7,1583.5 1476.0,1580.4 Z" fill="#ffa500"/>
</g>
<g clip-path="url(#ca3)" fill="none" stroke="#000">
<path d="M957.0,1498.6 C958.5,1495.7 960.6,1493.9 963.0,1492.6 C965.4,1491.2 969.0,1489.9 971.6,1490.5 C974.2,1491.1 976.8,1493.6 978.5,1496.0 C980.2,1498.4 981.4,1501.2 981.6,1504.6 C981.7,1508.1 980.7,1512.9 979.4,1516.7 C978.0,1520.4 975.5,1524.1 973.3,1527.0 C971.2,1529.9 968.9,1531.6 966.4,1533.9 C964.0,1536.1 961.0,1539.9 958.7,1540.4 C956.3,1541.0 953.5,1540.1 952.3,1537.3 C951.1,1534.5 951.1,1528.1 951.3,1523.6 C951.5,1519.0 952.6,1513.9 953.5,1509.8 C954.5,1505.6 955.4,1501.5 957.0,1498.6 Z" stroke-width="1.25"/>
<path d="M1203.0,1645.0 C1203.8,1642.4 1208.4,1639.1 1211.9,1637.2 C1215.4,1635.3 1218.2,1634.5 1224.0,1633.8 C1229.7,1633.0 1238.6,1633.0 1246.4,1632.9 C1254.1,1632.8 1265.3,1632.7 1270.5,1633.4 C1275.7,1634.1 1275.7,1635.4 1277.4,1637.2 C1279.1,1639.0 1281.7,1641.5 1280.8,1644.1 C1280.0,1646.7 1275.9,1649.8 1272.2,1652.7 C1268.5,1655.6 1263.6,1659.0 1258.4,1661.3 C1253.3,1663.6 1246.1,1665.8 1241.2,1666.5 C1236.3,1667.2 1234.0,1667.1 1229.2,1665.6 C1224.3,1664.2 1215.7,1660.0 1211.9,1657.9 C1208.2,1655.7 1208.3,1654.9 1206.8,1652.7 C1205.3,1650.6 1202.1,1647.5 1203.0,1645.0 Z" stroke-width="1.25"/>
<path d="M1138.7,1709.5 C1141.6,1706.9 1158.1,1707.1 1168.9,1706.1 C1179.6,1705.1 1193.3,1703.9 1203.3,1703.5 C1213.4,1703.1 1222.0,1703.1 1229.2,1703.5 C1236.3,1703.9 1241.5,1704.5 1246.4,1706.1 C1251.3,1707.7 1255.3,1710.1 1258.4,1713.0 C1261.6,1715.8 1262.2,1719.3 1265.3,1723.3 C1268.5,1727.3 1273.2,1733.8 1277.4,1737.1 C1281.5,1740.4 1289.7,1741.4 1290.3,1743.1 C1290.9,1744.8 1285.3,1746.6 1280.8,1747.4 C1276.4,1748.3 1270.8,1748.6 1263.6,1748.3 C1256.4,1748.0 1246.4,1747.0 1237.8,1745.7 C1229.2,1744.4 1220.5,1742.5 1211.9,1740.5 C1203.3,1738.5 1196.1,1736.8 1186.1,1733.6 C1176.1,1730.5 1159.6,1725.6 1151.7,1721.6 C1143.8,1717.6 1135.9,1712.1 1138.7,1709.5 Z" stroke-width="1.25"/>
<path d="M1276.5,1490.8 C1277.5,1487.2 1280.4,1484.7 1282.5,1483.1 C1284.7,1481.5 1286.8,1481.4 1289.4,1481.4 C1292.0,1481.4 1294.9,1481.8 1298.0,1483.1 C1301.2,1484.4 1305.8,1486.4 1308.4,1489.1 C1311.0,1491.8 1311.5,1496.0 1313.5,1499.4 C1315.5,1502.9 1318.7,1506.6 1320.4,1509.8 C1322.1,1512.9 1323.3,1515.8 1323.9,1518.4 C1324.4,1521.0 1324.7,1525.0 1323.9,1525.3 C1323.0,1525.6 1320.4,1522.1 1318.7,1520.1 C1317.0,1518.1 1315.8,1515.2 1313.5,1513.2 C1311.2,1511.2 1308.1,1509.1 1304.9,1508.1 C1301.8,1507.0 1297.7,1506.8 1294.6,1507.2 C1291.4,1507.6 1288.4,1510.1 1286.0,1510.6 C1283.5,1511.2 1281.5,1511.6 1280.0,1510.6 C1278.4,1509.6 1277.1,1507.9 1276.5,1504.6 C1275.9,1501.3 1275.5,1494.4 1276.5,1490.8 Z" stroke-width="1.25"/>
<path d="M1487.2,1578.7 L1496.6,1578.3 L1499.2,1583.8 L1498.4,1590.7 L1493.2,1592.4 L1488.0,1590.7 L1487.2,1585.5 Z" stroke-width="1.25"/>
<path d="M895.5,1475.9 L895.9,1479.4 L896.4,1482.9 L896.8,1486.4 L897.3,1489.9 L897.8,1493.4 L898.3,1496.9 L898.8,1500.4 L899.3,1503.9 L899.9,1507.4 L900.4,1510.9 L901.0,1514.4 L901.6,1517.9 L902.2,1521.5 L902.8,1525.0 L903.5,1528.5 L904.1,1532.0 L904.8,1535.5 L905.5,1539.0 L906.2,1542.5 L907.0,1546.0 L907.7,1549.5 L908.5,1553.0 L909.3,1556.5 L910.1,1560.0 L911.0,1563.5 L911.9,1567.0 L912.7,1570.5 L913.7,1574.0 L914.6,1577.5 L915.6,1581.0 L916.6,1584.5 L917.6,1588.0 L918.7,1591.5 L919.8,1595.0 L920.9,1598.5 L922.0,1602.0 L923.2,1605.5 L924.4,1609.1 L925.7,1612.6 L927.0,1616.1 L928.3,1619.6 L929.6,1623.1 L931.0,1626.6 L932.5,1630.1 L933.9,1633.6 L935.5,1637.1 L937.0,1640.6 L938.6,1644.1 L940.3,1647.6 L942.0,1651.1 L943.7,1654.6 L945.5,1658.1 L947.3,1661.6 L949.2,1665.1 L951.2,1668.6 L953.2,1672.1 L955.2,1675.6 L957.3,1679.1 L959.5,1682.6 L961.8,1686.1 L964.1,1689.6 L966.4,1693.1 L968.8,1696.7 L971.3,1700.2 L973.9,1703.7 L976.6,1707.2 L979.3,1710.7 L982.1,1714.2 L984.9,1717.7 L987.9,1721.2 L990.9,1724.7 L994.0,1728.2 L997.2,1731.7 L1000.5,1735.2 L1003.9,1738.7 L1007.4,1742.2 L1011.0,1745.7 L1014.7,1749.2 L1018.5,1752.7 L1022.3,1756.2 L1026.3,1759.7 L1030.5,1763.2 L1034.7,1766.7 L1039.0,1770.2 L1043.5,1773.7 L1048.1,1777.2 L1052.8,1780.7 L1057.7,1784.3 L1062.7,1787.8 L1067.8,1791.3 L1073.1,1794.8 L1078.5,1798.3 L1084.1,1801.8 L1089.9,1805.3 L1095.8,1808.8 L1101.8,1812.3 L1108.1,1815.8 L1114.5,1819.3 L1121.1,1822.8 L1127.8,1826.3" stroke-width="1.25"/>
<path d="M1517.5,1475.9 L1517.1,1479.4 L1516.6,1482.9 L1516.2,1486.4 L1515.7,1489.9 L1515.2,1493.4 L1514.7,1496.9 L1514.2,1500.4 L1513.7,1503.9 L1513.1,1507.4 L1512.6,1510.9 L1512.0,1514.4 L1511.4,1517.9 L1510.8,1521.5 L1510.2,1525.0 L1509.5,1528.5 L1508.9,1532.0 L1508.2,1535.5 L1507.5,1539.0 L1506.8,1542.5 L1506.0,1546.0 L1505.3,1549.5 L1504.5,1553.0 L1503.7,1556.5 L1502.9,1560.0 L1502.0,1563.5 L1501.1,1567.0 L1500.3,1570.5 L1499.3,1574.0 L1498.4,1577.5 L1497.4,1581.0 L1496.4,1584.5 L1495.4,1588.0 L1494.3,1591.5 L1493.2,1595.0 L1492.1,1598.5 L1491.0,1602.0 L1489.8,1605.5 L1488.6,1609.1 L1487.3,1612.6 L1486.0,1616.1 L1484.7,1619.6 L1483.4,1623.1 L1482.0,1626.6 L1480.5,1630.1 L1479.1,1633.6 L1477.5,1637.1 L1476.0,1640.6 L1474.4,1644.1 L1472.7,1647.6 L1471.0,1651.1 L1469.3,1654.6 L1467.5,1658.1 L1465.7,1661.6 L1463.8,1665.1 L1461.8,1668.6 L1459.8,1672.1 L1457.8,1675.6 L1455.7,1679.1 L1453.5,1682.6 L1451.2,1686.1 L1448.9,1689.6 L1446.6,1693.1 L1444.2,1696.7 L1441.7,1700.2 L1439.1,1703.7 L1436.4,1707.2 L1433.7,1710.7 L1430.9,1714.2 L1428.1,1717.7 L1425.1,1721.2 L1422.1,1724.7 L1419.0,1728.2 L1415.8,1731.7 L1412.5,1735.2 L1409.1,1738.7 L1405.6,1742.2 L1402.0,1745.7 L1398.3,1749.2 L1394.5,1752.7 L1390.7,1756.2 L1386.7,1759.7 L1382.5,1763.2 L1378.3,1766.7 L1374.0,1770.2 L1369.5,1773.7 L1364.9,1777.2 L1360.2,1780.7 L1355.3,1784.3 L1350.3,1787.8 L1345.2,1791.3 L1339.9,1794.8 L1334.5,1798.3 L1328.9,1801.8 L1323.1,1805.3 L1317.2,1808.8 L1311.2,1812.3 L1304.9,1815.8 L1298.5,1819.3 L1291.9,1822.8 L1285.2,1826.3" stroke-width="1.25"/>
</g>
<line x1="873.7" y1="1826.3" x2="1539.2" y2="1826.3" stroke="#111" stroke-width="1.1"/>
<line x1="873.7" y1="1475.9" x2="873.7" y2="1826.3" stroke="#111" stroke-width="1.1"/>
<line x1="1539.2" y1="1475.9" x2="1539.2" y2="1826.3" stroke="#111" stroke-width="1.1"/>
<line x1="873.7" y1="1475.9" x2="1539.2" y2="1475.9" stroke="#111" stroke-width="1.1"/>
<clipPath id="cf4"><rect x="873.7" y="1954.4" width="665.5" height="346.7"/></clipPath>
<clipPath id="ca4"><rect x="873.7" y="1950.7" width="665.5" height="350.4"/></clipPath>
<g clip-path="url(#cf4)">
<path d="M887.2,1954.6 C891.0,1948.5 907.2,1952.8 911.3,1954.6 C915.5,1956.5 911.3,1961.1 912.2,1965.8 C913.1,1970.6 915.2,1977.9 916.5,1983.1 C917.8,1988.2 919.4,1991.1 919.9,1996.8 C920.5,2002.6 918.8,2012.3 919.9,2017.5 C921.1,2022.7 923.7,2025.8 926.8,2027.8 C930.0,2029.9 936.0,2030.5 938.9,2029.9 C941.8,2029.3 942.9,2027.3 944.0,2024.4 C945.2,2021.5 945.8,2016.6 945.8,2012.3 C945.8,2008.0 945.2,2002.9 944.0,1998.6 C942.9,1994.2 940.6,1991.1 938.9,1986.5 C937.2,1981.9 934.9,1976.3 933.7,1971.0 C932.6,1965.7 922.5,1957.4 932.0,1954.6 C941.5,1951.9 979.1,1952.2 990.5,1954.6 C1002.0,1957.1 998.3,1964.3 1000.9,1969.3 C1003.5,1974.3 1006.0,1980.8 1006.0,1984.8 C1006.0,1988.8 1004.0,1991.7 1000.9,1993.4 C997.7,1995.1 990.8,1993.7 987.1,1995.1 C983.4,1996.5 980.5,1998.8 978.5,2002.0 C976.5,2005.2 974.8,2009.5 975.0,2014.0 C975.3,2018.6 977.6,2025.0 980.2,2029.5 C982.8,2034.1 987.8,2037.6 990.5,2041.6 C993.3,2045.6 995.4,2048.8 996.6,2053.7 C997.7,2058.5 998.1,2065.4 997.4,2070.9 C996.7,2076.3 991.1,2081.5 992.3,2086.4 C993.4,2091.3 1000.0,2096.4 1004.3,2100.2 C1008.6,2103.9 1013.2,2105.0 1018.1,2108.8 C1023.0,2112.5 1028.1,2119.1 1033.6,2122.5 C1039.0,2126.0 1043.6,2127.4 1050.8,2129.4 C1058.0,2131.4 1068.0,2132.3 1076.6,2134.6 C1085.3,2136.9 1095.3,2140.3 1102.5,2143.2 C1109.7,2146.1 1114.2,2148.4 1119.7,2151.8 C1125.2,2155.3 1131.0,2159.8 1135.2,2163.9 C1139.4,2167.9 1142.5,2172.3 1144.8,2175.9 C1147.1,2179.5 1150.8,2183.1 1149.1,2185.4 C1147.4,2187.7 1139.8,2188.4 1134.4,2189.7 C1129.1,2191.0 1121.1,2192.0 1117.2,2193.1 C1113.3,2194.3 1117.9,2195.9 1111.1,2196.6 C1104.3,2197.3 1088.1,2197.2 1076.6,2197.4 C1065.2,2197.7 1053.7,2198.5 1042.2,2198.3 C1030.7,2198.2 1017.8,2197.7 1007.8,2196.6 C997.7,2195.4 990.3,2193.1 981.9,2191.4 C973.6,2189.7 960.4,2188.8 957.8,2186.3 C955.2,2183.7 962.7,2179.7 966.4,2175.9 C970.2,2172.2 978.5,2167.3 980.2,2163.9 C981.9,2160.4 979.1,2157.6 976.8,2155.3 C974.5,2153.0 969.9,2151.5 966.4,2150.1 C963.0,2148.7 960.7,2147.8 956.1,2146.6 C951.5,2145.5 944.6,2143.8 938.9,2143.2 C933.1,2142.6 927.4,2143.5 921.7,2143.2 C915.9,2142.9 908.7,2142.6 904.4,2141.5 C900.1,2140.3 898.0,2139.8 895.8,2136.3 C893.7,2132.9 892.1,2127.7 891.5,2120.8 C891.0,2113.9 891.7,2102.7 892.4,2095.0 C893.1,2087.2 893.8,2079.5 895.8,2074.3 C897.8,2069.2 901.6,2066.9 904.4,2064.0 C907.3,2061.1 911.3,2060.0 913.1,2057.1 C914.8,2054.2 915.3,2051.4 914.8,2046.8 C914.2,2042.2 911.3,2034.7 909.6,2029.5 C907.9,2024.4 906.7,2019.2 904.4,2015.8 C902.1,2012.3 898.4,2012.9 895.8,2008.9 C893.2,2004.9 890.4,2000.7 888.9,1991.7 C887.5,1982.6 883.5,1960.8 887.2,1954.6 Z" fill="#ffe4c4"/>
<path d="M919.9,2053.7 C920.8,2049.6 926.8,2043.3 930.3,2039.9 C933.7,2036.4 937.2,2033.6 940.6,2033.0 C944.0,2032.4 947.5,2033.9 950.9,2036.4 C954.4,2039.0 959.4,2044.5 961.3,2048.5 C963.1,2052.5 963.3,2057.4 962.1,2060.5 C961.0,2063.7 958.3,2066.1 954.4,2067.4 C950.5,2068.8 943.8,2069.4 938.9,2068.8 C934.0,2068.2 928.3,2066.5 925.1,2064.0 C921.9,2061.5 919.1,2057.7 919.9,2053.7 Z" fill="#ffffff"/>
<path d="M906.2,2091.5 C907.0,2086.4 908.7,2083.5 911.3,2081.2 C913.9,2078.9 917.1,2078.6 921.7,2077.8 C926.3,2076.9 933.1,2076.5 938.9,2076.0 C944.6,2075.6 950.9,2075.5 956.1,2075.2 C961.3,2074.9 966.7,2073.9 969.9,2074.3 C973.0,2074.8 973.0,2075.2 975.0,2077.8 C977.1,2080.3 978.8,2086.1 981.9,2089.8 C985.1,2093.6 989.7,2096.7 994.0,2100.2 C998.3,2103.6 1003.2,2106.8 1007.8,2110.5 C1012.4,2114.2 1017.2,2119.4 1021.5,2122.5 C1025.8,2125.7 1028.7,2127.4 1033.6,2129.4 C1038.5,2131.4 1043.6,2132.6 1050.8,2134.6 C1058.0,2136.6 1069.5,2138.9 1076.6,2141.5 C1083.8,2144.1 1089.0,2146.9 1093.9,2150.1 C1098.7,2153.2 1103.9,2156.4 1105.9,2160.4 C1107.9,2164.4 1107.9,2170.8 1105.9,2174.2 C1103.9,2177.6 1098.7,2179.4 1093.9,2181.1 C1089.0,2182.8 1085.3,2183.7 1076.6,2184.5 C1068.0,2185.4 1052.3,2186.3 1042.2,2186.3 C1032.2,2186.3 1022.4,2186.0 1016.4,2184.5 C1010.3,2183.1 1008.3,2181.1 1006.0,2177.6 C1003.7,2174.2 1004.6,2168.2 1002.6,2163.9 C1000.6,2159.6 998.9,2155.0 994.0,2151.8 C989.1,2148.7 981.1,2147.2 973.3,2144.9 C965.6,2142.6 956.1,2139.8 947.5,2138.0 C938.9,2136.3 927.7,2136.0 921.7,2134.6 C915.6,2133.2 913.9,2133.2 911.3,2129.4 C908.7,2125.7 907.0,2118.5 906.2,2112.2 C905.3,2105.9 905.3,2096.7 906.2,2091.5 Z" fill="#ffa500"/>
<path d="M915.6,2095.0 C916.6,2091.5 917.8,2086.7 921.7,2084.7 C925.5,2082.6 932.3,2083.1 938.9,2082.9 C945.5,2082.8 955.5,2082.6 961.3,2083.8 C967.0,2084.9 969.6,2087.4 973.3,2089.8 C977.1,2092.3 979.6,2095.3 983.7,2098.4 C987.7,2101.6 992.8,2105.0 997.4,2108.8 C1002.0,2112.5 1006.6,2117.1 1011.2,2120.8 C1015.8,2124.5 1019.8,2127.7 1025.0,2131.1 C1030.2,2134.6 1036.5,2138.0 1042.2,2141.5 C1047.9,2144.9 1054.5,2148.1 1059.4,2151.8 C1064.3,2155.5 1070.9,2160.7 1071.5,2163.9 C1072.1,2167.0 1066.3,2169.5 1062.9,2170.8 C1059.4,2172.0 1055.7,2172.2 1050.8,2171.6 C1045.9,2171.0 1039.3,2170.6 1033.6,2167.3 C1027.9,2164.0 1021.3,2155.8 1016.4,2151.8 C1011.5,2147.8 1010.1,2145.5 1004.3,2143.2 C998.6,2140.9 990.0,2139.8 981.9,2138.0 C973.9,2136.3 964.7,2134.3 956.1,2132.9 C947.5,2131.4 936.6,2131.7 930.3,2129.4 C924.0,2127.1 920.7,2123.1 918.2,2119.1 C915.8,2115.1 916.1,2109.3 915.6,2105.3 C915.2,2101.3 914.6,2098.4 915.6,2095.0 Z" fill="#ff4500"/>
<path d="M926.8,2098.4 C927.7,2095.0 932.0,2093.1 935.4,2091.5 C938.9,2090.0 943.5,2089.0 947.5,2089.0 C951.5,2089.0 955.8,2089.7 959.5,2091.5 C963.3,2093.4 966.4,2097.0 969.9,2100.2 C973.3,2103.3 977.9,2107.3 980.2,2110.5 C982.5,2113.6 984.8,2116.8 983.7,2119.1 C982.5,2121.4 977.9,2123.4 973.3,2124.3 C968.7,2125.1 961.3,2124.8 956.1,2124.3 C950.9,2123.7 946.6,2122.8 942.3,2120.8 C938.0,2118.8 932.9,2115.9 930.3,2112.2 C927.7,2108.5 926.0,2101.9 926.8,2098.4 Z" fill="#ff0000"/>
<path d="M944.9,2107.9 C945.3,2106.7 947.6,2104.2 949.2,2103.6 C950.8,2103.0 952.7,2103.7 954.4,2104.5 C956.1,2105.2 959.8,2106.9 959.5,2107.9 C959.3,2108.9 954.8,2110.0 952.7,2110.5 C950.5,2111.0 947.9,2111.3 946.6,2110.8 C945.3,2110.4 944.5,2109.1 944.9,2107.9 Z" fill="#8b0000"/>
<path d="M939.7,1962.4 C940.0,1959.1 937.3,1955.9 942.3,1954.6 C947.3,1953.3 963.9,1952.8 969.9,1954.6 C975.9,1956.5 975.3,1962.1 978.5,1965.8 C981.6,1969.6 988.0,1973.9 988.8,1977.0 C989.7,1980.2 986.2,1981.8 983.7,1984.8 C981.1,1987.8 976.2,1991.7 973.3,1995.1 C970.5,1998.6 968.4,2002.4 966.4,2005.4 C964.4,2008.5 963.3,2013.2 961.3,2013.2 C959.3,2013.2 957.0,2009.3 954.4,2005.4 C951.8,2001.6 948.1,1995.1 945.8,1989.9 C943.5,1984.8 941.6,1979.0 940.6,1974.4 C939.6,1969.8 939.5,1965.7 939.7,1962.4 Z" fill="#ffa500"/>
<path d="M945.8,1965.8 C946.5,1963.5 947.5,1960.1 950.9,1958.9 C954.4,1957.8 962.4,1956.9 966.4,1958.9 C970.5,1961.0 973.3,1967.6 975.0,1971.0 C976.8,1974.4 977.1,1976.5 976.8,1979.6 C976.5,1982.8 975.0,1987.1 973.3,1989.9 C971.6,1992.8 968.7,1995.1 966.4,1996.8 C964.1,1998.6 961.6,2000.8 959.5,2000.3 C957.5,1999.7 956.2,1996.5 954.4,1993.4 C952.5,1990.2 949.6,1984.8 948.4,1981.3 C947.1,1977.9 947.1,1975.3 946.6,1972.7 C946.2,1970.1 945.1,1968.1 945.8,1965.8 Z" fill="#ff4500"/>
<path d="M949.2,1969.3 C950.1,1966.3 953.2,1964.1 956.1,1963.2 C959.0,1962.4 963.6,1962.5 966.4,1964.1 C969.3,1965.7 972.2,1969.6 973.3,1972.7 C974.5,1975.9 974.2,1979.6 973.3,1983.1 C972.5,1986.5 970.2,1991.1 968.2,1993.4 C966.1,1995.7 963.3,1997.1 961.3,1996.8 C959.3,1996.5 957.8,1994.2 956.1,1991.7 C954.4,1989.1 952.1,1985.1 950.9,1981.3 C949.8,1977.6 948.4,1972.3 949.2,1969.3 Z" fill="#ff0000"/>
<path d="M956.1,1974.4 C956.7,1972.6 959.5,1971.6 961.3,1971.9 C963.0,1972.1 965.7,1974.3 966.4,1976.2 C967.2,1978.0 966.4,1981.3 965.6,1983.1 C964.7,1984.8 962.6,1986.5 961.3,1986.5 C960.0,1986.5 958.7,1985.1 957.8,1983.1 C957.0,1981.0 955.5,1976.3 956.1,1974.4 Z" fill="#8b0000"/>
<path d="M898.9,1965.8 L901.0,1965.0 L901.9,1972.7 L899.6,1972.7 Z" fill="#ffa500"/>
<path d="M1047.4,2008.9 C1047.1,2004.9 1049.4,1998.0 1050.8,1991.7 C1052.3,1985.3 1054.3,1977.2 1056.0,1971.0 C1057.7,1964.8 1058.0,1957.4 1061.1,1954.6 C1064.3,1951.9 1072.3,1951.3 1074.9,1954.6 C1077.5,1957.9 1075.5,1968.3 1076.6,1974.4 C1077.8,1980.6 1079.8,1986.8 1081.8,1991.7 C1083.8,1996.5 1086.7,2003.7 1088.7,2003.7 C1090.7,2003.7 1091.9,1998.6 1093.9,1991.7 C1095.9,1984.8 1097.9,1967.8 1100.8,1962.4 C1103.6,1956.9 1107.4,1957.8 1111.1,1958.9 C1114.8,1960.1 1123.6,1969.3 1123.1,1969.3 C1122.7,1969.3 1109.0,1959.5 1108.6,1958.9 C1108.2,1958.4 1116.6,1963.5 1120.7,1965.8 C1124.7,1968.1 1129.0,1972.7 1132.7,1972.7 C1136.5,1972.7 1139.6,1968.3 1143.1,1965.8 C1146.5,1963.4 1150.2,1958.7 1153.4,1958.1 C1156.5,1957.5 1159.1,1959.4 1162.0,1962.4 C1164.9,1965.4 1168.7,1971.9 1170.6,1976.2 C1172.5,1980.5 1173.8,1984.5 1173.2,1988.2 C1172.6,1991.9 1169.6,1995.1 1167.2,1998.6 C1164.7,2002.0 1161.4,2009.2 1158.6,2008.9 C1155.7,2008.6 1152.8,2000.3 1149.9,1996.8 C1147.1,1993.4 1143.9,1990.2 1141.3,1988.2 C1138.7,1986.2 1137.0,1983.6 1134.4,1984.8 C1131.9,1985.9 1128.1,1991.1 1125.8,1995.1 C1123.5,1999.1 1121.7,2004.9 1120.7,2008.9 C1119.7,2012.9 1121.0,2016.6 1119.8,2019.2 C1118.7,2021.8 1116.5,2024.4 1113.8,2024.4 C1111.0,2024.4 1103.9,2019.2 1103.4,2019.2 C1103.0,2019.2 1111.8,2025.0 1111.1,2024.4 C1110.4,2023.8 1102.8,2018.1 1099.0,2015.8 C1095.3,2013.5 1092.4,2010.6 1088.7,2010.6 C1085.0,2010.6 1080.7,2014.3 1076.6,2015.8 C1072.6,2017.2 1068.6,2019.2 1064.6,2019.2 C1060.6,2019.2 1055.4,2017.5 1052.5,2015.8 C1049.7,2014.0 1047.7,2012.9 1047.4,2008.9 Z" fill="#ffe4c4"/>
<path d="M1084.4,2077.8 C1085.7,2076.2 1089.1,2074.8 1092.1,2075.2 C1095.2,2075.6 1098.7,2078.5 1102.5,2080.3 C1106.2,2082.2 1111.9,2084.5 1114.5,2086.4 C1117.1,2088.2 1117.3,2089.7 1118.0,2091.5 C1118.7,2093.4 1121.4,2096.4 1118.8,2097.6 C1116.3,2098.7 1106.9,2099.4 1102.5,2098.4 C1098.0,2097.4 1095.2,2093.8 1092.1,2091.5 C1089.1,2089.2 1085.7,2086.9 1084.4,2084.7 C1083.1,2082.4 1083.1,2079.3 1084.4,2077.8 Z" fill="#ffe4c4"/>
<path d="M888.9,2299.0 C891.5,2297.8 896.1,2296.0 904.4,2294.7 C912.8,2293.5 924.5,2291.9 938.9,2291.3 C953.2,2290.7 973.3,2291.0 990.5,2291.3 C1007.8,2291.6 1025.0,2291.9 1042.2,2293.0 C1059.4,2294.2 1083.8,2296.6 1093.9,2298.2 C1103.9,2299.8 1136.6,2301.8 1102.5,2302.5 C1068.3,2303.2 924.5,2303.1 888.9,2302.5 C853.4,2301.9 886.4,2300.3 888.9,2299.0 Z" fill="#ffe4c4"/>
<path d="M1143.1,2032.1 C1143.3,2030.3 1149.4,2028.5 1151.7,2028.7 C1154.0,2028.8 1155.2,2030.6 1156.8,2033.0 C1158.4,2035.4 1161.1,2041.5 1161.1,2043.3 C1161.1,2045.2 1158.7,2044.8 1156.8,2044.2 C1155.0,2043.6 1152.2,2041.9 1149.9,2039.9 C1147.6,2037.9 1142.8,2034.0 1143.1,2032.1 Z" fill="#ffe4c4"/>
<path d="M1230.9,1957.2 C1231.2,1953.9 1227.7,1955.1 1230.9,1954.6 C1234.0,1954.2 1246.4,1952.2 1249.8,1954.6 C1253.3,1957.1 1251.7,1964.0 1251.5,1969.3 C1251.4,1974.6 1248.4,1981.3 1249.0,1986.5 C1249.5,1991.7 1252.3,1995.1 1255.0,2000.3 C1257.7,2005.4 1261.7,2012.0 1265.3,2017.5 C1268.9,2022.9 1275.1,2028.7 1276.5,2033.0 C1277.9,2037.3 1276.7,2041.2 1273.9,2043.3 C1271.2,2045.5 1264.7,2045.9 1260.2,2045.9 C1255.6,2045.9 1249.5,2044.9 1246.4,2043.3 C1243.2,2041.7 1242.9,2040.7 1241.2,2036.4 C1239.5,2032.1 1238.2,2022.9 1236.0,2017.5 C1233.9,2012.0 1229.9,2008.0 1228.3,2003.7 C1226.7,1999.4 1226.4,1996.5 1226.6,1991.7 C1226.7,1986.8 1228.4,1980.2 1229.2,1974.4 C1229.9,1968.7 1230.6,1960.5 1230.9,1957.2 Z" fill="#ffe4c4"/>
<path d="M1275.7,1965.8 C1275.4,1960.2 1262.1,1956.5 1280.8,1954.6 C1299.6,1952.8 1370.1,1952.5 1388.2,1954.6 C1406.2,1956.8 1389.3,1963.7 1389.0,1967.6 C1388.7,1971.4 1387.7,1975.0 1386.4,1977.9 C1385.1,1980.8 1382.7,1982.2 1381.3,1984.8 C1379.8,1987.4 1378.7,1989.4 1377.8,1993.4 C1377.0,1997.4 1375.5,2004.6 1376.1,2008.9 C1376.7,2013.2 1380.3,2015.8 1381.3,2019.2 C1382.3,2022.7 1382.4,2025.5 1382.1,2029.5 C1381.8,2033.6 1380.0,2039.3 1379.5,2043.3 C1379.1,2047.3 1378.4,2050.8 1379.5,2053.7 C1380.7,2056.5 1382.7,2058.0 1386.4,2060.5 C1390.2,2063.1 1397.6,2066.6 1401.9,2069.2 C1406.2,2071.7 1410.1,2073.2 1412.3,2076.0 C1414.4,2078.9 1414.8,2082.9 1414.8,2086.4 C1414.8,2089.8 1414.1,2094.1 1412.3,2096.7 C1410.4,2099.3 1408.2,2101.2 1403.7,2101.9 C1399.1,2102.6 1390.7,2101.3 1384.7,2101.0 C1378.7,2100.7 1373.2,2099.7 1367.5,2100.2 C1361.8,2100.6 1355.2,2101.9 1350.3,2103.6 C1345.4,2105.3 1341.9,2107.9 1338.2,2110.5 C1334.5,2113.1 1330.8,2115.9 1327.9,2119.1 C1325.0,2122.3 1323.6,2126.8 1321.0,2129.4 C1318.4,2132.0 1316.1,2133.7 1312.4,2134.6 C1308.7,2135.5 1302.3,2135.2 1298.6,2134.6 C1294.9,2134.0 1287.2,2131.1 1290.0,2131.1 C1292.8,2131.1 1313.9,2134.0 1315.3,2134.6 C1316.6,2135.2 1305.2,2135.7 1298.0,2134.6 C1290.9,2133.4 1280.8,2130.3 1272.2,2127.7 C1263.6,2125.1 1252.7,2122.3 1246.4,2119.1 C1240.1,2115.9 1231.5,2112.2 1234.3,2108.8 C1237.2,2105.3 1254.4,2101.7 1263.6,2098.4 C1272.8,2095.1 1279.4,2091.0 1289.4,2089.0 C1299.5,2086.9 1316.6,2087.4 1323.9,2086.4 C1331.1,2085.4 1329.8,2084.4 1333.1,2082.9 C1336.3,2081.5 1340.8,2080.9 1343.4,2077.8 C1346.0,2074.6 1348.0,2069.2 1348.6,2064.0 C1349.1,2058.8 1347.7,2052.2 1346.8,2046.8 C1346.0,2041.3 1342.8,2035.3 1343.4,2031.3 C1344.0,2027.3 1349.1,2027.0 1350.3,2022.7 C1351.4,2018.4 1352.0,2009.7 1350.3,2005.4 C1348.6,2001.1 1343.4,1997.4 1339.9,1996.8 C1336.5,1996.3 1332.5,1999.4 1329.6,2002.0 C1326.7,2004.6 1325.6,2009.7 1322.7,2012.3 C1319.8,2014.9 1315.9,2017.5 1312.4,2017.5 C1308.8,2017.5 1304.7,2015.2 1301.5,2012.3 C1298.2,2009.5 1296.0,2004.3 1292.9,2000.3 C1289.7,1996.3 1285.4,1994.0 1282.5,1988.2 C1279.7,1982.5 1275.9,1971.4 1275.7,1965.8 Z" fill="#ffe4c4"/>
<path d="M1289.4,1967.6 C1290.6,1963.5 1294.3,1960.7 1298.0,1958.9 C1301.8,1957.2 1308.1,1956.1 1311.8,1957.2 C1315.5,1958.4 1317.6,1962.7 1320.4,1965.8 C1323.3,1969.0 1327.2,1972.7 1329.0,1976.2 C1330.9,1979.6 1332.2,1983.1 1331.6,1986.5 C1331.0,1989.9 1328.0,1993.7 1325.6,1996.8 C1323.2,2000.0 1320.1,2004.3 1317.0,2005.4 C1313.8,2006.6 1309.8,2005.4 1306.6,2003.7 C1303.5,2002.0 1300.6,1998.6 1298.0,1995.1 C1295.5,1991.7 1292.6,1987.6 1291.1,1983.1 C1289.7,1978.5 1288.3,1971.6 1289.4,1967.6 Z" fill="#ffa500"/>
<path d="M1296.3,1974.4 C1296.6,1971.0 1298.9,1967.6 1301.5,1965.8 C1304.1,1964.1 1308.9,1963.0 1311.8,1964.1 C1314.7,1965.3 1316.7,1969.6 1318.7,1972.7 C1320.7,1975.9 1323.6,1979.3 1323.9,1983.1 C1324.2,1986.8 1322.1,1992.4 1320.4,1995.1 C1318.7,1997.8 1316.1,1999.1 1313.5,1999.4 C1311.0,1999.7 1307.2,1999.0 1304.9,1996.8 C1302.6,1994.7 1301.2,1990.2 1299.8,1986.5 C1298.3,1982.8 1296.0,1977.9 1296.3,1974.4 Z" fill="#ff4500"/>
<path d="M1303.2,1976.2 C1304.1,1974.4 1308.1,1973.3 1310.1,1974.4 C1312.1,1975.6 1314.7,1980.2 1315.3,1983.1 C1315.8,1985.9 1314.7,1990.2 1313.5,1991.7 C1312.4,1993.1 1309.8,1992.8 1308.4,1991.7 C1306.9,1990.5 1305.8,1987.4 1304.9,1984.8 C1304.1,1982.2 1302.3,1977.9 1303.2,1976.2 Z" fill="#ff0000"/>
<path d="M1346.8,1977.0 C1348.0,1973.3 1353.1,1965.9 1355.4,1962.4 C1357.7,1958.9 1357.4,1956.9 1360.6,1955.8 C1363.8,1954.8 1371.2,1953.9 1374.4,1955.8 C1377.5,1957.8 1379.0,1963.9 1379.5,1967.6 C1380.1,1971.2 1379.0,1974.2 1377.8,1977.9 C1376.7,1981.6 1375.0,1985.6 1372.7,1989.9 C1370.4,1994.2 1366.9,2003.1 1364.0,2003.7 C1361.2,2004.3 1358.0,1996.5 1355.4,1993.4 C1352.9,1990.2 1350.0,1987.5 1348.6,1984.8 C1347.1,1982.0 1345.7,1980.8 1346.8,1977.0 Z" fill="#ffa500"/>
<path d="M1355.4,1976.2 C1356.4,1973.3 1359.9,1967.7 1362.3,1965.8 C1364.8,1964.0 1368.8,1963.0 1370.1,1965.0 C1371.4,1967.0 1370.8,1974.0 1370.1,1977.9 C1369.4,1981.8 1367.3,1986.2 1365.8,1988.2 C1364.2,1990.2 1362.2,1990.8 1360.6,1989.9 C1359.0,1989.1 1357.2,1985.3 1356.3,1983.1 C1355.4,1980.8 1354.4,1979.0 1355.4,1976.2 Z" fill="#ff4500"/>
<path d="M1426.0,1954.6 C1438.8,1952.8 1486.6,1952.8 1500.1,1954.6 C1513.6,1956.5 1504.7,1961.7 1507.0,1965.8 C1509.3,1970.0 1512.0,1975.9 1513.9,1979.6 C1515.7,1983.3 1517.6,1985.3 1518.2,1988.2 C1518.7,1991.1 1518.3,1994.2 1517.3,1996.8 C1516.3,1999.4 1514.7,2001.7 1512.1,2003.7 C1509.6,2005.7 1505.8,2007.0 1501.8,2008.9 C1497.8,2010.7 1491.5,2014.9 1488.0,2014.9 C1484.6,2014.9 1483.2,2011.3 1481.1,2008.9 C1479.1,2006.4 1478.6,2003.1 1476.0,2000.3 C1473.4,1997.4 1469.7,1992.8 1465.7,1991.7 C1461.6,1990.5 1455.9,1993.4 1451.9,1993.4 C1447.9,1993.4 1445.3,1992.8 1441.5,1991.7 C1437.8,1990.5 1432.6,1989.1 1429.5,1986.5 C1426.3,1983.9 1423.6,1979.6 1422.6,1976.2 C1421.6,1972.7 1422.9,1969.4 1423.5,1965.8 C1424.0,1962.2 1413.3,1956.5 1426.0,1954.6 Z" fill="#ffe4c4"/>
<path d="M1441.5,1974.4 C1442.5,1973.0 1445.8,1968.1 1448.4,1968.4 C1451.0,1968.7 1457.0,1974.4 1457.0,1976.2 C1457.0,1977.9 1450.9,1978.6 1448.4,1978.7 C1446.0,1978.9 1443.6,1977.7 1442.4,1977.0 C1441.3,1976.3 1440.5,1975.9 1441.5,1974.4 Z" fill="#ffa500"/>
<path d="M1465.7,1977.0 C1465.7,1973.3 1472.3,1970.0 1476.0,1967.6 C1479.7,1965.1 1484.6,1963.0 1488.0,1962.4 C1491.5,1961.8 1493.8,1962.1 1496.6,1964.1 C1499.5,1966.1 1503.4,1971.0 1505.3,1974.4 C1507.1,1977.9 1508.4,1981.0 1507.8,1984.8 C1507.3,1988.5 1504.5,1994.0 1501.8,1996.8 C1499.1,1999.7 1494.6,2001.4 1491.5,2002.0 C1488.3,2002.6 1485.5,2002.3 1482.9,2000.3 C1480.3,1998.3 1478.9,1993.8 1476.0,1989.9 C1473.1,1986.1 1465.7,1980.8 1465.7,1977.0 Z" fill="#ffa500"/>
<path d="M1479.4,1979.6 C1480.0,1977.5 1482.6,1974.9 1484.6,1973.6 C1486.6,1972.3 1489.2,1971.1 1491.5,1971.9 C1493.8,1972.6 1497.1,1975.6 1498.4,1977.9 C1499.7,1980.2 1500.1,1983.3 1499.2,1985.6 C1498.4,1987.9 1495.4,1990.7 1493.2,1991.7 C1491.1,1992.7 1488.3,1992.5 1486.3,1991.7 C1484.3,1990.8 1482.3,1988.5 1481.1,1986.5 C1480.0,1984.5 1478.9,1981.8 1479.4,1979.6 Z" fill="#ff4500"/>
<path d="M1255.0,2217.3 C1255.0,2215.5 1263.6,2214.7 1272.2,2213.8 C1280.8,2212.9 1295.2,2212.5 1306.6,2212.1 C1318.1,2211.7 1332.4,2211.8 1341.1,2211.2 C1349.8,2210.7 1350.2,2209.9 1358.9,2208.6 C1367.6,2207.3 1383.3,2204.6 1393.3,2203.5 C1403.4,2202.3 1410.5,2202.9 1419.2,2201.8 C1427.8,2200.6 1436.4,2198.3 1445.0,2196.6 C1453.6,2194.9 1463.6,2192.0 1470.8,2191.4 C1478.0,2190.8 1484.2,2192.3 1488.0,2193.1 C1491.9,2194.0 1494.1,2194.3 1494.1,2196.6 C1494.1,2198.9 1491.9,2203.8 1488.0,2206.9 C1484.2,2210.1 1478.0,2213.2 1470.8,2215.5 C1463.6,2217.8 1455.0,2219.3 1445.0,2220.7 C1434.9,2222.1 1422.0,2223.0 1410.5,2224.1 C1399.1,2225.3 1387.6,2226.7 1376.1,2227.6 C1364.6,2228.4 1351.8,2228.7 1341.7,2229.3 C1331.5,2229.9 1324.0,2231.0 1315.3,2231.0 C1306.6,2231.0 1296.6,2230.5 1289.4,2229.3 C1282.3,2228.2 1277.9,2226.1 1272.2,2224.1 C1266.5,2222.1 1255.0,2219.0 1255.0,2217.3 Z" fill="#ffe4c4"/>
</g>
<g clip-path="url(#ca4)" fill="none" stroke="#000">
<path d="M907.0,2103.6 C907.3,2098.4 908.3,2091.8 909.6,2088.1 C910.9,2084.4 912.2,2082.8 914.8,2081.2 C917.4,2079.6 919.7,2079.2 925.1,2078.6 C930.6,2078.1 940.3,2077.9 947.5,2077.8 C954.7,2077.6 963.9,2077.2 968.2,2077.8 C972.5,2078.3 971.0,2078.9 973.3,2081.2 C975.6,2083.5 979.1,2088.4 981.9,2091.5 C984.8,2094.7 986.2,2096.7 990.5,2100.2 C994.8,2103.6 1002.3,2107.9 1007.8,2112.2 C1013.2,2116.5 1017.5,2122.5 1023.3,2126.0 C1029.0,2129.4 1034.7,2130.6 1042.2,2132.9 C1049.7,2135.2 1060.9,2137.2 1068.0,2139.8 C1075.2,2142.3 1079.8,2144.9 1085.3,2148.4 C1090.7,2151.8 1097.6,2156.7 1100.8,2160.4 C1103.9,2164.2 1104.8,2167.9 1104.2,2170.8 C1103.6,2173.6 1101.9,2175.6 1097.3,2177.6 C1092.7,2179.7 1084.4,2181.5 1076.6,2182.8 C1068.9,2184.1 1059.4,2185.2 1050.8,2185.4 C1042.2,2185.5 1032.2,2185.2 1025.0,2183.7 C1017.8,2182.1 1010.9,2178.6 1007.8,2175.9 C1004.6,2173.2 1007.5,2170.5 1006.0,2167.3 C1004.6,2164.2 1001.7,2159.8 999.2,2157.0 C996.6,2154.1 996.3,2152.4 990.5,2150.1 C984.8,2147.8 971.9,2145.2 964.7,2143.2 C957.5,2141.2 953.8,2139.5 947.5,2138.0 C941.2,2136.6 932.6,2136.0 926.8,2134.6 C921.1,2133.2 916.2,2132.0 913.1,2129.4 C909.9,2126.8 908.9,2123.4 907.9,2119.1 C906.9,2114.8 906.7,2108.8 907.0,2103.6 Z" stroke-width="1.25"/>
<path d="M948.4,1972.7 C948.9,1970.3 950.1,1966.5 951.8,1965.0 C953.5,1963.4 956.0,1962.8 958.7,1963.2 C961.4,1963.7 965.6,1965.4 968.2,1967.6 C970.7,1969.7 973.0,1973.6 974.2,1976.2 C975.3,1978.7 975.5,1980.5 975.0,1983.1 C974.6,1985.6 973.0,1989.4 971.6,1991.7 C970.2,1994.0 968.3,1995.3 966.4,1996.8 C964.6,1998.3 962.1,2000.6 960.4,2000.6 C958.7,2000.6 957.5,1999.2 956.1,1996.8 C954.7,1994.5 953.1,1989.4 951.8,1986.5 C950.5,1983.6 948.9,1981.9 948.4,1979.6 C947.8,1977.3 947.8,1975.2 948.4,1972.7 Z" stroke-width="1.25"/>
<path d="M1300.6,1977.9 C1300.9,1975.6 1303.3,1973.7 1304.9,1972.7 C1306.5,1971.7 1308.1,1971.0 1310.1,1971.9 C1312.1,1972.7 1315.4,1975.4 1317.0,1977.9 C1318.6,1980.3 1319.6,1984.2 1319.6,1986.5 C1319.6,1988.8 1318.3,1990.4 1317.0,1991.7 C1315.7,1993.0 1313.5,1994.2 1311.8,1994.2 C1310.1,1994.2 1308.1,1993.0 1306.6,1991.7 C1305.2,1990.4 1304.2,1988.8 1303.2,1986.5 C1302.2,1984.2 1300.3,1980.2 1300.6,1977.9 Z" stroke-width="1.25"/>
<path d="M895.5,1950.7 L895.9,1954.2 L896.4,1957.7 L896.8,1961.2 L897.3,1964.7 L897.8,1968.2 L898.3,1971.7 L898.8,1975.2 L899.3,1978.7 L899.9,1982.2 L900.4,1985.7 L901.0,1989.2 L901.6,1992.7 L902.2,1996.3 L902.8,1999.8 L903.5,2003.3 L904.1,2006.8 L904.8,2010.3 L905.5,2013.8 L906.2,2017.3 L907.0,2020.8 L907.7,2024.3 L908.5,2027.8 L909.3,2031.3 L910.1,2034.8 L911.0,2038.3 L911.9,2041.8 L912.7,2045.3 L913.7,2048.8 L914.6,2052.3 L915.6,2055.8 L916.6,2059.3 L917.6,2062.8 L918.7,2066.3 L919.8,2069.8 L920.9,2073.3 L922.0,2076.8 L923.2,2080.3 L924.4,2083.9 L925.7,2087.4 L927.0,2090.9 L928.3,2094.4 L929.6,2097.9 L931.0,2101.4 L932.5,2104.9 L933.9,2108.4 L935.5,2111.9 L937.0,2115.4 L938.6,2118.9 L940.3,2122.4 L942.0,2125.9 L943.7,2129.4 L945.5,2132.9 L947.3,2136.4 L949.2,2139.9 L951.2,2143.4 L953.2,2146.9 L955.2,2150.4 L957.3,2153.9 L959.5,2157.4 L961.8,2160.9 L964.1,2164.4 L966.4,2167.9 L968.8,2171.5 L971.3,2175.0 L973.9,2178.5 L976.6,2182.0 L979.3,2185.5 L982.1,2189.0 L984.9,2192.5 L987.9,2196.0 L990.9,2199.5 L994.0,2203.0 L997.2,2206.5 L1000.5,2210.0 L1003.9,2213.5 L1007.4,2217.0 L1011.0,2220.5 L1014.7,2224.0 L1018.5,2227.5 L1022.3,2231.0 L1026.3,2234.5 L1030.5,2238.0 L1034.7,2241.5 L1039.0,2245.0 L1043.5,2248.5 L1048.1,2252.0 L1052.8,2255.5 L1057.7,2259.1 L1062.7,2262.6 L1067.8,2266.1 L1073.1,2269.6 L1078.5,2273.1 L1084.1,2276.6 L1089.9,2280.1 L1095.8,2283.6 L1101.8,2287.1 L1108.1,2290.6 L1114.5,2294.1 L1121.1,2297.6 L1127.8,2301.1" stroke-width="1.25"/>
<path d="M1517.5,1950.7 L1517.1,1954.2 L1516.6,1957.7 L1516.2,1961.2 L1515.7,1964.7 L1515.2,1968.2 L1514.7,1971.7 L1514.2,1975.2 L1513.7,1978.7 L1513.1,1982.2 L1512.6,1985.7 L1512.0,1989.2 L1511.4,1992.7 L1510.8,1996.3 L1510.2,1999.8 L1509.5,2003.3 L1508.9,2006.8 L1508.2,2010.3 L1507.5,2013.8 L1506.8,2017.3 L1506.0,2020.8 L1505.3,2024.3 L1504.5,2027.8 L1503.7,2031.3 L1502.9,2034.8 L1502.0,2038.3 L1501.1,2041.8 L1500.3,2045.3 L1499.3,2048.8 L1498.4,2052.3 L1497.4,2055.8 L1496.4,2059.3 L1495.4,2062.8 L1494.3,2066.3 L1493.2,2069.8 L1492.1,2073.3 L1491.0,2076.8 L1489.8,2080.3 L1488.6,2083.9 L1487.3,2087.4 L1486.0,2090.9 L1484.7,2094.4 L1483.4,2097.9 L1482.0,2101.4 L1480.5,2104.9 L1479.1,2108.4 L1477.5,2111.9 L1476.0,2115.4 L1474.4,2118.9 L1472.7,2122.4 L1471.0,2125.9 L1469.3,2129.4 L1467.5,2132.9 L1465.7,2136.4 L1463.8,2139.9 L1461.8,2143.4 L1459.8,2146.9 L1457.8,2150.4 L1455.7,2153.9 L1453.5,2157.4 L1451.2,2160.9 L1448.9,2164.4 L1446.6,2167.9 L1444.2,2171.5 L1441.7,2175.0 L1439.1,2178.5 L1436.4,2182.0 L1433.7,2185.5 L1430.9,2189.0 L1428.1,2192.5 L1425.1,2196.0 L1422.1,2199.5 L1419.0,2203.0 L1415.8,2206.5 L1412.5,2210.0 L1409.1,2213.5 L1405.6,2217.0 L1402.0,2220.5 L1398.3,2224.0 L1394.5,2227.5 L1390.7,2231.0 L1386.7,2234.5 L1382.5,2238.0 L1378.3,2241.5 L1374.0,2245.0 L1369.5,2248.5 L1364.9,2252.0 L1360.2,2255.5 L1355.3,2259.1 L1350.3,2262.6 L1345.2,2266.1 L1339.9,2269.6 L1334.5,2273.1 L1328.9,2276.6 L1323.1,2280.1 L1317.2,2283.6 L1311.2,2287.1 L1304.9,2290.6 L1298.5,2294.1 L1291.9,2297.6 L1285.2,2301.1" stroke-width="1.25"/>
</g>
<line x1="873.7" y1="2301.1" x2="1539.2" y2="2301.1" stroke="#111" stroke-width="1.1"/>
<line x1="873.7" y1="1950.7" x2="873.7" y2="2301.1" stroke="#111" stroke-width="1.1"/>
<line x1="1539.2" y1="1950.7" x2="1539.2" y2="2301.1" stroke="#111" stroke-width="1.1"/>
<line x1="873.7" y1="1950.7" x2="1539.2" y2="1950.7" stroke="#999" stroke-width="1.1"/>
</svg></body></html>
